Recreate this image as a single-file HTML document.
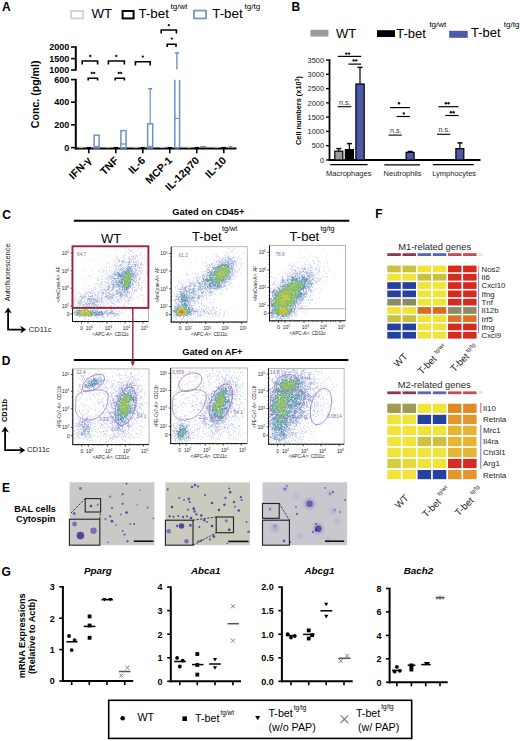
<!DOCTYPE html>
<html><head><meta charset="utf-8"><style>
html,body{margin:0;padding:0;background:#fff;}
svg{display:block;font-family:"Liberation Sans",sans-serif;}
</style></head><body>
<svg width="520" height="741" viewBox="0 0 520 741">
<defs><filter id="sb" x="-5%" y="-5%" width="110%" height="110%"><feGaussianBlur stdDeviation="0.4"/></filter><filter id="bl" x="-1" y="-1" width="3" height="3"><feGaussianBlur stdDeviation="1.2"/></filter></defs>
<rect width="520" height="741" fill="#fff"/>
<text x="2" y="10.8" font-size="12" font-weight="bold">A</text>
<rect x="71.2" y="11" width="12" height="7.4" fill="none" stroke="#cfcfcf" stroke-width="1.8"/>
<text x="91.5" y="17.8" font-size="13.3">WT</text>
<rect x="122.6" y="11" width="11" height="7.4" fill="none" stroke="#000" stroke-width="2"/>
<text x="138.4" y="17.8" font-size="13.4">T-bet</text>
<text x="170.6" y="8.6" font-size="8">tg/wt</text>
<rect x="194" y="10.6" width="12" height="7.8" fill="none" stroke="#7a94c8" stroke-width="1.8"/>
<text x="212.2" y="17.8" font-size="13.4">T-bet</text>
<text x="244.6" y="8.6" font-size="8">tg/tg</text>
<line x1="75.8" y1="46.2" x2="75.8" y2="70.8" stroke="#000" stroke-width="2"/>
<line x1="71" y1="47" x2="75.8" y2="47" stroke="#000" stroke-width="1.6"/>
<text x="69.2" y="50.2" font-size="9" font-weight="bold" text-anchor="end">2000</text>
<line x1="71" y1="58.6" x2="75.8" y2="58.6" stroke="#000" stroke-width="1.6"/>
<text x="69.2" y="61.8" font-size="9" font-weight="bold" text-anchor="end">1500</text>
<line x1="71" y1="70" x2="75.8" y2="70" stroke="#000" stroke-width="1.6"/>
<text x="69.2" y="73.2" font-size="9" font-weight="bold" text-anchor="end">1000</text>
<line x1="75.8" y1="78.8" x2="75.8" y2="149.5" stroke="#000" stroke-width="2"/>
<line x1="71" y1="79.6" x2="75.8" y2="79.6" stroke="#000" stroke-width="1.6"/>
<text x="69.2" y="82.8" font-size="9" font-weight="bold" text-anchor="end">600</text>
<line x1="71" y1="102.2" x2="75.8" y2="102.2" stroke="#000" stroke-width="1.6"/>
<text x="69.2" y="105.4" font-size="9" font-weight="bold" text-anchor="end">400</text>
<line x1="71" y1="124.8" x2="75.8" y2="124.8" stroke="#000" stroke-width="1.6"/>
<text x="69.2" y="128" font-size="9" font-weight="bold" text-anchor="end">200</text>
<line x1="71" y1="147.6" x2="75.8" y2="147.6" stroke="#000" stroke-width="1.6"/>
<text x="69.2" y="150.8" font-size="9" font-weight="bold" text-anchor="end">0</text>
<line x1="74.8" y1="148.6" x2="236.5" y2="148.6" stroke="#000" stroke-width="2"/>
<line x1="88.8" y1="148.6" x2="88.8" y2="153.2" stroke="#000" stroke-width="1.6"/>
<line x1="115.8" y1="148.6" x2="115.8" y2="153.2" stroke="#000" stroke-width="1.6"/>
<line x1="142.8" y1="148.6" x2="142.8" y2="153.2" stroke="#000" stroke-width="1.6"/>
<line x1="169.8" y1="148.6" x2="169.8" y2="153.2" stroke="#000" stroke-width="1.6"/>
<line x1="196.8" y1="148.6" x2="196.8" y2="153.2" stroke="#000" stroke-width="1.6"/>
<line x1="223.8" y1="148.6" x2="223.8" y2="153.2" stroke="#000" stroke-width="1.6"/>
<text transform="translate(39.2,128.2) rotate(-90)" font-size="10.6" font-weight="bold">Conc. (pg/ml)</text>
<text transform="translate(92,161.2) rotate(-45)" font-size="10.6" font-weight="bold" text-anchor="end">IFN-γ</text>
<text transform="translate(119,161.2) rotate(-45)" font-size="10.6" font-weight="bold" text-anchor="end">TNF</text>
<text transform="translate(146,161.2) rotate(-45)" font-size="10.6" font-weight="bold" text-anchor="end">IL-6</text>
<text transform="translate(173,161.2) rotate(-45)" font-size="10.6" font-weight="bold" text-anchor="end">MCP-1</text>
<text transform="translate(200,161.2) rotate(-45)" font-size="10.6" font-weight="bold" text-anchor="end">IL-12p70</text>
<text transform="translate(227,161.2) rotate(-45)" font-size="10.6" font-weight="bold" text-anchor="end">IL-10</text>
<line x1="79.3" y1="147.4" x2="83.3" y2="147.4" stroke="#bdbdbd" stroke-width="1.4"/>
<line x1="86.6" y1="147.6" x2="91" y2="147.6" stroke="#000" stroke-width="1.4"/>
<line x1="106.3" y1="147.4" x2="110.3" y2="147.4" stroke="#bdbdbd" stroke-width="1.4"/>
<line x1="113.6" y1="147.6" x2="118" y2="147.6" stroke="#000" stroke-width="1.4"/>
<line x1="133.3" y1="147.4" x2="137.3" y2="147.4" stroke="#bdbdbd" stroke-width="1.4"/>
<line x1="140.6" y1="147.6" x2="145" y2="147.6" stroke="#000" stroke-width="1.4"/>
<line x1="160.3" y1="147.4" x2="164.3" y2="147.4" stroke="#bdbdbd" stroke-width="1.4"/>
<line x1="167.6" y1="147.6" x2="172" y2="147.6" stroke="#000" stroke-width="1.4"/>
<line x1="187.3" y1="147.4" x2="191.3" y2="147.4" stroke="#bdbdbd" stroke-width="1.4"/>
<line x1="194.6" y1="147.6" x2="199" y2="147.6" stroke="#000" stroke-width="1.4"/>
<line x1="214.3" y1="147.4" x2="218.3" y2="147.4" stroke="#bdbdbd" stroke-width="1.4"/>
<line x1="221.6" y1="147.6" x2="226" y2="147.6" stroke="#000" stroke-width="1.4"/>
<rect x="94.1" y="135.2" width="5" height="12.8" fill="none" stroke="#6f8fca" stroke-width="1.5"/>
<line x1="94.1" y1="146.5" x2="99.1" y2="146.5" stroke="#6f8fca" stroke-width="1.2"/>
<rect x="120.9" y="130.6" width="5.2" height="17.4" fill="none" stroke="#6f8fca" stroke-width="1.5"/>
<line x1="120.9" y1="144" x2="126.1" y2="144" stroke="#6f8fca" stroke-width="1.2"/>
<rect x="147.7" y="123.8" width="5" height="24.2" fill="none" stroke="#6f8fca" stroke-width="1.5"/>
<line x1="147.7" y1="146.5" x2="152.7" y2="146.5" stroke="#6f8fca" stroke-width="1.2"/>
<line x1="150.2" y1="123.8" x2="150.2" y2="89" stroke="#6f8fca" stroke-width="1.2"/>
<line x1="148.2" y1="88.8" x2="152.2" y2="88.8" stroke="#6f8fca" stroke-width="1.6"/>
<line x1="174.8" y1="79.8" x2="174.8" y2="148" stroke="#6f8fca" stroke-width="1.5"/>
<line x1="179.6" y1="79.8" x2="179.6" y2="148" stroke="#6f8fca" stroke-width="1.5"/>
<line x1="174.8" y1="148" x2="179.6" y2="148" stroke="#6f8fca" stroke-width="1.5"/>
<line x1="174.8" y1="118.4" x2="179.6" y2="118.4" stroke="#6f8fca" stroke-width="1.2"/>
<line x1="176.9" y1="53.2" x2="176.9" y2="69.6" stroke="#6f8fca" stroke-width="1.4"/>
<line x1="174.9" y1="53" x2="178.9" y2="53" stroke="#6f8fca" stroke-width="1.6"/>
<path d="M200.6,148 v-1.5 h5 v1.5" stroke="#6f8fca" stroke-width="1.2" fill="none"/>
<path d="M228,148 q2.5,-3 5,0" stroke="#6f8fca" stroke-width="1.4" fill="none"/>
<path d="M82.2,64.6 V61 H97.6 V64.6" stroke="#000" stroke-width="1.6" fill="none"/>
<circle cx="90.2" cy="56" r="1.15" fill="#111"/>
<path d="M88.2,80.6 V78.2 H97.6 V80.6" stroke="#000" stroke-width="1.6" fill="none"/>
<circle cx="91.8" cy="73" r="1.15" fill="#111"/>
<circle cx="94.2" cy="73" r="1.15" fill="#111"/>
<path d="M108.4,64.6 V61 H124.4 V64.6" stroke="#000" stroke-width="1.6" fill="none"/>
<circle cx="116.3" cy="56" r="1.15" fill="#111"/>
<path d="M115.2,80.6 V78.2 H124.4 V80.6" stroke="#000" stroke-width="1.6" fill="none"/>
<circle cx="118.8" cy="73" r="1.15" fill="#111"/>
<circle cx="121.2" cy="73" r="1.15" fill="#111"/>
<path d="M135.4,65.4 V61.8 H150.2 V65.4" stroke="#000" stroke-width="1.6" fill="none"/>
<circle cx="142.8" cy="56.6" r="1.15" fill="#111"/>
<path d="M161.2,33.6 V30 H176.4 V33.6" stroke="#000" stroke-width="1.6" fill="none"/>
<circle cx="168.8" cy="25.2" r="1.15" fill="#111"/>
<path d="M167.2,46.9 V44.3 H176 V46.9" stroke="#000" stroke-width="1.6" fill="none"/>
<circle cx="171.8" cy="38.6" r="1.15" fill="#111"/>
<text x="291.5" y="10.8" font-size="12" font-weight="bold">B</text>
<rect x="310.4" y="29.8" width="18" height="6.8" fill="#9b9b9b" stroke="none" stroke-width="1"/>
<text x="336" y="37.9" font-size="13">WT</text>
<rect x="377" y="30.2" width="18" height="6.8" fill="#000" stroke="none" stroke-width="1"/>
<text x="396.2" y="37.9" font-size="13">T-bet</text>
<text x="429.4" y="27.2" font-size="8">tg/wt</text>
<rect x="449.2" y="30.8" width="18.5" height="7" fill="#4d59a8" stroke="none" stroke-width="1"/>
<text x="471" y="37.4" font-size="13">T-bet</text>
<text x="503.8" y="26.5" font-size="8">tg/tg</text>
<line x1="329.5" y1="59.3" x2="329.5" y2="161" stroke="#000" stroke-width="1.8"/>
<line x1="326" y1="160" x2="329.5" y2="160" stroke="#000" stroke-width="1.3"/>
<text x="324" y="162.6" font-size="7.4" text-anchor="end" fill="#222">0</text>
<line x1="326" y1="145.7" x2="329.5" y2="145.7" stroke="#000" stroke-width="1.3"/>
<text x="324" y="148.3" font-size="7.4" text-anchor="end" fill="#222">500</text>
<line x1="326" y1="131.4" x2="329.5" y2="131.4" stroke="#000" stroke-width="1.3"/>
<text x="324" y="134" font-size="7.4" text-anchor="end" fill="#222">1000</text>
<line x1="326" y1="117.1" x2="329.5" y2="117.1" stroke="#000" stroke-width="1.3"/>
<text x="324" y="119.7" font-size="7.4" text-anchor="end" fill="#222">1500</text>
<line x1="326" y1="102.9" x2="329.5" y2="102.9" stroke="#000" stroke-width="1.3"/>
<text x="324" y="105.5" font-size="7.4" text-anchor="end" fill="#222">2000</text>
<line x1="326" y1="88.6" x2="329.5" y2="88.6" stroke="#000" stroke-width="1.3"/>
<text x="324" y="91.2" font-size="7.4" text-anchor="end" fill="#222">2500</text>
<line x1="326" y1="74.3" x2="329.5" y2="74.3" stroke="#000" stroke-width="1.3"/>
<text x="324" y="76.9" font-size="7.4" text-anchor="end" fill="#222">3000</text>
<line x1="326" y1="60" x2="329.5" y2="60" stroke="#000" stroke-width="1.3"/>
<text x="324" y="62.6" font-size="7.4" text-anchor="end" fill="#222">3500</text>
<line x1="328.6" y1="160" x2="480.5" y2="160" stroke="#000" stroke-width="2"/>
<text transform="translate(301.2,145) rotate(-90)" font-size="7.4" font-weight="bold">Cell numbers (x10<tspan dy="-2.5" font-size="5">3</tspan><tspan dy="2.5">)</tspan></text>
<rect x="334.8" y="151.2" width="8" height="8.8" fill="#9b9b9b" stroke="#000" stroke-width="1.2"/>
<line x1="338.8" y1="151.2" x2="338.8" y2="148.6" stroke="#000" stroke-width="1.2"/>
<line x1="336.3" y1="148.6" x2="341.3" y2="148.6" stroke="#000" stroke-width="1.5"/>
<rect x="345.4" y="149.6" width="8" height="10.4" fill="#000" stroke="#000" stroke-width="1.2"/>
<line x1="349.4" y1="149.6" x2="349.4" y2="143.6" stroke="#000" stroke-width="1.2"/>
<line x1="346.9" y1="143.6" x2="351.9" y2="143.6" stroke="#000" stroke-width="1.5"/>
<rect x="355.9" y="84" width="8.3" height="76" fill="#4d59a8" stroke="#000" stroke-width="1.2"/>
<line x1="360" y1="84" x2="360" y2="67.4" stroke="#000" stroke-width="1.2"/>
<line x1="357.5" y1="67.4" x2="362.5" y2="67.4" stroke="#000" stroke-width="1.5"/>
<line x1="389" y1="159.6" x2="397" y2="159.6" stroke="#000" stroke-width="0.8"/>
<rect x="406.1" y="152.4" width="8" height="7.6" fill="#4d59a8" stroke="#000" stroke-width="1.2"/>
<line x1="410.1" y1="152.4" x2="410.1" y2="151.5" stroke="#000" stroke-width="1.2"/>
<line x1="407.6" y1="151.5" x2="412.6" y2="151.5" stroke="#000" stroke-width="1.5"/>
<rect x="455.9" y="148.6" width="7.9" height="11.4" fill="#4d59a8" stroke="#000" stroke-width="1.2"/>
<line x1="459.9" y1="148.6" x2="459.9" y2="142.9" stroke="#000" stroke-width="1.2"/>
<line x1="457.4" y1="142.9" x2="462.4" y2="142.9" stroke="#000" stroke-width="1.5"/>
<line x1="330.2" y1="164.6" x2="367.6" y2="164.6" stroke="#000" stroke-width="1.3"/>
<line x1="384.3" y1="164.8" x2="420" y2="164.8" stroke="#000" stroke-width="1.3"/>
<line x1="432.8" y1="164.6" x2="473.8" y2="164.6" stroke="#000" stroke-width="1.3"/>
<text x="326" y="175.8" font-size="7.5" fill="#222">Macrophages</text>
<text x="383.6" y="175.8" font-size="7.5" fill="#222">Neutrophils</text>
<text x="432.2" y="175.8" font-size="7.5" fill="#222">Lymphocytes</text>
<line x1="337.7" y1="56.4" x2="361.2" y2="56.4" stroke="#000" stroke-width="1.2"/>
<circle cx="346.3" cy="53.6" r="1.2" fill="#111"/>
<circle cx="349" cy="53.6" r="1.2" fill="#111"/>
<line x1="348.4" y1="64.1" x2="361.2" y2="64.1" stroke="#000" stroke-width="1.2"/>
<circle cx="353.6" cy="60.4" r="1.2" fill="#111"/>
<circle cx="356.3" cy="60.4" r="1.2" fill="#111"/>
<text x="339" y="104.6" font-size="7.2" fill="#333">n.s.</text>
<line x1="337.6" y1="106.7" x2="351.4" y2="106.7" stroke="#000" stroke-width="1.1"/>
<line x1="390" y1="107.6" x2="410" y2="107.6" stroke="#000" stroke-width="1.2"/>
<circle cx="399" cy="103.2" r="1.2" fill="#111"/>
<line x1="396.6" y1="116.5" x2="410" y2="116.5" stroke="#000" stroke-width="1.2"/>
<circle cx="403.8" cy="113.4" r="1.2" fill="#111"/>
<text x="390" y="133" font-size="7.2" fill="#333">n.s.</text>
<line x1="388.5" y1="135.1" x2="401.8" y2="135.1" stroke="#000" stroke-width="1.1"/>
<line x1="438.5" y1="106.7" x2="458.5" y2="106.7" stroke="#000" stroke-width="1.2"/>
<circle cx="445.9" cy="103.2" r="1.2" fill="#111"/>
<circle cx="448.6" cy="103.2" r="1.2" fill="#111"/>
<line x1="445.4" y1="115.5" x2="458.5" y2="115.5" stroke="#000" stroke-width="1.2"/>
<circle cx="450.9" cy="112.3" r="1.2" fill="#111"/>
<circle cx="453.6" cy="112.3" r="1.2" fill="#111"/>
<text x="438.6" y="132.2" font-size="7.2" fill="#333">n.s.</text>
<line x1="437" y1="134.3" x2="450.3" y2="134.3" stroke="#000" stroke-width="1.1"/>
<text x="375.2" y="218.3" font-size="12" font-weight="bold">F</text>
<text x="398.2" y="249.6" font-size="9.4" fill="#2a2a2a">M1-related genes</text>
<rect x="387.3" y="253.2" width="13.5" height="2.8" fill="#8a3a48" stroke="none" stroke-width="1"/>
<rect x="402.5" y="253.2" width="13.5" height="2.8" fill="#8a3a48" stroke="none" stroke-width="1"/>
<rect x="417.6" y="253.2" width="13.5" height="2.8" fill="#5866b4" stroke="none" stroke-width="1"/>
<rect x="432.8" y="253.2" width="13.5" height="2.8" fill="#5866b4" stroke="none" stroke-width="1"/>
<rect x="448" y="253.2" width="13.5" height="2.8" fill="#cc4a4a" stroke="none" stroke-width="1"/>
<rect x="463.1" y="253.2" width="13.5" height="2.8" fill="#cc4a4a" stroke="none" stroke-width="1"/>
<text x="478.5" y="256" font-size="2.8" fill="#aaa">2%</text>
<rect x="387.3" y="265.6" width="13.5" height="6.7" fill="#c9c140" stroke="none" stroke-width="1"/>
<rect x="402.5" y="265.6" width="13.5" height="6.7" fill="#c9c140" stroke="none" stroke-width="1"/>
<rect x="417.6" y="265.6" width="13.5" height="6.7" fill="#f0e43a" stroke="none" stroke-width="1"/>
<rect x="432.8" y="265.6" width="13.5" height="6.7" fill="#f0e43a" stroke="none" stroke-width="1"/>
<rect x="448" y="265.6" width="13.5" height="6.7" fill="#d42a22" stroke="none" stroke-width="1"/>
<rect x="463.1" y="265.6" width="13.5" height="6.7" fill="#d42a22" stroke="none" stroke-width="1"/>
<rect x="387.3" y="273.9" width="13.5" height="6.7" fill="#f0e43a" stroke="none" stroke-width="1"/>
<rect x="402.5" y="273.9" width="13.5" height="6.7" fill="#f0e43a" stroke="none" stroke-width="1"/>
<rect x="417.6" y="273.9" width="13.5" height="6.7" fill="#c9c140" stroke="none" stroke-width="1"/>
<rect x="432.8" y="273.9" width="13.5" height="6.7" fill="#c9c140" stroke="none" stroke-width="1"/>
<rect x="448" y="273.9" width="13.5" height="6.7" fill="#d42a22" stroke="none" stroke-width="1"/>
<rect x="463.1" y="273.9" width="13.5" height="6.7" fill="#d42a22" stroke="none" stroke-width="1"/>
<rect x="387.3" y="282.2" width="13.5" height="6.7" fill="#2441a0" stroke="none" stroke-width="1"/>
<rect x="402.5" y="282.2" width="13.5" height="6.7" fill="#2441a0" stroke="none" stroke-width="1"/>
<rect x="417.6" y="282.2" width="13.5" height="6.7" fill="#f0e43a" stroke="none" stroke-width="1"/>
<rect x="432.8" y="282.2" width="13.5" height="6.7" fill="#f0e43a" stroke="none" stroke-width="1"/>
<rect x="448" y="282.2" width="13.5" height="6.7" fill="#d42a22" stroke="none" stroke-width="1"/>
<rect x="463.1" y="282.2" width="13.5" height="6.7" fill="#d42a22" stroke="none" stroke-width="1"/>
<rect x="387.3" y="290.5" width="13.5" height="6.7" fill="#2441a0" stroke="none" stroke-width="1"/>
<rect x="402.5" y="290.5" width="13.5" height="6.7" fill="#2441a0" stroke="none" stroke-width="1"/>
<rect x="417.6" y="290.5" width="13.5" height="6.7" fill="#f0e43a" stroke="none" stroke-width="1"/>
<rect x="432.8" y="290.5" width="13.5" height="6.7" fill="#f0e43a" stroke="none" stroke-width="1"/>
<rect x="448" y="290.5" width="13.5" height="6.7" fill="#d42a22" stroke="none" stroke-width="1"/>
<rect x="463.1" y="290.5" width="13.5" height="6.7" fill="#d42a22" stroke="none" stroke-width="1"/>
<rect x="387.3" y="298.8" width="13.5" height="6.7" fill="#8b8b62" stroke="none" stroke-width="1"/>
<rect x="402.5" y="298.8" width="13.5" height="6.7" fill="#8b8b62" stroke="none" stroke-width="1"/>
<rect x="417.6" y="298.8" width="13.5" height="6.7" fill="#f0e43a" stroke="none" stroke-width="1"/>
<rect x="432.8" y="298.8" width="13.5" height="6.7" fill="#f0e43a" stroke="none" stroke-width="1"/>
<rect x="448" y="298.8" width="13.5" height="6.7" fill="#d42a22" stroke="none" stroke-width="1"/>
<rect x="463.1" y="298.8" width="13.5" height="6.7" fill="#d42a22" stroke="none" stroke-width="1"/>
<rect x="387.3" y="307.1" width="13.5" height="6.7" fill="#f0e43a" stroke="none" stroke-width="1"/>
<rect x="402.5" y="307.1" width="13.5" height="6.7" fill="#f0e43a" stroke="none" stroke-width="1"/>
<rect x="417.6" y="307.1" width="13.5" height="6.7" fill="#dc6a22" stroke="none" stroke-width="1"/>
<rect x="432.8" y="307.1" width="13.5" height="6.7" fill="#dc6a22" stroke="none" stroke-width="1"/>
<rect x="448" y="307.1" width="13.5" height="6.7" fill="#8b8b62" stroke="none" stroke-width="1"/>
<rect x="463.1" y="307.1" width="13.5" height="6.7" fill="#8b8b62" stroke="none" stroke-width="1"/>
<rect x="387.3" y="315.3" width="13.5" height="6.7" fill="#c9c140" stroke="none" stroke-width="1"/>
<rect x="402.5" y="315.3" width="13.5" height="6.7" fill="#c9c140" stroke="none" stroke-width="1"/>
<rect x="417.6" y="315.3" width="13.5" height="6.7" fill="#f0e43a" stroke="none" stroke-width="1"/>
<rect x="432.8" y="315.3" width="13.5" height="6.7" fill="#f0e43a" stroke="none" stroke-width="1"/>
<rect x="448" y="315.3" width="13.5" height="6.7" fill="#dc7428" stroke="none" stroke-width="1"/>
<rect x="463.1" y="315.3" width="13.5" height="6.7" fill="#dc7428" stroke="none" stroke-width="1"/>
<rect x="387.3" y="323.6" width="13.5" height="6.7" fill="#2441a0" stroke="none" stroke-width="1"/>
<rect x="402.5" y="323.6" width="13.5" height="6.7" fill="#2441a0" stroke="none" stroke-width="1"/>
<rect x="417.6" y="323.6" width="13.5" height="6.7" fill="#f0e43a" stroke="none" stroke-width="1"/>
<rect x="432.8" y="323.6" width="13.5" height="6.7" fill="#f0e43a" stroke="none" stroke-width="1"/>
<rect x="448" y="323.6" width="13.5" height="6.7" fill="#d42a22" stroke="none" stroke-width="1"/>
<rect x="463.1" y="323.6" width="13.5" height="6.7" fill="#d42a22" stroke="none" stroke-width="1"/>
<rect x="387.3" y="331.9" width="13.5" height="6.7" fill="#2441a0" stroke="none" stroke-width="1"/>
<rect x="402.5" y="331.9" width="13.5" height="6.7" fill="#2441a0" stroke="none" stroke-width="1"/>
<rect x="417.6" y="331.9" width="13.5" height="6.7" fill="#f0e43a" stroke="none" stroke-width="1"/>
<rect x="432.8" y="331.9" width="13.5" height="6.7" fill="#f0e43a" stroke="none" stroke-width="1"/>
<rect x="448" y="331.9" width="13.5" height="6.7" fill="#d42a22" stroke="none" stroke-width="1"/>
<rect x="463.1" y="331.9" width="13.5" height="6.7" fill="#d42a22" stroke="none" stroke-width="1"/>
<text x="481.6" y="271.8" font-size="7.8" fill="#222">Nos2</text>
<text x="481.6" y="280" font-size="7.8" fill="#222">Il6</text>
<text x="481.6" y="288.3" font-size="7.8" fill="#222">Cxcl10</text>
<text x="481.6" y="296.6" font-size="7.8" fill="#222">Ifng</text>
<text x="481.6" y="304.9" font-size="7.8" fill="#222">Tnf</text>
<text x="481.6" y="313.2" font-size="7.8" fill="#222">Il12b</text>
<text x="481.6" y="321.5" font-size="7.8" fill="#222">Irf5</text>
<text x="481.6" y="329.8" font-size="7.8" fill="#222">Ifng</text>
<text x="481.6" y="338.1" font-size="7.8" fill="#222">Cxcl9</text>
<line x1="478.6" y1="272.5" x2="478.6" y2="333" stroke="#5060c0" stroke-width="0.8"/>
<line x1="478.6" y1="265.6" x2="478.6" y2="272.5" stroke="#e09050" stroke-width="0.8"/>
<text x="397.7" y="388.4" font-size="9.4" fill="#2a2a2a">M2-related genes</text>
<rect x="387.3" y="391.4" width="13.5" height="2.8" fill="#8a3a48" stroke="none" stroke-width="1"/>
<rect x="402.5" y="391.4" width="13.5" height="2.8" fill="#8a3a48" stroke="none" stroke-width="1"/>
<rect x="417.6" y="391.4" width="13.5" height="2.8" fill="#5866b4" stroke="none" stroke-width="1"/>
<rect x="432.8" y="391.4" width="13.5" height="2.8" fill="#5866b4" stroke="none" stroke-width="1"/>
<rect x="448" y="391.4" width="13.5" height="2.8" fill="#cc4a4a" stroke="none" stroke-width="1"/>
<rect x="463.1" y="391.4" width="13.5" height="2.8" fill="#cc4a4a" stroke="none" stroke-width="1"/>
<text x="478.5" y="394" font-size="2.8" fill="#aaa">2%</text>
<rect x="387.3" y="403.7" width="13.5" height="9.2" fill="#a09a52" stroke="none" stroke-width="1"/>
<rect x="402.5" y="403.7" width="13.5" height="9.2" fill="#a09a52" stroke="none" stroke-width="1"/>
<rect x="417.6" y="403.7" width="13.5" height="9.2" fill="#f0e43a" stroke="none" stroke-width="1"/>
<rect x="432.8" y="403.7" width="13.5" height="9.2" fill="#f0e43a" stroke="none" stroke-width="1"/>
<rect x="448" y="403.7" width="13.5" height="9.2" fill="#df8a22" stroke="none" stroke-width="1"/>
<rect x="463.1" y="403.7" width="13.5" height="9.2" fill="#df8a22" stroke="none" stroke-width="1"/>
<rect x="387.3" y="414.8" width="13.5" height="9.2" fill="#f0e43a" stroke="none" stroke-width="1"/>
<rect x="402.5" y="414.8" width="13.5" height="9.2" fill="#f0e43a" stroke="none" stroke-width="1"/>
<rect x="417.6" y="414.8" width="13.5" height="9.2" fill="#2441a0" stroke="none" stroke-width="1"/>
<rect x="432.8" y="414.8" width="13.5" height="9.2" fill="#2441a0" stroke="none" stroke-width="1"/>
<rect x="448" y="414.8" width="13.5" height="9.2" fill="#e3962a" stroke="none" stroke-width="1"/>
<rect x="463.1" y="414.8" width="13.5" height="9.2" fill="#e3962a" stroke="none" stroke-width="1"/>
<rect x="387.3" y="425.8" width="13.5" height="9.2" fill="#f0e43a" stroke="none" stroke-width="1"/>
<rect x="402.5" y="425.8" width="13.5" height="9.2" fill="#f0e43a" stroke="none" stroke-width="1"/>
<rect x="417.6" y="425.8" width="13.5" height="9.2" fill="#f0e43a" stroke="none" stroke-width="1"/>
<rect x="432.8" y="425.8" width="13.5" height="9.2" fill="#f0e43a" stroke="none" stroke-width="1"/>
<rect x="448" y="425.8" width="13.5" height="9.2" fill="#e8b432" stroke="none" stroke-width="1"/>
<rect x="463.1" y="425.8" width="13.5" height="9.2" fill="#e8b432" stroke="none" stroke-width="1"/>
<rect x="387.3" y="436.9" width="13.5" height="9.2" fill="#f0e43a" stroke="none" stroke-width="1"/>
<rect x="402.5" y="436.9" width="13.5" height="9.2" fill="#f0e43a" stroke="none" stroke-width="1"/>
<rect x="417.6" y="436.9" width="13.5" height="9.2" fill="#c9c140" stroke="none" stroke-width="1"/>
<rect x="432.8" y="436.9" width="13.5" height="9.2" fill="#c9c140" stroke="none" stroke-width="1"/>
<rect x="448" y="436.9" width="13.5" height="9.2" fill="#e8b432" stroke="none" stroke-width="1"/>
<rect x="463.1" y="436.9" width="13.5" height="9.2" fill="#e8b432" stroke="none" stroke-width="1"/>
<rect x="387.3" y="447.9" width="13.5" height="9.2" fill="#f0e43a" stroke="none" stroke-width="1"/>
<rect x="402.5" y="447.9" width="13.5" height="9.2" fill="#f0e43a" stroke="none" stroke-width="1"/>
<rect x="417.6" y="447.9" width="13.5" height="9.2" fill="#f0e43a" stroke="none" stroke-width="1"/>
<rect x="432.8" y="447.9" width="13.5" height="9.2" fill="#f0e43a" stroke="none" stroke-width="1"/>
<rect x="448" y="447.9" width="13.5" height="9.2" fill="#e8b432" stroke="none" stroke-width="1"/>
<rect x="463.1" y="447.9" width="13.5" height="9.2" fill="#e8b432" stroke="none" stroke-width="1"/>
<rect x="387.3" y="458.9" width="13.5" height="9.2" fill="#d6cc42" stroke="none" stroke-width="1"/>
<rect x="402.5" y="458.9" width="13.5" height="9.2" fill="#e4da3c" stroke="none" stroke-width="1"/>
<rect x="417.6" y="458.9" width="13.5" height="9.2" fill="#f0e43a" stroke="none" stroke-width="1"/>
<rect x="432.8" y="458.9" width="13.5" height="9.2" fill="#f0e43a" stroke="none" stroke-width="1"/>
<rect x="448" y="458.9" width="13.5" height="9.2" fill="#d42a22" stroke="none" stroke-width="1"/>
<rect x="463.1" y="458.9" width="13.5" height="9.2" fill="#d42a22" stroke="none" stroke-width="1"/>
<rect x="387.3" y="470" width="13.5" height="9.2" fill="#f0e43a" stroke="none" stroke-width="1"/>
<rect x="402.5" y="470" width="13.5" height="9.2" fill="#f0e43a" stroke="none" stroke-width="1"/>
<rect x="417.6" y="470" width="13.5" height="9.2" fill="#2441a0" stroke="none" stroke-width="1"/>
<rect x="432.8" y="470" width="13.5" height="9.2" fill="#2441a0" stroke="none" stroke-width="1"/>
<rect x="448" y="470" width="13.5" height="9.2" fill="#e3962a" stroke="none" stroke-width="1"/>
<rect x="463.1" y="470" width="13.5" height="9.2" fill="#e3962a" stroke="none" stroke-width="1"/>
<text x="483" y="411.2" font-size="8" fill="#222">Il10</text>
<text x="483" y="422.2" font-size="8" fill="#222">Retnla</text>
<text x="483" y="433.3" font-size="8" fill="#222">Mrc1</text>
<text x="483" y="444.4" font-size="8" fill="#222">Il4ra</text>
<text x="483" y="455.4" font-size="8" fill="#222">Chi3l1</text>
<text x="483" y="466.4" font-size="8" fill="#222">Arg1</text>
<text x="483" y="477.5" font-size="8" fill="#222">Retnla</text>
<line x1="480.8" y1="402.8" x2="480.8" y2="412.8" stroke="#a04060" stroke-width="0.8"/>
<line x1="480.8" y1="425" x2="480.8" y2="468.8" stroke="#6050b0" stroke-width="0.8"/>
<text transform="translate(400.4,360) rotate(-45)" font-size="9.6" text-anchor="middle" fill="#222" y="3.5">WT</text>
<text transform="translate(427,364.8) rotate(-45)" font-size="9.6" text-anchor="middle" fill="#222" y="3.5">T-bet</text>
<text transform="translate(438.9,348.5) rotate(-45)" font-size="5.6" text-anchor="middle" fill="#222" y="2">tg/wt</text>
<text transform="translate(459.5,362.4) rotate(-45)" font-size="9.6" text-anchor="middle" fill="#222" y="3.5">T-bet</text>
<text transform="translate(470.1,347.5) rotate(-45)" font-size="5.6" text-anchor="middle" fill="#222" y="2">tg/tg</text>
<text transform="translate(401.5,501.3) rotate(-45)" font-size="9.6" text-anchor="middle" fill="#222" y="3.5">WT</text>
<text transform="translate(431.4,507.9) rotate(-45)" font-size="9.6" text-anchor="middle" fill="#222" y="3.5">T-bet</text>
<text transform="translate(441.9,490.5) rotate(-45)" font-size="5.6" text-anchor="middle" fill="#222" y="2">tg/wt</text>
<text transform="translate(464.1,506.3) rotate(-45)" font-size="9.6" text-anchor="middle" fill="#222" y="3.5">T-bet</text>
<text transform="translate(474.4,489.5) rotate(-45)" font-size="5.6" text-anchor="middle" fill="#222" y="2">tg/tg</text>
<text x="1.5" y="575.5" font-size="12" font-weight="bold">G</text>
<text transform="translate(25.2,678.2) rotate(-90)" font-size="9.2" font-weight="bold">mRNA Expressions</text>
<text transform="translate(34.8,674) rotate(-90)" font-size="9.2" font-weight="bold">(Relative to Actb)</text>
<rect x="108.7" y="700.3" width="303" height="38.1" fill="none" stroke="#000" stroke-width="1.6"/>
<circle cx="122.7" cy="718.3" r="2.3" fill="#000"/>
<text x="137.4" y="721.2" font-size="10.7">WT</text>
<rect x="182.4" y="716.4" width="4.6" height="4.6" fill="#000" stroke="none" stroke-width="1"/>
<text x="195.1" y="722.2" font-size="10.7">T-bet</text>
<text x="220.6" y="714.8" font-size="6.3">tg/wt</text>
<path d="M255.2,715.9 h5 l-2.5,4.4 z" stroke="#000" stroke-width="0" fill="#000"/>
<text x="268.4" y="716.9" font-size="10.7">T-bet</text>
<text x="293.8" y="709.6" font-size="6.4">tg/tg</text>
<text x="268.4" y="730.9" font-size="10.7">(w/o PAP)</text>
<path d="M340.6,715.4 l7.6,7.6 M348.2,715.4 l-7.6,7.6" stroke="#777" stroke-width="1.1" fill="none"/>
<text x="355.9" y="716.5" font-size="10.7">T-bet</text>
<text x="381.2" y="709.3" font-size="6.4">tg/tg</text>
<text x="357.9" y="731.3" font-size="10.7">(w/ PAP)</text>
<line x1="62.9" y1="586" x2="62.9" y2="682" stroke="#000" stroke-width="2"/>
<line x1="61.9" y1="681" x2="133.2" y2="681" stroke="#000" stroke-width="2"/>
<line x1="59.3" y1="681" x2="62.9" y2="681" stroke="#000" stroke-width="1.6"/>
<text x="54.7" y="684.3" font-size="9" font-weight="bold" text-anchor="end">0</text>
<line x1="59.3" y1="649.6" x2="62.9" y2="649.6" stroke="#000" stroke-width="1.6"/>
<text x="54.7" y="652.9" font-size="9" font-weight="bold" text-anchor="end">1</text>
<line x1="59.3" y1="618.2" x2="62.9" y2="618.2" stroke="#000" stroke-width="1.6"/>
<text x="54.7" y="621.5" font-size="9" font-weight="bold" text-anchor="end">2</text>
<line x1="59.3" y1="586.8" x2="62.9" y2="586.8" stroke="#000" stroke-width="1.6"/>
<text x="54.7" y="590.1" font-size="9" font-weight="bold" text-anchor="end">3</text>
<line x1="71.7" y1="681" x2="71.7" y2="685" stroke="#000" stroke-width="1.6"/>
<line x1="89.3" y1="681" x2="89.3" y2="685" stroke="#000" stroke-width="1.6"/>
<line x1="106.9" y1="681" x2="106.9" y2="685" stroke="#000" stroke-width="1.6"/>
<line x1="124.7" y1="681" x2="124.7" y2="685" stroke="#000" stroke-width="1.6"/>
<text x="84" y="574" font-size="9.8" font-weight="bold" font-style="italic">Pparg</text>
<circle cx="69" cy="636" r="1.9" fill="#000"/>
<circle cx="74.6" cy="640.1" r="1.9" fill="#000"/>
<circle cx="71.7" cy="650.1" r="1.9" fill="#000"/>
<line x1="66.4" y1="641.8" x2="77.5" y2="641.8" stroke="#000" stroke-width="1.5"/>
<rect x="87.7" y="614.5" width="3.8" height="3.8" fill="#000" stroke="none" stroke-width="1"/>
<rect x="87.7" y="623.6" width="3.8" height="3.8" fill="#000" stroke="none" stroke-width="1"/>
<rect x="87.7" y="635.9" width="3.8" height="3.8" fill="#000" stroke="none" stroke-width="1"/>
<line x1="83.6" y1="626.4" x2="95.4" y2="626.4" stroke="#000" stroke-width="1.5"/>
<path d="M102.4,598 h4.2 l-2.1,3.6 z" stroke="#000" stroke-width="0" fill="#000"/>
<path d="M108.2,598 h4.2 l-2.1,3.6 z" stroke="#000" stroke-width="0" fill="#000"/>
<line x1="101.5" y1="599.7" x2="112.9" y2="599.7" stroke="#000" stroke-width="1.5"/>
<path d="M119.3,673.5 l4,4 M123.3,673.5 l-4,4" stroke="#808080" stroke-width="1" fill="none"/>
<path d="M125.3,665.6 l4,4 M129.3,665.6 l-4,4" stroke="#808080" stroke-width="1" fill="none"/>
<line x1="119" y1="671.5" x2="130.4" y2="671.5" stroke="#555" stroke-width="1.5"/>
<line x1="170.8" y1="586.3" x2="170.8" y2="682.3" stroke="#000" stroke-width="2"/>
<line x1="169.8" y1="681.3" x2="241" y2="681.3" stroke="#000" stroke-width="2"/>
<line x1="167.2" y1="681.3" x2="170.8" y2="681.3" stroke="#000" stroke-width="1.6"/>
<text x="162.6" y="684.6" font-size="9" font-weight="bold" text-anchor="end">0</text>
<line x1="167.2" y1="657.8" x2="170.8" y2="657.8" stroke="#000" stroke-width="1.6"/>
<text x="162.6" y="661" font-size="9" font-weight="bold" text-anchor="end">1</text>
<line x1="167.2" y1="634.2" x2="170.8" y2="634.2" stroke="#000" stroke-width="1.6"/>
<text x="162.6" y="637.5" font-size="9" font-weight="bold" text-anchor="end">2</text>
<line x1="167.2" y1="610.6" x2="170.8" y2="610.6" stroke="#000" stroke-width="1.6"/>
<text x="162.6" y="613.9" font-size="9" font-weight="bold" text-anchor="end">3</text>
<line x1="167.2" y1="587.1" x2="170.8" y2="587.1" stroke="#000" stroke-width="1.6"/>
<text x="162.6" y="590.4" font-size="9" font-weight="bold" text-anchor="end">4</text>
<line x1="179.8" y1="681.3" x2="179.8" y2="685.3" stroke="#000" stroke-width="1.6"/>
<line x1="197.3" y1="681.3" x2="197.3" y2="685.3" stroke="#000" stroke-width="1.6"/>
<line x1="215" y1="681.3" x2="215" y2="685.3" stroke="#000" stroke-width="1.6"/>
<line x1="232.9" y1="681.3" x2="232.9" y2="685.3" stroke="#000" stroke-width="1.6"/>
<text x="191" y="574" font-size="9.8" font-weight="bold" font-style="italic">Abca1</text>
<circle cx="177.1" cy="657.9" r="1.9" fill="#000"/>
<circle cx="182.7" cy="660.6" r="1.9" fill="#000"/>
<circle cx="179.8" cy="666.5" r="1.9" fill="#000"/>
<line x1="174.2" y1="661.5" x2="185.8" y2="661.5" stroke="#000" stroke-width="1.5"/>
<rect x="195.4" y="652.1" width="3.8" height="3.8" fill="#000" stroke="none" stroke-width="1"/>
<rect x="195.4" y="663.1" width="3.8" height="3.8" fill="#000" stroke="none" stroke-width="1"/>
<rect x="195.4" y="672.7" width="3.8" height="3.8" fill="#000" stroke="none" stroke-width="1"/>
<line x1="192" y1="664.6" x2="203.5" y2="664.6" stroke="#000" stroke-width="1.5"/>
<path d="M212.9,657.9 h4.2 l-2.1,3.6 z" stroke="#000" stroke-width="0" fill="#000"/>
<path d="M212.9,666.2 h4.2 l-2.1,3.6 z" stroke="#000" stroke-width="0" fill="#000"/>
<line x1="209.2" y1="664" x2="220.8" y2="664" stroke="#000" stroke-width="1.5"/>
<path d="M230.9,604.3 l4,4 M234.9,604.3 l-4,4" stroke="#808080" stroke-width="1" fill="none"/>
<path d="M230.9,638.6 l4,4 M234.9,638.6 l-4,4" stroke="#808080" stroke-width="1" fill="none"/>
<line x1="227.5" y1="623.7" x2="239" y2="623.7" stroke="#555" stroke-width="1.5"/>
<line x1="281.9" y1="586.3" x2="281.9" y2="682.3" stroke="#000" stroke-width="2"/>
<line x1="280.9" y1="681.3" x2="352.7" y2="681.3" stroke="#000" stroke-width="2"/>
<line x1="278.3" y1="681.3" x2="281.9" y2="681.3" stroke="#000" stroke-width="1.6"/>
<text x="273.7" y="684.6" font-size="9" font-weight="bold" text-anchor="end">0.0</text>
<line x1="278.3" y1="657.8" x2="281.9" y2="657.8" stroke="#000" stroke-width="1.6"/>
<text x="273.7" y="661" font-size="9" font-weight="bold" text-anchor="end">0.5</text>
<line x1="278.3" y1="634.2" x2="281.9" y2="634.2" stroke="#000" stroke-width="1.6"/>
<text x="273.7" y="637.5" font-size="9" font-weight="bold" text-anchor="end">1.0</text>
<line x1="278.3" y1="610.6" x2="281.9" y2="610.6" stroke="#000" stroke-width="1.6"/>
<text x="273.7" y="613.9" font-size="9" font-weight="bold" text-anchor="end">1.5</text>
<line x1="278.3" y1="587.1" x2="281.9" y2="587.1" stroke="#000" stroke-width="1.6"/>
<text x="273.7" y="590.4" font-size="9" font-weight="bold" text-anchor="end">2.0</text>
<line x1="291" y1="681.3" x2="291" y2="685.3" stroke="#000" stroke-width="1.6"/>
<line x1="308.7" y1="681.3" x2="308.7" y2="685.3" stroke="#000" stroke-width="1.6"/>
<line x1="326.2" y1="681.3" x2="326.2" y2="685.3" stroke="#000" stroke-width="1.6"/>
<line x1="344" y1="681.3" x2="344" y2="685.3" stroke="#000" stroke-width="1.6"/>
<text x="304.4" y="574" font-size="9.8" font-weight="bold" font-style="italic">Abcg1</text>
<circle cx="287.7" cy="634.2" r="1.9" fill="#000"/>
<circle cx="291" cy="637.6" r="1.9" fill="#000"/>
<circle cx="294.8" cy="636" r="1.9" fill="#000"/>
<line x1="286" y1="635.6" x2="296" y2="635.6" stroke="#000" stroke-width="1.5"/>
<rect x="306.8" y="628.5" width="3.8" height="3.8" fill="#000" stroke="none" stroke-width="1"/>
<rect x="306.8" y="636.6" width="3.8" height="3.8" fill="#000" stroke="none" stroke-width="1"/>
<rect x="310.2" y="633.3" width="3.8" height="3.8" fill="#000" stroke="none" stroke-width="1"/>
<line x1="303" y1="634.4" x2="314.6" y2="634.4" stroke="#000" stroke-width="1.5"/>
<path d="M324.1,602.7 h4.2 l-2.1,3.6 z" stroke="#000" stroke-width="0" fill="#000"/>
<path d="M324.1,614.8 h4.2 l-2.1,3.6 z" stroke="#000" stroke-width="0" fill="#000"/>
<line x1="320.4" y1="610.8" x2="332.3" y2="610.8" stroke="#000" stroke-width="1.5"/>
<path d="M338.8,658.8 l4,4 M342.8,658.8 l-4,4" stroke="#808080" stroke-width="1" fill="none"/>
<path d="M345.3,653.8 l4,4 M349.3,653.8 l-4,4" stroke="#808080" stroke-width="1" fill="none"/>
<line x1="338.3" y1="658.3" x2="350.4" y2="658.3" stroke="#555" stroke-width="1.5"/>
<line x1="389.6" y1="587.7" x2="389.6" y2="683.3" stroke="#000" stroke-width="2"/>
<line x1="388.6" y1="682.3" x2="447.7" y2="682.3" stroke="#000" stroke-width="2"/>
<line x1="386" y1="682.3" x2="389.6" y2="682.3" stroke="#000" stroke-width="1.6"/>
<text x="381.4" y="685.6" font-size="9" font-weight="bold" text-anchor="end">0</text>
<line x1="386" y1="658.8" x2="389.6" y2="658.8" stroke="#000" stroke-width="1.6"/>
<text x="381.4" y="662.1" font-size="9" font-weight="bold" text-anchor="end">2</text>
<line x1="386" y1="635.4" x2="389.6" y2="635.4" stroke="#000" stroke-width="1.6"/>
<text x="381.4" y="638.7" font-size="9" font-weight="bold" text-anchor="end">4</text>
<line x1="386" y1="611.9" x2="389.6" y2="611.9" stroke="#000" stroke-width="1.6"/>
<text x="381.4" y="615.2" font-size="9" font-weight="bold" text-anchor="end">6</text>
<line x1="386" y1="588.5" x2="389.6" y2="588.5" stroke="#000" stroke-width="1.6"/>
<text x="381.4" y="591.8" font-size="9" font-weight="bold" text-anchor="end">8</text>
<line x1="396.9" y1="682.3" x2="396.9" y2="686.3" stroke="#000" stroke-width="1.6"/>
<line x1="411.4" y1="682.3" x2="411.4" y2="686.3" stroke="#000" stroke-width="1.6"/>
<line x1="425.7" y1="682.3" x2="425.7" y2="686.3" stroke="#000" stroke-width="1.6"/>
<line x1="440" y1="682.3" x2="440" y2="686.3" stroke="#000" stroke-width="1.6"/>
<text x="403.8" y="574" font-size="9.8" font-weight="bold" font-style="italic">Bach2</text>
<circle cx="396.9" cy="666.9" r="1.9" fill="#000"/>
<circle cx="394.6" cy="671.7" r="1.9" fill="#000"/>
<circle cx="399.8" cy="670.8" r="1.9" fill="#000"/>
<line x1="392" y1="670.4" x2="401.5" y2="670.4" stroke="#000" stroke-width="1.5"/>
<rect x="409.5" y="663.5" width="3.8" height="3.8" fill="#000" stroke="none" stroke-width="1"/>
<rect x="409.5" y="667.7" width="3.8" height="3.8" fill="#000" stroke="none" stroke-width="1"/>
<rect x="409.5" y="664.6" width="3.8" height="3.8" fill="#000" stroke="none" stroke-width="1"/>
<line x1="407.7" y1="665.2" x2="415.4" y2="665.2" stroke="#000" stroke-width="1.5"/>
<path d="M423.9,661.9 h4.2 l-2.1,3.6 z" stroke="#000" stroke-width="0" fill="#000"/>
<path d="M425.9,661.9 h4.2 l-2.1,3.6 z" stroke="#000" stroke-width="0" fill="#000"/>
<line x1="421.2" y1="664.6" x2="430.8" y2="664.6" stroke="#000" stroke-width="1.5"/>
<path d="M436.5,595.7 l4,4 M440.5,595.7 l-4,4" stroke="#808080" stroke-width="1" fill="none"/>
<path d="M439.5,595.7 l4,4 M443.5,595.7 l-4,4" stroke="#808080" stroke-width="1" fill="none"/>
<line x1="435.6" y1="597.7" x2="444.6" y2="597.7" stroke="#555" stroke-width="1.5"/>
<text x="2.2" y="219.3" font-size="12" font-weight="bold">C</text>
<text x="172.3" y="215" font-size="9.3" font-weight="bold">Gated on CD45+</text>
<line x1="73.8" y1="220.8" x2="349.3" y2="220.8" stroke="#000" stroke-width="2"/>
<text x="101" y="242.9" font-size="13">WT</text>
<text x="192" y="241.3" font-size="13">T-bet</text>
<text x="222" y="231.4" font-size="7.2">tg/wt</text>
<text x="289.6" y="241.3" font-size="13">T-bet</text>
<text x="320.4" y="231.4" font-size="7.2">tg/tg</text>
<text transform="translate(10.2,301.3) rotate(-90)" font-size="7.5" fill="#222">Autofluorescence</text>
<path d="M8.1,311 V329.6 H23" stroke="#000" stroke-width="1.8" fill="none"/>
<path d="M4.3,313.4 L8.1,307.4 L11.9,313.4 L8.1,311.6 Z" stroke="#000" stroke-width="0" fill="#000"/>
<path d="M20.3,325.8 L26.3,329.6 L20.3,333.4 L22.1,329.6 Z" stroke="#000" stroke-width="0" fill="#000"/>
<text x="28.8" y="331.9" font-size="7.6" fill="#222">CD11c</text>
<rect x="72.5" y="246.3" width="76" height="75.2" fill="none" stroke="#888" stroke-width="0.6"/>
<line x1="72.5" y1="246.3" x2="72.5" y2="322" stroke="#000" stroke-width="0.9"/>
<line x1="72" y1="321.5" x2="148.5" y2="321.5" stroke="#000" stroke-width="0.9"/>
<line x1="70.5" y1="253" x2="72.5" y2="253" stroke="#000" stroke-width="0.7"/>
<text x="68.9" y="254.9" font-size="4.9" text-anchor="end" fill="#222">10<tspan dy="-1.8" font-size="3.2">5</tspan></text>
<line x1="70.5" y1="270.7" x2="72.5" y2="270.7" stroke="#000" stroke-width="0.7"/>
<text x="68.9" y="272.6" font-size="4.9" text-anchor="end" fill="#222">10<tspan dy="-1.8" font-size="3.2">4</tspan></text>
<line x1="70.5" y1="288.2" x2="72.5" y2="288.2" stroke="#000" stroke-width="0.7"/>
<text x="68.9" y="290.1" font-size="4.9" text-anchor="end" fill="#222">10<tspan dy="-1.8" font-size="3.2">3</tspan></text>
<line x1="70.5" y1="306" x2="72.5" y2="306" stroke="#000" stroke-width="0.7"/>
<text x="68.9" y="307.9" font-size="4.9" text-anchor="end" fill="#222">10<tspan dy="-1.8" font-size="3.2">2</tspan></text>
<line x1="70.5" y1="314" x2="72.5" y2="314" stroke="#000" stroke-width="0.7"/>
<text x="69.5" y="315.9" font-size="4.9" text-anchor="end" fill="#222">0</text>
<line x1="71.5" y1="256.3" x2="72.5" y2="256.3" stroke="#000" stroke-width="0.5"/>
<line x1="71.5" y1="260.3" x2="72.5" y2="260.3" stroke="#000" stroke-width="0.5"/>
<line x1="71.5" y1="263.3" x2="72.5" y2="263.3" stroke="#000" stroke-width="0.5"/>
<line x1="71.5" y1="265.3" x2="72.5" y2="265.3" stroke="#000" stroke-width="0.5"/>
<line x1="71.5" y1="274.3" x2="72.5" y2="274.3" stroke="#000" stroke-width="0.5"/>
<line x1="71.5" y1="278.3" x2="72.5" y2="278.3" stroke="#000" stroke-width="0.5"/>
<line x1="71.5" y1="281.3" x2="72.5" y2="281.3" stroke="#000" stroke-width="0.5"/>
<line x1="71.5" y1="283.3" x2="72.5" y2="283.3" stroke="#000" stroke-width="0.5"/>
<line x1="71.5" y1="292.3" x2="72.5" y2="292.3" stroke="#000" stroke-width="0.5"/>
<line x1="71.5" y1="296.3" x2="72.5" y2="296.3" stroke="#000" stroke-width="0.5"/>
<line x1="71.5" y1="299.3" x2="72.5" y2="299.3" stroke="#000" stroke-width="0.5"/>
<line x1="71.5" y1="301.3" x2="72.5" y2="301.3" stroke="#000" stroke-width="0.5"/>
<line x1="81.5" y1="321.5" x2="81.5" y2="323.5" stroke="#000" stroke-width="0.7"/>
<text x="81.5" y="329.9" font-size="4.9" text-anchor="middle" fill="#222">0</text>
<line x1="88" y1="321.5" x2="88" y2="323.5" stroke="#000" stroke-width="0.7"/>
<text x="89.4" y="329.9" font-size="4.9" text-anchor="middle" fill="#222">10<tspan dy="-1.8" font-size="3.2">2</tspan></text>
<line x1="107" y1="321.5" x2="107" y2="323.5" stroke="#000" stroke-width="0.7"/>
<text x="108.4" y="329.9" font-size="4.9" text-anchor="middle" fill="#222">10<tspan dy="-1.8" font-size="3.2">3</tspan></text>
<line x1="125" y1="321.5" x2="125" y2="323.5" stroke="#000" stroke-width="0.7"/>
<text x="126.4" y="329.9" font-size="4.9" text-anchor="middle" fill="#222">10<tspan dy="-1.8" font-size="3.2">4</tspan></text>
<line x1="143" y1="321.5" x2="143" y2="323.5" stroke="#000" stroke-width="0.7"/>
<text x="144.4" y="329.9" font-size="4.9" text-anchor="middle" fill="#222">10<tspan dy="-1.8" font-size="3.2">5</tspan></text>
<line x1="93.5" y1="321.5" x2="93.5" y2="322.5" stroke="#000" stroke-width="0.5"/>
<line x1="97.5" y1="321.5" x2="97.5" y2="322.5" stroke="#000" stroke-width="0.5"/>
<line x1="100.5" y1="321.5" x2="100.5" y2="322.5" stroke="#000" stroke-width="0.5"/>
<line x1="102.5" y1="321.5" x2="102.5" y2="322.5" stroke="#000" stroke-width="0.5"/>
<line x1="111.5" y1="321.5" x2="111.5" y2="322.5" stroke="#000" stroke-width="0.5"/>
<line x1="115.5" y1="321.5" x2="115.5" y2="322.5" stroke="#000" stroke-width="0.5"/>
<line x1="118.5" y1="321.5" x2="118.5" y2="322.5" stroke="#000" stroke-width="0.5"/>
<line x1="120.5" y1="321.5" x2="120.5" y2="322.5" stroke="#000" stroke-width="0.5"/>
<line x1="129.5" y1="321.5" x2="129.5" y2="322.5" stroke="#000" stroke-width="0.5"/>
<line x1="133.5" y1="321.5" x2="133.5" y2="322.5" stroke="#000" stroke-width="0.5"/>
<line x1="136.5" y1="321.5" x2="136.5" y2="322.5" stroke="#000" stroke-width="0.5"/>
<line x1="138.5" y1="321.5" x2="138.5" y2="322.5" stroke="#000" stroke-width="0.5"/>
<line x1="75.5" y1="321.5" x2="75.5" y2="322.5" stroke="#000" stroke-width="0.5"/>
<line x1="77.5" y1="321.5" x2="77.5" y2="322.5" stroke="#000" stroke-width="0.5"/>
<line x1="84.5" y1="321.5" x2="84.5" y2="322.5" stroke="#000" stroke-width="0.5"/>
<text x="110.5" y="335.7" font-size="4.7" text-anchor="middle" fill="#222">&lt;APC-A&gt;: CD11c</text>
<text transform="translate(60.2,284.4) rotate(-90)" font-size="4.6" text-anchor="middle" fill="#222">&lt;AmCyan-A&gt;: AF</text>
<g filter="url(#sb)"><g transform="scale(.5)" stroke-linecap="square">
<path d="M279 494h0m-28 1h0m-17 2h0m18 0h0m30 0h0m-4 1h0m-22 1h0m3 0h0m-2 1h0m-26 1h0m33 0h0m31 0h0m-46 1h0m14 0h0m-9 1h0m11 2h0m-8 2h0m25 0h0m1 0h0m-35 1h0m-4 2h0m4 0h0m3 0h0m22 0h0m-54 1h0m31 0h0m28 0h0m3 0h0m8 0h0m-56 2h0m61 0h0m1 0h0m-63 1h0m26 0h0m-29 2h0m5 0h0m9 0h0m6 0h0m40 0h0m-52 1h0m46 0h0m7 0h0m6 0h0m-120 1h0m28 2h0m26 0h0m48 0h0m-92 1h0m43 0h0m51 1h0m-53 1h0m-14 2h0m4 0h0m74 0h0m-74 2h0m12 1h0m65 0h0m-7 1h0m4 0h0m-65 1h0m-12 1h0m-8 2h0m6 0h0m16 0h0m-18 2h0m9 0h0m4 0h0m-20 2h0m93 0h0m-84 2h0m14 0h0m-59 1h0m40 0h0m86 0h0m-96 1h0m16 0h0m6 0h0m3 0h0m64 0h0m-102 1h0m14 0h0m3 0h0m18 1h0m-12 1h0m1 0h0m5 0h0m72 0h0m6 0h0m-88 1h0m18 0h0m72 1h0m2 0h0m-81 1h0m70 1h0m-74 1h0m5 1h0m71 0h0m-109 1h0m28 0h0m91 0h0m-117 2h0m4 1h0m15 0h0m6 0h0m85 0h0m-78 2h0m75 0h0m-94 1h0m4 0h0m-15 1h0m16 0h0m5 0h0m-31 1h0m33 0h0m4 0h0m-13 1h0m1 0h0m93 0h0m-91 1h0m88 0h0m5 1h0m-7 2h0m-114 1h0m116 0h0m-104 1h0m101 0h0m-90 1h0m-25 1h0m22 0h0m101 0h0m-103 2h0m-16 1h0m6 0h0m102 0h0m-126 1h0m26 1h0m10 2h0m95 0h0m5 0h0m-121 1h0m19 0h0m10 0h0m83 0h0m2 0h0m-99 1h0m-18 1h0m7 0h0m107 0h0m4 0h0m-113 2h0m8 1h0m94 0h0m9 0h0m1 0h0m-134 2h0m6 1h0m118 0h0m-114 1h0m2 2h0m-7 1h0m12 0h0m114 1h0m-128 1h0m131 1h0m3 0h0m-136 1h0m126 1h0m-125 2h0m117 1h0m6 0h0m-125 2h0m117 0h0m-114 1h0m136 0h0m-138 1h0m2 0h0m114 0h0m22 0h0m-27 1h0m16 1h0m-128 1h0m95 0h0m-97 1h0m94 2h0m8 0h0m-101 1h0m104 0h0m5 0h0m6 1h0m-14 1h0m-101 1h0m108 0h0m-43 1h0m25 0h0m7 0h0m3 0h0m25 1h0m-45 1h0m19 0h0m-100 1h0m86 0h0m4 0h0m33 0h0m-42 1h0m-80 1h0m92 0h0m2 0h0m-28 1h0m36 0h0m12 0h0m-57 1h0m58 0h0m-31 1h0m22 1h0m-3 1h0m-7 1h0m5 4h0m-5 1h0m19 0h0m-25 4h0m19 2h0m-34 1h0m-20 1h0m6 0h0m15 0h0m-25 1h0m37 0h0m-50 1h0m9 0h0m26 0h0m-52 1h0m1 1h0m7 0h0m33 0h0m-23 1h0m-33 1h0m51 0h0" stroke="#7587c5" stroke-width="1.05" opacity="0.6"/>
<path d="M260 501h0m1 1h0m0 1h0m1 6h0m11 2h0m-9 1h0m2 0h0m1 0h0m4 0h0m2 0h0m-26 1h0m12 0h0m4 0h0m4 0h0m8 0h0m-7 1h0m-22 1h0m25 0h0m-25 1h0m13 0h0m5 0h0m2 0h0m2 0h0m-11 1h0m3 0h0m11 0h0m-7 1h0m1 0h0m-30 1h0m4 0h0m12 0h0m7 0h0m2 0h0m9 0h0m-21 1h0m4 0h0m7 0h0m4 0h0m-27 1h0m3 0h0m36 0h0m-38 1h0m3 0h0m24 0h0m3 0h0m8 0h0m-38 1h0m2 0h0m16 0h0m7 0h0m8 0h0m2 0h0m5 0h0m-44 1h0m37 0h0m-20 1h0m2 0h0m14 0h0m16 0h0m1 0h0m-47 1h0m17 0h0m14 0h0m11 1h0m5 0h0m-50 1h0m19 0h0m25 0h0m1 0h0m-28 1h0m12 0h0m19 0h0m1 0h0m-53 1h0m1 0h0m15 0h0m36 0h0m-48 1h0m51 0h0m-48 1h0m2 0h0m8 0h0m7 0h0m-22 1h0m2 0h0m4 0h0m1 0h0m-2 1h0m13 0h0m29 0h0m1 1h0m1 0h0m-48 1h0m51 0h0m-51 1h0m1 0h0m3 0h0m3 0h0m40 0h0m4 0h0m-5 1h0m-44 1h0m0 1h0m40 0h0m1 0h0m5 0h0m-50 1h0m43 0h0m8 0h0m-73 1h0m22 0h0m51 0h0m3 0h0m-60 1h0m55 0h0m-4 3h0m7 0h0m-7 1h0m7 0h0m-58 1h0m54 1h0m-59 1h0m4 0h0m57 0h0m-2 1h0m-60 1h0m3 0h0m-3 1h0m2 0h0m0 1h0m59 0h0m2 0h0m-67 1h0m3 0h0m-4 1h0m65 0h0m-63 1h0m3 0h0m61 0h0m-65 1h0m57 0h0m2 0h0m8 0h0m-60 1h0m58 0h0m-64 1h0m2 0h0m6 0h0m50 0h0m3 0h0m3 0h0m-61 2h0m-13 1h0m4 0h0m68 0h0m0 1h0m-75 1h0m1 0h0m8 0h0m3 0h0m1 0h0m1 0h0m56 0h0m1 0h0m-70 1h0m10 0h0m3 0h0m3 0h0m53 0h0m-55 1h0m59 0h0m1 0h0m-80 1h0m5 0h0m2 0h0m6 0h0m8 0h0m-17 1h0m76 0h0m-61 1h0m-20 1h0m5 0h0m4 0h0m5 0h0m1 0h0m64 0h0m3 0h0m-5 1h0m-61 1h0m-13 1h0m1 0h0m65 0h0m-61 1h0m2 0h0m4 0h0m56 0h0m2 0h0m2 0h0m-79 1h0m76 0h0m5 0h0m4 0h0m1 0h0m-85 2h0m10 0h0m6 0h0m54 0h0m3 0h0m4 0h0m-79 1h0m12 0h0m6 0h0m57 0h0m8 0h0m-69 1h0m2 0h0m64 0h0m-84 1h0m17 0h0m1 0h0m65 0h0m2 0h0m-88 1h0m5 0h0m35 0h0m38 0h0m-83 1h0m6 0h0m13 0h0m1 0h0m2 0h0m22 0h0m4 0h0m39 0h0m4 0h0m1 0h0m-98 1h0m2 0h0m8 0h0m13 0h0m64 0h0m-83 1h0m3 0h0m2 0h0m8 0h0m40 0h0m-53 1h0m9 0h0m3 0h0m7 0h0m4 0h0m60 0h0m7 0h0m-94 1h0m2 0h0m7 0h0m1 0h0m2 0h0m11 0h0m3 0h0m65 0h0m5 0h0m-98 1h0m2 0h0m18 0h0m6 0h0m-26 1h0m19 0h0m1 0h0m2 0h0m11 0h0m-41 1h0m10 0h0m86 0h0m2 0h0m-98 1h0m15 0h0m14 0h0m5 0h0m6 0h0m4 0h0m58 0h0m-99 1h0m20 0h0m6 0h0m1 0h0m2 0h0m1 0h0m5 0h0m3 0h0m-43 1h0m19 0h0m54 0h0m1 0h0m30 0h0m-92 1h0m16 0h0m10 0h0m6 0h0m1 0h0m30 0h0m20 0h0m4 0h0m3 0h0m-67 1h0m3 0h0m33 0h0m17 0h0m2 0h0m6 0h0m5 0h0m-103 1h0m15 0h0m25 0h0m7 0h0m5 0h0m28 0h0m26 0h0m-31 1h0m13 0h0m10 0h0m4 0h0m-103 1h0m3 0h0m6 0h0m2 0h0m36 0h0m10 0h0m25 0h0m2 0h0m-78 1h0m54 0h0m9 0h0m9 0h0m1 0h0m7 0h0m6 0h0m8 0h0m1 0h0m-95 1h0m5 0h0m3 0h0m34 0h0m4 0h0m4 0h0m6 0h0m19 0h0m4 0h0m2 0h0m5 0h0m-37 1h0m10 0h0m6 0h0m7 0h0m1 0h0m1 0h0m16 0h0m5 0h0m1 0h0m-100 1h0m46 0h0m17 0h0m10 0h0m20 0h0m5 0h0m-101 1h0m8 0h0m5 0h0m1 0h0m33 0h0m1 0h0m24 0h0m4 0h0m-66 1h0m41 0h0m8 0h0m7 0h0m2 0h0m10 0h0m1 0h0m4 0h0m15 0h0m2 0h0m-101 1h0m15 0h0m29 0h0m1 0h0m10 0h0m16 0h0m11 0h0m2 0h0m-74 1h0m41 0h0m2 0h0m6 0h0m3 0h0m3 0h0m3 0h0m-60 1h0m40 0h0m22 0h0m1 0h0m-69 1h0m57 0h0m1 0h0m11 0h0m3 0h0m1 0h0m-33 1h0m4 0h0m30 0h0m-77 1h0m53 0h0m1 0h0m19 0h0m-68 1h0m61 0h0m-65 1h0m4 0h0m2 0h0m38 0h0m1 0h0m9 0h0m1 0h0m7 0h0m5 0h0m1 0h0m-25 1h0m1 0h0m3 0h0m2 0h0m3 0h0m14 0h0m-66 1h0m45 0h0m2 0h0m20 0h0m2 0h0m-69 1h0m-2 1h0m5 0h0m66 0h0m-73 1h0m5 0h0m62 0h0m2 0h0m-16 1h0m17 0h0m-73 1h0m79 0h0m2 0h0m-81 1h0m1 1h0m66 0h0m-4 1h0m1 0h0m21 0h0m1 1h0m5 0h0m0 1h0m2 1h0m-4 2h0m-90 1h0m2 0h0m88 0h0m1 0h0m-2 2h0m-20 1h0m4 0h0m8 0h0m4 0h0m2 0h0m-19 1h0m12 0h0m2 0h0m-23 1h0m9 0h0m16 0h0m-15 1h0m-9 1h0m-18 1h0m6 0h0" stroke="#6579bf" stroke-width="1.05" opacity="0.6"/>
<path d="M258 521h0m-15 1h0m2 0h0m1 0h0m1 0h0m-4 1h0m6 0h0m9 0h0m1 0h0m-14 1h0m2 0h0m1 0h0m13 0h0m-5 1h0m1 0h0m2 0h0m9 0h0m-25 1h0m16 0h0m1 0h0m12 0h0m1 0h0m-27 1h0m11 1h0m1 0h0m11 0h0m-27 1h0m14 0h0m1 0h0m1 0h0m7 0h0m3 0h0m-28 1h0m1 0h0m1 0h0m27 0h0m4 0h0m1 0h0m1 0h0m-31 1h0m12 0h0m15 0h0m-30 1h0m2 0h0m28 0h0m4 0h0m1 0h0m-22 1h0m11 0h0m1 0h0m1 0h0m4 0h0m-1 1h0m-28 1h0m5 0h0m2 0h0m19 0h0m6 0h0m2 0h0m-30 1h0m6 0h0m18 0h0m-29 1h0m2 0h0m4 0h0m23 0h0m-30 2h0m2 0h0m2 0h0m27 0h0m3 0h0m-36 1h0m4 0h0m26 0h0m-37 1h0m5 0h0m4 0h0m2 0h0m29 0h0m-42 2h0m5 0h0m36 0h0m-40 2h0m42 0h0m-43 1h0m41 0h0m-43 1h0m-1 1h0m46 0h0m2 0h0m1 0h0m-50 3h0m46 0h0m2 0h0m2 0h0m-3 1h0m-49 1h0m2 0h0m2 1h0m2 0h0m43 0h0m-51 1h0m6 0h0m46 0h0m-53 1h0m3 0h0m2 0h0m1 1h0m1 0h0m43 0h0m-48 1h0m6 2h0m-3 1h0m48 0h0m-48 1h0m1 0h0m42 0h0m1 0h0m-45 1h0m45 0h0m1 0h0m2 0h0m-49 1h0m47 0h0m-44 1h0m-3 1h0m3 0h0m40 1h0m-43 1h0m42 0h0m2 0h0m-47 1h0m5 0h0m-3 1h0m43 0h0m-47 1h0m-1 1h0m2 0h0m45 0h0m-48 1h0m1 0h0m3 0h0m-3 1h0m7 0h0m1 0h0m-8 1h0m1 0h0m15 0h0m3 0h0m-21 1h0m2 0h0m1 0h0m1 0h0m3 0h0m5 0h0m-10 1h0m8 0h0m-10 1h0m10 0h0m1 0h0m1 0h0m1 0h0m-19 1h0m7 0h0m2 0h0m-8 1h0m2 0h0m1 0h0m1 0h0m3 0h0m3 0h0m3 0h0m2 0h0m2 0h0m5 0h0m1 0h0m3 0h0m22 0h0m-40 1h0m16 0h0m2 0h0m-24 1h0m20 0h0m2 0h0m1 0h0m1 0h0m-29 1h0m4 0h0m7 0h0m14 0h0m-29 2h0m3 0h0m1 0h0m7 0h0m2 0h0m33 0h0m10 0h0m-56 1h0m3 0h0m4 0h0m7 0h0m2 0h0m12 0h0m2 0h0m18 0h0m5 0h0m-50 1h0m10 0h0m2 0h0m1 0h0m6 0h0m1 0h0m8 0h0m20 0h0m-49 1h0m2 0h0m4 0h0m2 0h0m8 0h0m1 0h0m3 0h0m9 0h0m1 0h0m-27 1h0m11 0h0m2 0h0m7 0h0m5 0h0m1 0h0m13 0h0m5 0h0m1 0h0m1 0h0m-41 1h0m1 0h0m13 0h0m2 0h0m1 0h0m18 0h0m4 0h0m-83 1h0m15 0h0m1 0h0m28 0h0m4 0h0m8 0h0m1 0h0m22 0h0m2 0h0m3 0h0m-87 1h0m49 0h0m4 0h0m8 0h0m3 0h0m8 0h0m17 0h0m-94 1h0m5 0h0m5 0h0m6 0h0m3 0h0m1 0h0m2 0h0m1 0h0m26 0h0m2 0h0m2 0h0m3 0h0m3 0h0m33 0h0m-90 1h0m4 0h0m2 0h0m1 0h0m11 0h0m29 0h0m1 0h0m1 0h0m1 0h0m1 0h0m12 0h0m23 0h0m1 0h0m-86 1h0m4 0h0m14 0h0m33 0h0m3 0h0m24 0h0m-78 1h0m2 0h0m4 0h0m14 0h0m3 0h0m16 0h0m12 0h0m4 0h0m8 0h0m-63 1h0m12 0h0m3 0h0m10 0h0m5 0h0m8 0h0m15 0h0m2 0h0m4 0h0m1 0h0m-49 1h0m2 0h0m11 0h0m3 0h0m9 0h0m17 0h0m10 0h0m-51 1h0m22 0h0m5 0h0m-28 1h0m21 0h0m1 0h0m24 0h0m-60 1h0m15 0h0m27 0h0m-43 1h0m15 0h0m25 0h0m-42 1h0m3 0h0m2 0h0m11 0h0m23 0h0m2 0h0m-24 2h0m20 0h0m-38 1h0m3 0h0m1 0h0m13 0h0m2 0h0m1 0h0m17 0h0m-36 1h0m13 0h0m1 0h0m-14 1h0m2 0h0m12 0h0m-12 1h0m3 0h0m4 0h0m2 0h0m-3 1h0m5 0h0m2 0h0m1 0h0m18 0h0m2 0h0m1 0h0m-27 1h0m24 0h0m1 0h0m-29 1h0m3 0h0m6 0h0m1 0h0m9 0h0m-17 1h0m4 0h0m3 0h0m3 0h0m4 0h0m2 0h0m1 0h0m4 0h0m2 0h0m5 0h0m-27 1h0m10 0h0m6 0h0m11 0h0m1 0h0m-31 1h0m6 0h0m2 0h0m4 0h0m7 0h0m5 0h0m1 0h0m2 0h0m-24 1h0m9 0h0m5 0h0m10 0h0m-9 1h0m12 0h0m1 0h0m-36 1h0m23 0h0m6 0h0m2 0h0m2 0h0m3 0h0m-1 1h0m28 0h0m-26 1h0m-46 1h0m65 0h0m8 0h0m3 0h0m-27 1h0m2 0h0m12 0h0m2 0h0m3 0h0m4 0h0m-13 1h0m3 0h0m13 0h0m-78 1h0m61 0h0m3 0h0m-62 1h0m64 0h0m-65 1h0m67 0h0m12 0h0m2 0h0m3 0h0m-19 1h0m2 0h0m2 0h0m9 0h0m1 0h0m1 0h0m2 0h0m4 0h0m-85 1h0m63 0h0m3 0h0m15 0h0m4 0h0m-19 1h0m1 0h0m14 0h0m4 0h0m-17 1h0m5 0h0m8 0h0m-75 1h0m50 1h0m1 0h0m-47 1h0m3 0h0m22 0h0m8 1h0m2 0h0" stroke="#556cb9" stroke-width="1.05" opacity="0.7"/>
<path d="M270 529h0m-1 1h0m1 0h0m1 0h0m-14 3h0m1 0h0m3 0h0m1 0h0m-2 1h0m2 0h0m1 0h0m-9 2h0m10 1h0m1 0h0m1 1h0m-21 1h0m5 0h0m1 0h0m-5 1h0m-2 1h0m3 0h0m-7 2h0m28 0h0m-33 1h0m3 0h0m28 0h0m-35 1h0m3 0h0m1 0h0m1 0h0m8 0h0m25 0h0m-34 1h0m6 0h0m2 0h0m1 0h0m22 0h0m2 1h0m1 0h0m-40 1h0m-1 1h0m1 0h0m2 0h0m1 0h0m-4 1h0m2 0h0m2 0h0m-1 1h0m40 1h0m-1 1h0m-3 2h0m1 0h0m-35 1h0m2 0h0m-6 1h0m1 0h0m2 0h0m3 0h0m1 0h0m2 0h0m31 0h0m-40 1h0m3 0h0m1 0h0m4 0h0m31 0h0m-30 1h0m28 0h0m-37 1h0m1 0h0m36 0h0m-34 1h0m1 0h0m34 0h0m-34 1h0m1 0h0m2 0h0m1 0h0m29 0h0m-36 1h0m-1 1h0m1 0h0m1 0h0m34 1h0m-37 1h0m-1 1h0m6 0h0m-1 1h0m1 0h0m-8 1h0m1 0h0m1 0h0m1 0h0m2 0h0m34 0h0m-35 1h0m2 0h0m33 0h0m-37 1h0m4 0h0m-4 1h0m5 0h0m2 0h0m27 0h0m-36 1h0m2 0h0m1 0h0m9 0h0m1 0h0m1 0h0m21 0h0m-31 1h0m3 0h0m2 0h0m8 0h0m18 0h0m-33 1h0m1 0h0m33 0h0m-23 1h0m1 0h0m2 0h0m-2 1h0m6 0h0m-6 1h0m1 1h0m4 0h0m-3 1h0m4 0h0m-7 1h0m6 0h0m-5 1h0m4 0h0m1 0h0m4 0h0m7 0h0m-6 1h0m6 0h0m1 0h0m-15 1h0m1 0h0m6 0h0m1 0h0m2 0h0m3 0h0m3 0h0m-22 1h0m2 0h0m1 0h0m2 0h0m6 0h0m9 0h0m-19 1h0m2 0h0m5 0h0m1 0h0m2 0h0m6 0h0m-13 1h0m-3 1h0m5 1h0m3 0h0m-4 1h0m4 0h0m1 0h0m-22 1h0m17 0h0m0 1h0m3 0h0m1 0h0m-23 1h0m3 0h0m20 0h0m-22 1h0m19 0h0m1 0h0m-18 1h0m1 0h0m-4 1h0m3 0h0m-47 1h0m2 0h0m3 0h0m-4 1h0m1 0h0m4 0h0m2 0h0m-3 1h0m5 0h0m3 0h0m1 0h0m3 0h0m-15 1h0m2 0h0m2 0h0m3 0h0m1 0h0m3 0h0m4 0h0m-15 1h0m12 0h0m-12 1h0m1 0h0m1 0h0m6 0h0m5 0h0m1 0h0m1 0h0m-10 1h0m5 0h0m4 0h0m2 0h0m-13 1h0m2 0h0m3 0h0m7 0h0m-10 1h0m5 0h0m2 0h0m-13 1h0m3 0h0m4 0h0m3 0h0m-9 1h0m1 0h0m5 0h0m1 0h0m2 0h0m1 0h0m-12 1h0m5 0h0m1 0h0m2 0h0m-10 1h0m15 0h0m-14 1h0m2 0h0m1 0h0m3 0h0m3 0h0m2 0h0m1 0h0m3 0h0m-3 1h0m-9 1h0m10 0h0m-12 4h0m2 1h0m1 0h0m-17 1h0m-9 1h0m30 0h0m-29 1h0m31 0h0m3 1h0m2 0h0m1 0h0m3 0h0m-8 1h0m-37 1h0m1 0h0m52 0h0m22 0h0m-20 1h0m1 0h0m15 0h0m1 0h0m1 0h0m-73 1h0m60 0h0m8 0h0m2 0h0m2 0h0m-72 1h0m59 0h0m10 0h0m1 0h0m3 0h0m2 0h0m1 0h0m-17 1h0m9 0h0m3 0h0m1 0h0m2 0h0m1 0h0m-17 1h0m16 0h0m-17 1h0m-56 1h0m1 0h0m3 1h0m36 0h0m8 0h0m2 0h0m2 0h0m-17 1h0m4 0h0m7 0h0m-31 1h0m4 0h0m2 0h0m-1 1h0" stroke="#4f70b7" stroke-width="1.24" opacity="0.7"/>
<path d="M255 535h0m2 0h0m2 0h0m3 0h0m-6 1h0m4 0h0m-7 1h0m8 0h0m-7 1h0m-2 1h0m10 0h0m2 0h0m-2 1h0m-14 2h0m2 0h0m14 0h0m1 0h0m-20 1h0m1 0h0m4 0h0m14 0h0m-27 2h0m9 0h0m19 1h0m-29 1h0m-2 1h0m5 0h0m28 0h0m-34 1h0m8 0h0m25 0h0m1 0h0m2 0h0m-2 1h0m-33 1h0m2 0h0m30 0h0m1 0h0m1 0h0m-33 1h0m33 0h0m-33 1h0m2 0h0m28 0h0m0 1h0m2 0h0m-29 1h0m29 0h0m-29 1h0m3 0h0m25 0h0m-3 2h0m1 1h0m1 1h0m-29 3h0m-3 1h0m4 0h0m1 0h0m-5 1h0m1 0h0m0 1h0m1 0h0m29 0h0m1 0h0m-29 1h0m1 1h0m-3 1h0m28 0h0m-28 1h0m1 0h0m1 0h0m2 0h0m1 0h0m22 0h0m-26 1h0m2 0h0m1 0h0m1 0h0m0 1h0m1 0h0m2 0h0m19 1h0m-18 1h0m0 1h0m2 0h0m1 0h0m12 1h0m-13 2h0m11 1h0m-9 1h0m2 1h0m5 0h0m-2 1h0m-11 5h0m2 0h0m-1 1h0m-1 1h0m0 1h0m-76 27h0m1 0h0m0 1h0m8 0h0m1 0h0m-2 1h0m-15 1h0m27 1h0m2 0h0m-34 1h0m1 0h0m1 0h0m31 0h0m5 1h0m1 0h0m1 0h0m2 0h0m4 0h0m3 0h0m1 0h0m-50 1h0m37 0h0m3 0h0m2 0h0m3 0h0m2 0h0m3 0h0m-50 1h0m47 0h0m5 0h0m-53 1h0m53 1h0m-53 1h0m54 0h0m1 0h0m-54 1h0m36 0h0m1 0h0m9 0h0m1 0h0m1 0h0m2 0h0m1 0h0m1 0h0m-52 1h0m1 0h0m44 0h0m1 0h0m4 0h0m2 0h0m-47 1h0m26 0h0m5 0h0m2 0h0m3 1h0" stroke="#4a74b6" stroke-width="1.24" opacity="0.7"/>
<path d="M259 537h0m2 0h0m-5 1h0m1 0h0m3 0h0m-5 1h0m0 1h0m7 1h0m0 1h0m-14 1h0m3 0h0m-3 1h0m15 0h0m-15 1h0m14 1h0m-25 1h0m2 0h0m6 0h0m1 0h0m18 0h0m-27 1h0m1 0h0m9 0h0m17 0h0m-28 1h0m3 0h0m4 0h0m21 0h0m-27 1h0m3 0h0m2 0h0m2 0h0m1 0h0m1 0h0m-7 1h0m3 0h0m22 0h0m-26 1h0m2 0h0m1 0h0m2 0h0m1 0h0m-6 1h0m3 0h0m1 0h0m2 0h0m-4 1h0m1 0h0m1 0h0m2 0h0m3 1h0m-3 1h0m1 1h0m1 0h0m-3 1h0m2 0h0m1 0h0m-4 1h0m1 0h0m-1 1h0m1 0h0m-4 1h0m1 1h0m2 0h0m1 0h0m-4 1h0m22 0h0m1 0h0m-23 1h0m22 0h0m-23 1h0m23 0h0m-21 1h0m1 0h0m0 1h0m1 0h0m19 0h0m-23 1h0m-1 1h0m7 0h0m0 1h0m15 0h0m1 0h0m-19 1h0m5 0h0m1 0h0m10 0h0m1 0h0m-1 1h0m-12 1h0m2 0h0m10 0h0m2 0h0m-14 1h0m13 0h0m-9 1h0m-1 1h0m8 1h0m1 0h0m-9 1h0m1 0h0m6 0h0m-5 1h0m2 0h0m-2 1h0m2 0h0m1 0h0m-93 40h0m25 3h0m3 2h0m2 0h0m2 0h0m5 0h0m1 0h0m4 0h0m1 0h0m-16 1h0m1 0h0m1 0h0m1 0h0m3 0h0m2 0h0m1 0h0m3 0h0m1 0h0m4 0h0m1 0h0m-16 1h0m5 0h0m6 0h0m4 0h0m-51 1h0m2 0h0m36 0h0m1 0h0m1 0h0m1 0h0m2 0h0m1 0h0m2 0h0m2 0h0m3 0h0m-47 1h0m29 0h0m6 0h0m4 0h0m-3 1h0m1 0h0m1 0h0m1 0h0m-35 1h0m22 0h0m-24 1h0m4 0h0m17 0h0m0 1h0" stroke="#4c7fae" stroke-width="1.24" opacity="1.0"/>
<path d="M257 539h0m2 1h0m-5 1h0m3 0h0m3 0h0m1 0h0m-8 1h0m1 0h0m2 0h0m1 0h0m1 0h0m2 1h0m-11 1h0m1 0h0m3 0h0m-3 1h0m0 1h0m0 1h0m12 0h0m-14 1h0m13 0h0m1 0h0m-14 1h0m14 0h0m-13 1h0m2 0h0m12 0h0m-16 1h0m3 0h0m1 0h0m-4 1h0m14 0h0m-16 1h0m3 0h0m1 0h0m-2 1h0m2 1h0m-1 2h0m14 0h0m0 1h0m-16 1h0m16 0h0m1 0h0m0 1h0m-19 1h0m0 1h0m-1 1h0m2 0h0m-3 1h0m1 0h0m-1 1h0m-1 1h0m1 0h0m1 0h0m1 1h0m1 0h0m14 0h0m1 0h0m-15 2h0m13 0h0m-11 1h0m10 1h0m-1 1h0m-6 3h0m5 0h0m1 0h0m1 0h0m-8 1h0m2 0h0m4 0h0m-3 1h0m1 0h0m-3 1h0m5 0h0m-83 41h0m2 1h0m2 0h0m-20 1h0m7 0h0m-7 1h0m-2 3h0m1 1h0m31 0h0m1 1h0m-2 2h0m-2 1h0m1 0h0m1 0h0m-18 1h0m2 0h0m2 0h0m2 0h0m4 0h0m-1 1h0m1 0h0m2 0h0" stroke="#54949e" stroke-width="1.24" opacity="1.0"/>
<path d="M254 543h0m4 0h0m-4 1h0m1 0h0m1 0h0m1 0h0m2 0h0m-8 1h0m1 0h0m1 0h0m6 0h0m-7 1h0m1 0h0m7 0h0m-9 1h0m1 0h0m1 0h0m-2 1h0m1 1h0m9 0h0m-10 2h0m0 1h0m10 1h0m2 0h0m-12 1h0m11 0h0m-12 1h0m12 0h0m-12 1h0m-3 3h0m2 0h0m-1 1h0m-2 1h0m1 1h0m-4 1h0m1 0h0m1 0h0m15 0h0m-15 1h0m16 0h0m-18 1h0m1 0h0m2 0h0m15 0h0m-16 1h0m15 0h0m-3 1h0m1 0h0m-1 1h0m1 0h0m-13 1h0m3 0h0m1 0h0m6 0h0m2 0h0m-3 1h0m2 0h0m-9 1h0m1 0h0m6 1h0m1 0h0m-5 1h0m3 0h0m2 0h0m-6 1h0m1 0h0m4 0h0m-1 1h0m1 0h0m-1 1h0m2 0h0m-87 43h0m2 0h0m-2 1h0m1 0h0m15 3h0m0 1h0m-1 1h0m-27 3h0m1 0h0" stroke="#5fa288" stroke-width="1.24" opacity="1.0"/>
<path d="M253 545h0m4 0h0m1 0h0m1 0h0m-3 1h0m1 0h0m2 0h0m-6 1h0m2 0h0m4 3h0m0 2h0m2 0h0m-9 1h0m8 0h0m-9 2h0m1 0h0m1 0h0m-2 1h0m1 0h0m-2 1h0m0 1h0m10 2h0m1 0h0m-12 1h0m11 0h0m-12 1h0m1 0h0m11 0h0m-3 3h0m1 0h0m1 0h0m-2 1h0m-9 1h0m1 0h0m5 0h0m2 0h0m-7 1h0m1 1h0m1 0h0m1 0h0m1 0h0m-4 1h0m1 0h0m2 0h0m-1 1h0m1 0h0m-3 1h0m1 1h0m2 0h0m1 0h0m-96 48h0m24 0h0m-22 1h0m20 1h0m-24 1h0m1 0h0m1 0h0m-2 1h0m2 0h0m28 0h0m-30 1h0m28 0h0m0 1h0m1 0h0m0 1h0m1 0h0m-26 1h0m22 0h0m1 0h0m2 0h0m-23 1h0m20 0h0m2 0h0" stroke="#6eab6c" stroke-width="1.24" opacity="1.0"/>
<path d="M255 547h0m2 0h0m2 0h0m-4 1h0m2 0h0m1 0h0m-5 1h0m2 0h0m1 0h0m1 0h0m1 0h0m1 0h0m-6 1h0m1 0h0m3 0h0m-3 1h0m1 0h0m2 0h0m-3 1h0m-1 1h0m1 0h0m6 0h0m-7 1h0m7 0h0m-1 1h0m1 0h0m0 1h0m-8 1h0m7 0h0m1 0h0m-1 1h0m-9 1h0m-1 1h0m1 0h0m-1 3h0m9 0h0m0 1h0m-3 1h0m-7 1h0m8 0h0m1 0h0m-7 1h0m1 0h0m1 0h0m1 0h0m-4 1h0m1 0h0m1 0h0m-92 53h0m1 0h0m-1 1h0m18 0h0m2 0h0m-19 1h0m21 0h0m2 0h0m-2 1h0m1 0h0m-1 1h0m-1 4h0m1 1h0" stroke="#7bb257" stroke-width="1.24" opacity="1.0"/>
<path d="M257 551h0m1 0h0m-2 1h0m2 0h0m-1 1h0m2 0h0m-2 1h0m1 0h0m-4 1h0m1 0h0m2 0h0m-6 5h0m1 0h0m1 0h0m-3 1h0m8 0h0m1 0h0m-9 1h0m1 0h0m-2 1h0m2 0h0m5 0h0m1 0h0m-8 1h0m6 0h0m1 0h0m-7 1h0m3 0h0m-2 1h0m1 0h0m1 0h0m1 0h0m1 0h0m-93 55h0m1 0h0m14 0h0m1 0h0m-15 1h0m1 0h0m12 0h0m1 0h0m1 0h0m-19 1h0m1 0h0m-1 1h0m1 0h0m22 1h0m2 0h0m-2 1h0m1 0h0m-24 1h0m23 0h0m1 0h0m-25 1h0m1 0h0m24 0h0m-23 1h0m4 0h0m1 0h0m1 0h0m13 0h0m-15 1h0m1 0h0m13 0h0m1 0h0" stroke="#7fb455" stroke-width="1.24" opacity="1.0"/>
<path d="M256 553h0m0 1h0m-1 1h0m2 0h0m-1 1h0m1 0h0m1 0h0m1 0h0m-5 1h0m3 0h0m1 0h0m-3 1h0m2 0h0m1 0h0m0 1h0m1 0h0m-2 1h0m1 0h0m-5 1h0m2 0h0m-4 1h0m1 0h0m3 0h0m1 0h0m-5 1h0m1 0h0m1 0h0m1 0h0m-3 1h0m1 0h0m1 0h0m1 0h0m1 0h0m-3 1h0m-89 56h0m1 0h0m2 0h0m1 0h0m1 0h0m1 0h0m1 0h0m1 0h0m-8 1h0m1 0h0m2 0h0m1 0h0m1 0h0m3 0h0m1 0h0m3 0h0m-7 1h0m1 0h0m10 0h0m1 0h0m0 1h0m-23 1h0m1 0h0m0 1h0m1 0h0m8 3h0m1 0h0m1 0h0m7 0h0m1 0h0m-12 1h0m2 0h0m1 0h0m7 0h0m1 0h0m-9 1h0" stroke="#84b653" stroke-width="1.24" opacity="1.0"/>
<path d="M255 557h0m1 0h0m1 0h0m-2 1h0m1 0h0m1 0h0m-4 1h0m1 0h0m1 0h0m1 0h0m-1 1h0m1 0h0m-1 1h0m1 0h0m-2 1h0m0 1h0m-74 63h0m-21 1h0m1 0h0m19 0h0m1 0h0m-21 1h0m1 0h0m1 0h0m8 1h0m1 0h0m1 0h0m1 0h0m1 0h0m1 0h0m-2 1h0m2 0h0" stroke="#89b851" stroke-width="1.24" opacity="1.0"/>
<path d="M160 623h0m17 0h0m1 0h0m1 0h0m-20 1h0m1 0h0m1 0h0m16 0h0m1 0h0" stroke="#95ba4d" stroke-width="1.24" opacity="1.0"/>
<path d="M162 623h0m-1 1h0m1 0h0m-3 1h0m0 1h0m1 0h0m1 0h0m0 1h0m1 0h0m16 0h0m1 0h0m-17 1h0m1 0h0m15 0h0m-16 1h0m15 0h0" stroke="#a7bd48" stroke-width="1.24" opacity="1.0"/>
<path d="M176 623h0m-13 1h0m1 0h0m1 0h0m1 0h0m1 0h0m9 0h0m-15 1h0m1 0h0m1 0h0m4 0h0m9 0h0m2 0h0m1 0h0m-18 1h0m1 0h0m15 0h0m1 0h0m-15 1h0m1 0h0m1 0h0m1 0h0m1 0h0m12 0h0m-14 1h0m1 0h0m1 0h0" stroke="#bac043" stroke-width="1.24" opacity="1.0"/>
<path d="M167 623h0m3 0h0m1 0h0m1 0h0m2 0h0m1 0h0m-8 1h0m1 0h0m1 0h0m1 0h0m1 0h0m1 0h0m1 0h0m1 0h0m1 0h0m-12 1h0m1 0h0m-1 1h0m1 0h0m3 1h0m6 0h0m3 0h0m1 0h0m-10 1h0m1 0h0m1 0h0m5 0h0m1 0h0m1 0h0m1 0h0m-1 1h0" stroke="#cdc33e" stroke-width="1.24" opacity="1.0"/>
<path d="M166 625h0m9 0h0m1 0h0m-10 1h0m1 0h0m8 0h0m1 0h0m-9 1h0m2 0h0m2 0h0m1 0h0m4 0h0m-7 1h0m1 0h0m1 0h0m1 0h0m1 0h0" stroke="#d2ba3a" stroke-width="1.24" opacity="1.0"/>
<path d="M167 625h0m1 0h0m1 0h0m2 0h0m1 0h0m1 0h0m1 0h0m1 0h0m-8 1h0m1 0h0m1 0h0m1 0h0m1 0h0m1 0h0m1 0h0m1 0h0m1 0h0m-6 1h0m4 0h0m1 0h0" stroke="#d7b136" stroke-width="1.24" opacity="1.0"/>
</g></g>
<rect x="72.5" y="246.3" width="75.9" height="61.6" fill="none" stroke="#a3203a" stroke-width="1.9"/>
<text x="77" y="255.6" font-size="4.8" fill="#9466a6">64.7</text>
<line x1="132.8" y1="308" x2="132.8" y2="362.5" stroke="#a3203a" stroke-width="1.4"/>
<path d="M130.6,361.6 L132.8,366.6 L135,361.6 Z" stroke="#000" stroke-width="0" fill="#a3203a"/>
<rect x="171.2" y="246.8" width="76" height="75.2" fill="none" stroke="#888" stroke-width="0.6"/>
<line x1="171.2" y1="246.8" x2="171.2" y2="322.5" stroke="#000" stroke-width="0.9"/>
<line x1="170.7" y1="322" x2="247.2" y2="322" stroke="#000" stroke-width="0.9"/>
<line x1="169.2" y1="253.5" x2="171.2" y2="253.5" stroke="#000" stroke-width="0.7"/>
<text x="167.6" y="255.4" font-size="4.9" text-anchor="end" fill="#222">10<tspan dy="-1.8" font-size="3.2">5</tspan></text>
<line x1="169.2" y1="271.2" x2="171.2" y2="271.2" stroke="#000" stroke-width="0.7"/>
<text x="167.6" y="273.1" font-size="4.9" text-anchor="end" fill="#222">10<tspan dy="-1.8" font-size="3.2">4</tspan></text>
<line x1="169.2" y1="288.7" x2="171.2" y2="288.7" stroke="#000" stroke-width="0.7"/>
<text x="167.6" y="290.6" font-size="4.9" text-anchor="end" fill="#222">10<tspan dy="-1.8" font-size="3.2">3</tspan></text>
<line x1="169.2" y1="306.5" x2="171.2" y2="306.5" stroke="#000" stroke-width="0.7"/>
<text x="167.6" y="308.4" font-size="4.9" text-anchor="end" fill="#222">10<tspan dy="-1.8" font-size="3.2">2</tspan></text>
<line x1="169.2" y1="314.5" x2="171.2" y2="314.5" stroke="#000" stroke-width="0.7"/>
<text x="168.2" y="316.4" font-size="4.9" text-anchor="end" fill="#222">0</text>
<line x1="170.2" y1="256.8" x2="171.2" y2="256.8" stroke="#000" stroke-width="0.5"/>
<line x1="170.2" y1="260.8" x2="171.2" y2="260.8" stroke="#000" stroke-width="0.5"/>
<line x1="170.2" y1="263.8" x2="171.2" y2="263.8" stroke="#000" stroke-width="0.5"/>
<line x1="170.2" y1="265.8" x2="171.2" y2="265.8" stroke="#000" stroke-width="0.5"/>
<line x1="170.2" y1="274.8" x2="171.2" y2="274.8" stroke="#000" stroke-width="0.5"/>
<line x1="170.2" y1="278.8" x2="171.2" y2="278.8" stroke="#000" stroke-width="0.5"/>
<line x1="170.2" y1="281.8" x2="171.2" y2="281.8" stroke="#000" stroke-width="0.5"/>
<line x1="170.2" y1="283.8" x2="171.2" y2="283.8" stroke="#000" stroke-width="0.5"/>
<line x1="170.2" y1="292.8" x2="171.2" y2="292.8" stroke="#000" stroke-width="0.5"/>
<line x1="170.2" y1="296.8" x2="171.2" y2="296.8" stroke="#000" stroke-width="0.5"/>
<line x1="170.2" y1="299.8" x2="171.2" y2="299.8" stroke="#000" stroke-width="0.5"/>
<line x1="170.2" y1="301.8" x2="171.2" y2="301.8" stroke="#000" stroke-width="0.5"/>
<line x1="180.2" y1="322" x2="180.2" y2="324" stroke="#000" stroke-width="0.7"/>
<text x="180.2" y="330.4" font-size="4.9" text-anchor="middle" fill="#222">0</text>
<line x1="186.7" y1="322" x2="186.7" y2="324" stroke="#000" stroke-width="0.7"/>
<text x="188.1" y="330.4" font-size="4.9" text-anchor="middle" fill="#222">10<tspan dy="-1.8" font-size="3.2">2</tspan></text>
<line x1="205.7" y1="322" x2="205.7" y2="324" stroke="#000" stroke-width="0.7"/>
<text x="207.1" y="330.4" font-size="4.9" text-anchor="middle" fill="#222">10<tspan dy="-1.8" font-size="3.2">3</tspan></text>
<line x1="223.7" y1="322" x2="223.7" y2="324" stroke="#000" stroke-width="0.7"/>
<text x="225.1" y="330.4" font-size="4.9" text-anchor="middle" fill="#222">10<tspan dy="-1.8" font-size="3.2">4</tspan></text>
<line x1="241.7" y1="322" x2="241.7" y2="324" stroke="#000" stroke-width="0.7"/>
<text x="243.1" y="330.4" font-size="4.9" text-anchor="middle" fill="#222">10<tspan dy="-1.8" font-size="3.2">5</tspan></text>
<line x1="192.2" y1="322" x2="192.2" y2="323" stroke="#000" stroke-width="0.5"/>
<line x1="196.2" y1="322" x2="196.2" y2="323" stroke="#000" stroke-width="0.5"/>
<line x1="199.2" y1="322" x2="199.2" y2="323" stroke="#000" stroke-width="0.5"/>
<line x1="201.2" y1="322" x2="201.2" y2="323" stroke="#000" stroke-width="0.5"/>
<line x1="210.2" y1="322" x2="210.2" y2="323" stroke="#000" stroke-width="0.5"/>
<line x1="214.2" y1="322" x2="214.2" y2="323" stroke="#000" stroke-width="0.5"/>
<line x1="217.2" y1="322" x2="217.2" y2="323" stroke="#000" stroke-width="0.5"/>
<line x1="219.2" y1="322" x2="219.2" y2="323" stroke="#000" stroke-width="0.5"/>
<line x1="228.2" y1="322" x2="228.2" y2="323" stroke="#000" stroke-width="0.5"/>
<line x1="232.2" y1="322" x2="232.2" y2="323" stroke="#000" stroke-width="0.5"/>
<line x1="235.2" y1="322" x2="235.2" y2="323" stroke="#000" stroke-width="0.5"/>
<line x1="237.2" y1="322" x2="237.2" y2="323" stroke="#000" stroke-width="0.5"/>
<line x1="174.2" y1="322" x2="174.2" y2="323" stroke="#000" stroke-width="0.5"/>
<line x1="176.2" y1="322" x2="176.2" y2="323" stroke="#000" stroke-width="0.5"/>
<line x1="183.2" y1="322" x2="183.2" y2="323" stroke="#000" stroke-width="0.5"/>
<text x="209.2" y="336.2" font-size="4.7" text-anchor="middle" fill="#222">&lt;APC-A&gt;: CD11c</text>
<text transform="translate(158.9,284.9) rotate(-90)" font-size="4.6" text-anchor="middle" fill="#222">&lt;AmCyan-A&gt;: AF</text>
<g filter="url(#sb)"><g transform="scale(.5)" stroke-linecap="square">
<path d="M457 497h0m12 0h0m-2 2h0m-7 1h0m12 0h0m-7 1h0m12 1h0m-14 1h0m1 1h0m-13 1h0m5 0h0m31 1h0m1 0h0m-57 2h0m19 0h0m16 0h0m6 0h0m-45 1h0m28 0h0m-5 1h0m2 0h0m-19 1h0m45 1h0m-43 1h0m-22 1h0m20 0h0m6 0h0m37 0h0m1 1h0m1 2h0m4 0h0m-7 1h0m-46 1h0m51 0h0m1 2h0m-90 1h0m38 0h0m-24 2h0m6 1h0m1 0h0m73 0h0m-73 1h0m65 0h0m-54 1h0m59 0h0m-64 2h0m-4 2h0m68 0h0m0 1h0m-72 1h0m66 2h0m-64 1h0m73 0h0m-6 1h0m-3 1h0m3 0h0m-70 3h0m69 0h0m-75 2h0m6 0h0m-36 1h0m101 0h0m1 0h0m2 0h0m-86 2h0m12 0h0m79 0h0m-97 1h0m12 0h0m-22 1h0m11 0h0m96 0h0m-111 1h0m4 0h0m18 0h0m2 0h0m-5 1h0m-24 1h0m12 0h0m-4 1h0m10 0h0m88 1h0m-2 1h0m-113 2h0m30 0h0m-1 2h0m-7 1h0m89 0h0m-105 1h0m10 0h0m15 1h0m-31 1h0m1 0h0m10 0h0m6 2h0m-13 1h0m10 0h0m92 0h0m-95 1h0m-8 1h0m3 0h0m99 0h0m-4 3h0m1 0h0m-104 1h0m125 2h0m-130 1h0m1 1h0m113 0h0m-11 1h0m-97 1h0m1 0h0m95 0h0m3 1h0m-104 1h0m94 0h0m-3 2h0m4 0h0m-99 2h0m8 0h0m82 3h0m5 1h0m-93 1h0m82 0h0m12 0h0m-96 1h0m83 0h0m-7 2h0m13 0h0m-18 1h0m1 2h0m-6 1h0m-1 2h0m16 0h0m-16 1h0m8 0h0m-75 2h0m68 0h0m16 1h0m-10 4h0m3 0h0m5 0h0m-31 2h0m26 1h0m-19 1h0m-10 1h0m15 0h0m-2 2h0m-8 1h0m11 0h0m17 0h0m-27 1h0m14 0h0m1 0h0m10 0h0m2 0h0m-9 1h0m16 0h0m-21 2h0m21 0h0m8 1h0m9 2h0m5 0h0m-16 1h0m37 0h0m-40 1h0m14 0h0m-1 2h0m-10 1h0m18 1h0m-22 1h0m14 0h0m23 0h0m-33 1h0m9 1h0m0 1h0m-40 1h0m31 0h0m-8 1h0m5 0h0m-44 1h0m12 0h0m11 0h0m20 0h0m12 0h0m-27 2h0m8 0h0m-81 1h0m35 1h0m5 0h0m-35 2h0m17 0h0m7 0h0m-30 1h0m17 0h0m11 0h0m10 0h0m3 0h0m-12 1h0m-25 1h0m13 0h0m7 0h0" stroke="#7587c5" stroke-width="1.05" opacity="0.6"/>
<path d="M460 512h0m-6 1h0m3 0h0m1 0h0m-8 1h0m16 0h0m1 0h0m-21 1h0m5 0h0m16 0h0m2 0h0m1 0h0m-23 1h0m-7 1h0m8 0h0m17 0h0m-22 1h0m23 0h0m-22 1h0m2 0h0m-8 1h0m-3 1h0m34 0h0m-35 1h0m-1 1h0m40 0h0m-44 1h0m42 0h0m-38 1h0m38 0h0m-39 1h0m-7 1h0m46 0h0m-44 1h0m44 0h0m5 0h0m-53 1h0m9 0h0m-13 1h0m4 0h0m48 0h0m2 0h0m-44 1h0m45 0h0m-59 1h0m4 0h0m6 0h0m1 0h0m-7 1h0m-2 1h0m4 0h0m51 0h0m1 0h0m-56 1h0m7 0h0m-8 2h0m53 1h0m-55 2h0m57 2h0m1 1h0m-3 2h0m3 1h0m-65 1h0m60 0h0m-56 1h0m-4 1h0m5 1h0m54 0h0m3 0h0m1 0h0m-65 1h0m-5 1h0m3 0h0m63 0h0m-71 2h0m1 0h0m5 0h0m64 0h0m-73 1h0m2 0h0m1 0h0m4 0h0m-7 1h0m3 0h0m-5 2h0m3 0h0m5 0h0m2 1h0m64 0h0m-70 1h0m-15 2h0m6 0h0m75 1h0m-82 1h0m77 0h0m5 0h0m-80 1h0m1 0h0m10 0h0m65 1h0m-76 1h0m3 0h0m8 0h0m-27 1h0m93 0h0m-91 2h0m2 0h0m6 0h0m77 0h0m2 0h0m-89 1h0m14 0h0m-13 1h0m0 1h0m82 1h0m-85 2h0m-3 3h0m74 1h0m-6 1h0m-16 1h0m-54 1h0m3 0h0m55 0h0m1 0h0m12 0h0m-3 1h0m-27 1h0m-2 1h0m16 0h0m4 0h0m2 0h0m-64 1h0m58 0h0m1 0h0m-17 1h0m1 0h0m27 0h0m2 0h0m-72 1h0m41 0h0m17 0h0m-59 1h0m57 0h0m10 0h0m-11 1h0m10 0h0m-68 1h0m55 0h0m-56 1h0m57 1h0m1 0h0m-2 1h0m-54 2h0m40 0h0m11 0h0m-51 1h0m-2 1h0m46 0h0m10 0h0m-57 1h0m42 0h0m3 0h0m2 0h0m7 0h0m-8 1h0m-47 1h0m1 0h0m1 0h0m53 0h0m-10 1h0m-4 1h0m8 0h0m-8 1h0m9 0h0m4 0h0m-17 1h0m12 0h0m-46 1h0m1 0h0m37 0h0m14 0h0m1 0h0m-21 2h0m-36 2h0m36 0h0m3 0h0m1 0h0m2 0h0m1 1h0m3 4h0m13 0h0m23 0h0m-26 1h0m24 0h0m-33 1h0m2 0h0m6 0h0m15 0h0m-18 1h0m5 0h0m7 0h0m14 0h0m2 0h0m-29 1h0m9 0h0m6 0h0m8 0h0m9 0h0m-84 1h0m58 0h0m3 0h0m12 0h0m3 0h0m-76 1h0m63 0h0m15 0h0m7 0h0m-29 1h0m10 0h0m3 0h0m6 0h0m13 0h0m-34 1h0m2 0h0m13 0h0m13 0h0m-26 1h0m7 0h0m14 0h0m6 0h0m-37 1h0m18 0h0m3 0h0m5 0h0m12 0h0m-32 1h0m7 0h0m8 0h0m4 0h0m4 0h0m8 0h0m2 0h0m-21 1h0m6 0h0m4 0h0m5 0h0m1 0h0m6 0h0m-42 1h0m5 0h0m1 0h0m4 0h0m1 0h0m18 0h0m13 0h0m-29 1h0m19 0h0m-74 1h0m35 0h0m15 0h0m2 0h0m1 0h0m26 0h0m-43 1h0m11 0h0m2 0h0m5 0h0m-55 1h0m2 1h0m5 0h0m24 0h0m18 0h0m-45 1h0m24 0h0m-15 1h0m8 0h0m-15 1h0m12 0h0m1 0h0m-3 2h0" stroke="#6579bf" stroke-width="1.05" opacity="0.6"/>
<path d="M455 515h0m-4 1h0m5 0h0m1 0h0m2 0h0m-8 1h0m6 0h0m4 0h0m2 0h0m-13 2h0m1 0h0m11 0h0m1 0h0m-19 1h0m2 0h0m-6 1h0m10 0h0m3 0h0m1 0h0m11 0h0m3 0h0m-19 1h0m15 0h0m6 0h0m-32 1h0m1 0h0m3 0h0m1 0h0m4 0h0m16 0h0m4 0h0m1 0h0m-28 1h0m1 0h0m27 0h0m-31 1h0m33 0h0m-30 2h0m-3 1h0m1 0h0m27 0h0m2 0h0m-31 1h0m1 0h0m31 0h0m-1 1h0m0 1h0m0 1h0m-36 2h0m-5 1h0m1 0h0m40 0h0m-42 1h0m-10 2h0m2 1h0m1 0h0m6 0h0m2 0h0m41 0h0m-52 1h0m1 0h0m3 0h0m4 1h0m1 0h0m45 0h0m1 0h0m-57 2h0m52 0h0m-52 1h0m52 0h0m1 0h0m-51 1h0m1 0h0m48 1h0m1 0h0m-51 1h0m1 2h0m50 0h0m1 0h0m-59 1h0m2 0h0m4 0h0m50 0h0m-50 1h0m-8 1h0m58 0h0m-55 1h0m1 0h0m2 0h0m-6 1h0m3 0h0m1 0h0m4 0h0m51 0h0m-56 1h0m53 1h0m-56 1h0m1 0h0m55 0h0m-2 2h0m2 0h0m-67 1h0m65 0h0m-63 1h0m-2 1h0m2 0h0m7 0h0m52 0h0m-51 1h0m-11 1h0m2 0h0m2 0h0m56 0h0m3 0h0m-72 2h0m3 0h0m1 0h0m8 0h0m-13 2h0m2 0h0m1 0h0m3 0h0m-1 1h0m60 0h0m-69 1h0m2 0h0m1 0h0m6 0h0m3 0h0m8 0h0m6 0h0m44 0h0m-69 1h0m8 0h0m2 0h0m2 0h0m3 0h0m53 0h0m-76 1h0m8 0h0m8 0h0m8 0h0m2 0h0m4 0h0m4 0h0m42 0h0m2 0h0m-78 1h0m3 0h0m4 0h0m3 0h0m5 0h0m1 0h0m3 0h0m8 0h0m4 0h0m44 0h0m2 0h0m1 0h0m-86 1h0m9 0h0m1 0h0m2 0h0m3 0h0m17 0h0m9 0h0m1 0h0m1 0h0m-42 1h0m3 0h0m1 0h0m3 0h0m71 0h0m2 0h0m-80 1h0m6 0h0m7 0h0m4 0h0m23 0h0m5 0h0m1 0h0m30 0h0m-64 1h0m1 0h0m4 0h0m3 0h0m11 0h0m12 0h0m1 0h0m5 0h0m-53 1h0m3 0h0m28 0h0m13 0h0m1 0h0m6 0h0m1 0h0m8 0h0m2 0h0m3 0h0m2 0h0m2 0h0m4 0h0m-73 1h0m1 0h0m1 0h0m2 0h0m14 0h0m2 0h0m31 0h0m18 0h0m3 0h0m4 0h0m-58 1h0m15 0h0m7 0h0m2 0h0m2 0h0m4 0h0m6 0h0m1 0h0m4 0h0m-26 1h0m4 0h0m22 0h0m-30 1h0m11 0h0m3 0h0m7 0h0m8 0h0m2 0h0m1 0h0m-61 1h0m2 0h0m29 0h0m1 0h0m3 0h0m11 0h0m1 0h0m15 0h0m-18 1h0m18 0h0m-63 1h0m1 0h0m1 0h0m41 0h0m1 0h0m1 0h0m1 0h0m12 0h0m3 0h0m3 0h0m-33 1h0m12 0h0m1 0h0m2 0h0m14 0h0m2 0h0m-30 1h0m11 0h0m3 0h0m14 0h0m-62 1h0m21 0h0m27 0h0m-47 1h0m20 0h0m10 0h0m2 0h0m1 1h0m5 0h0m-41 1h0m25 0h0m1 0h0m10 0h0m7 0h0m1 0h0m4 0h0m-50 1h0m30 0h0m3 0h0m2 0h0m1 0h0m2 0h0m5 0h0m1 0h0m4 0h0m1 0h0m1 0h0m-51 1h0m1 0h0m31 0h0m15 0h0m-47 1h0m43 0h0m4 0h0m-44 1h0m33 0h0m2 0h0m4 0h0m-8 1h0m2 0h0m10 0h0m-12 1h0m10 0h0m1 0h0m1 0h0m-44 1h0m-2 1h0m2 0h0m1 0h0m-5 1h0m5 0h0m32 0h0m-3 1h0m3 0h0m-37 1h0m7 0h0m24 0h0m2 0h0m3 0h0m1 0h0m-32 1h0m3 0h0m21 0h0m1 0h0m-22 1h0m31 0h0m-36 1h0m27 0h0m-25 1h0m-3 1h0m28 0h0m-1 1h0m-25 1h0m-4 1h0m2 0h0m26 0h0m0 1h0m1 0h0m-31 1h0m1 1h0m2 0h0m31 0h0m-33 1h0m34 0h0m-34 1h0m35 0h0m0 2h0m1 0h0m2 0h0m-41 1h0m41 1h0m0 1h0m-40 1h0m42 0h0m3 0h0m-3 1h0m2 0h0m2 0h0m2 0h0m11 0h0m-14 1h0m1 0h0m2 0h0m10 0h0m3 0h0m-22 1h0m3 0h0m1 0h0m4 0h0m13 0h0m-12 1h0m21 0h0m-70 1h0m40 0h0m-39 1h0m38 0h0m1 0h0m0 1h0m-38 2h0m31 0h0m1 1h0m1 0h0m-9 1h0m3 0h0" stroke="#556cb9" stroke-width="1.05" opacity="0.7"/>
<path d="M457 518h0m1 0h0m1 1h0m0 1h0m1 1h0m2 0h0m-8 1h0m3 0h0m1 0h0m2 1h0m-17 1h0m7 0h0m2 0h0m2 0h0m2 0h0m10 0h0m-20 1h0m4 0h0m1 0h0m3 0h0m8 0h0m3 0h0m-21 1h0m19 0h0m3 0h0m-4 1h0m1 0h0m1 0h0m2 0h0m-3 3h0m-27 1h0m26 0h0m1 0h0m0 1h0m2 0h0m-32 1h0m30 0h0m-34 1h0m36 0h0m-37 2h0m-1 1h0m1 0h0m37 0h0m1 0h0m-39 2h0m1 0h0m35 1h0m2 0h0m0 1h0m-46 1h0m4 0h0m-4 1h0m2 0h0m-4 2h0m1 0h0m-1 1h0m45 2h0m-47 2h0m44 0h0m-44 3h0m44 0h0m1 0h0m-1 1h0m1 0h0m1 0h0m-2 1h0m1 0h0m-1 1h0m-52 1h0m-2 1h0m2 0h0m46 0h0m-46 1h0m1 0h0m50 0h0m-6 2h0m-47 2h0m1 0h0m46 0h0m-46 1h0m45 0h0m-51 1h0m50 0h0m1 0h0m-54 1h0m2 0h0m1 0h0m1 0h0m1 0h0m2 0h0m4 0h0m37 0h0m4 0h0m-52 1h0m1 0h0m1 0h0m6 0h0m38 0h0m3 0h0m2 0h0m-49 1h0m2 0h0m4 0h0m-3 1h0m1 0h0m6 0h0m1 0h0m-1 1h0m35 0h0m-43 1h0m7 0h0m35 0h0m-32 1h0m-2 1h0m1 0h0m33 0h0m-44 1h0m2 0h0m1 0h0m9 0h0m4 0h0m-17 1h0m3 0h0m10 0h0m4 0h0m-45 1h0m17 0h0m2 0h0m11 0h0m16 0h0m4 0h0m3 0h0m6 0h0m2 0h0m1 0h0m4 0h0m3 0h0m1 0h0m-72 1h0m2 0h0m17 0h0m1 0h0m1 0h0m9 0h0m3 0h0m3 0h0m15 0h0m6 0h0m3 0h0m2 0h0m2 0h0m3 0h0m-65 1h0m1 0h0m25 0h0m23 0h0m-52 1h0m3 0h0m1 0h0m14 0h0m2 0h0m2 0h0m8 0h0m1 0h0m1 0h0m3 0h0m-31 1h0m1 0h0m2 0h0m4 0h0m3 0h0m2 0h0m4 0h0m-17 1h0m1 0h0m1 0h0m6 0h0m2 0h0m7 0h0m1 0h0m-20 1h0m4 0h0m18 0h0m-23 1h0m2 0h0m3 0h0m3 0h0m2 0h0m1 0h0m-14 1h0m3 0h0m1 0h0m5 0h0m3 0h0m6 0h0m-17 1h0m7 0h0m1 0h0m9 0h0m-20 1h0m11 0h0m2 0h0m4 0h0m1 0h0m2 0h0m5 0h0m1 0h0m2 0h0m-27 1h0m15 0h0m5 0h0m3 0h0m-24 1h0m16 0h0m-16 1h0m24 0h0m1 0h0m-25 1h0m15 1h0m2 1h0m-19 1h0m18 0h0m-21 1h0m2 0h0m18 0h0m3 0h0m3 0h0m14 0h0m1 0h0m-41 1h0m3 0h0m20 0h0m5 0h0m1 0h0m10 0h0m1 0h0m-37 1h0m19 0h0m1 0h0m3 0h0m1 0h0m1 0h0m-28 1h0m25 0h0m3 0h0m1 0h0m-5 1h0m-24 1h0m2 0h0m21 0h0m3 0h0m-23 1h0m20 0h0m4 0h0m-24 1h0m2 0h0m16 1h0m-1 1h0m1 0h0m1 0h0m-18 1h0m15 0h0m2 0h0m-17 1h0m14 0h0m-13 1h0m15 1h0m-19 1h0m19 0h0m1 0h0m-20 1h0m18 0h0m-18 1h0m20 0h0m-21 1h0m-1 1h0m23 0h0m-25 1h0m2 0h0m21 0h0m3 1h0m-28 1h0m29 0h0m1 0h0m-1 1h0m1 2h0m3 0h0m-2 1h0m2 0h0m0 1h0m1 1h0m-39 1h0m39 0h0m-39 1h0m39 0h0m2 0h0m1 0h0m-6 4h0m-2 2h0m-29 2h0m23 0h0m-21 1h0" stroke="#4f70b7" stroke-width="1.24" opacity="0.7"/>
<path d="M456 524h0m1 0h0m-12 2h0m1 0h0m2 0h0m6 0h0m1 0h0m1 0h0m1 0h0m-6 1h0m5 0h0m3 0h0m1 0h0m-17 1h0m3 0h0m11 0h0m3 0h0m-3 1h0m2 0h0m1 0h0m0 1h0m-2 2h0m-22 1h0m0 1h0m28 0h0m-33 1h0m32 0h0m-34 1h0m32 0h0m2 0h0m-34 1h0m32 0h0m2 0h0m-1 1h0m2 0h0m-3 1h0m-33 3h0m34 0h0m-37 1h0m3 0h0m34 0h0m-38 1h0m37 0h0m-41 1h0m1 0h0m1 0h0m1 0h0m1 0h0m38 0h0m-42 1h0m6 0h0m33 0h0m-40 1h0m41 0h0m-41 2h0m41 0h0m-43 2h0m1 1h0m39 0h0m1 0h0m-1 1h0m-43 3h0m1 0h0m40 0h0m-41 1h0m41 0h0m1 0h0m2 0h0m-47 1h0m43 0h0m1 0h0m2 0h0m-46 1h0m40 0h0m1 0h0m-45 1h0m2 0h0m-1 1h0m41 0h0m1 1h0m-43 1h0m1 0h0m1 0h0m1 0h0m40 0h0m-6 1h0m1 0h0m3 0h0m-36 1h0m34 0h0m-37 1h0m1 0h0m1 0h0m4 0h0m26 0h0m-32 1h0m1 0h0m5 0h0m-3 1h0m1 0h0m5 0h0m24 0h0m-31 1h0m2 1h0m3 0h0m25 0h0m-28 1h0m3 0h0m9 0h0m16 0h0m-25 1h0m2 0h0m10 0h0m1 0h0m2 0h0m10 0h0m1 0h0m-27 1h0m7 0h0m2 0h0m3 0h0m2 0h0m1 0h0m3 0h0m2 0h0m6 0h0m1 0h0m-26 1h0m1 0h0m2 0h0m3 0h0m5 0h0m3 0h0m6 0h0m1 0h0m1 0h0m1 0h0m1 0h0m-19 1h0m3 0h0m1 0h0m8 0h0m2 0h0m3 0h0m-21 1h0m4 0h0m16 0h0m-52 6h0m2 0h0m-2 1h0m2 0h0m-1 1h0m1 0h0m1 0h0m-6 1h0m1 0h0m2 0h0m-17 1h0m-3 1h0m1 0h0m1 0h0m1 0h0m-5 1h0m1 0h0m5 0h0m4 0h0m-10 1h0m3 0h0m2 0h0m2 0h0m2 0h0m1 0h0m1 0h0m-12 1h0m2 0h0m8 0h0m-9 1h0m8 0h0m3 0h0m-14 1h0m14 0h0m2 0h0m-14 1h0m10 0h0m4 3h0m1 0h0m1 0h0m-4 1h0m-12 1h0m14 0h0m2 0h0m-2 1h0m-13 1h0m12 1h0m-12 1h0m1 0h0m12 0h0m-1 1h0m-12 1h0m1 1h0m2 1h0m-3 1h0m9 0h0m2 0h0m-11 1h0m10 0h0m-9 1h0m-4 1h0m3 0h0m1 0h0m-2 1h0m13 0h0m-17 1h0m2 0h0m16 0h0m-18 1h0m19 1h0m0 1h0m-27 1h0m29 0h0m2 2h0m-2 1h0m3 0h0m1 1h0m1 1h0m-1 1h0m-1 2h0m0 2h0m-1 1h0m-30 1h0m26 0h0m3 0h0m-29 1h0m27 0h0m2 0h0m-27 2h0m21 0h0m-16 1h0m1 0h0m1 0h0m1 0h0m6 0h0m-7 1h0m9 0h0m-2 1h0" stroke="#4a74b6" stroke-width="1.24" opacity="0.7"/>
<path d="M445 528h0m4 0h0m-6 1h0m4 0h0m3 0h0m2 0h0m1 0h0m1 0h0m-8 1h0m4 0h0m7 0h0m-18 1h0m15 0h0m1 0h0m2 0h0m-20 2h0m21 0h0m-24 1h0m23 0h0m0 1h0m1 0h0m-28 1h0m29 0h0m-27 1h0m27 1h0m-29 4h0m0 1h0m30 2h0m-37 1h0m1 0h0m2 0h0m-3 1h0m-2 1h0m0 1h0m2 0h0m34 0h0m1 0h0m-38 1h0m1 0h0m1 0h0m1 0h0m-5 1h0m2 1h0m4 0h0m1 0h0m-6 1h0m2 0h0m-1 1h0m5 0h0m-6 1h0m1 0h0m1 0h0m3 0h0m1 0h0m31 0h0m-5 2h0m-38 1h0m1 0h0m36 0h0m-37 1h0m-2 1h0m1 0h0m1 0h0m-2 1h0m3 0h0m-1 1h0m31 0h0m3 0h0m-34 1h0m30 0h0m3 0h0m-30 1h0m1 0h0m6 0h0m19 0h0m-21 1h0m1 0h0m2 0h0m1 0h0m14 0h0m-19 1h0m5 0h0m14 0h0m-20 1h0m1 0h0m2 0h0m1 0h0m2 0h0m14 0h0m-21 1h0m2 0h0m1 0h0m4 0h0m1 0h0m1 0h0m13 0h0m-21 1h0m1 0h0m1 0h0m5 0h0m2 0h0m2 0h0m8 0h0m-16 1h0m6 0h0m2 0h0m1 0h0m4 0h0m1 0h0m1 0h0m1 0h0m-19 1h0m1 0h0m1 0h0m1 0h0m5 0h0m2 0h0m2 0h0m1 0h0m3 0h0m2 0h0m1 0h0m-18 1h0m2 0h0m15 0h0m1 0h0m-18 1h0m1 0h0m1 0h0m14 0h0m-70 17h0m3 0h0m-4 1h0m3 0h0m1 0h0m-4 1h0m4 0h0m-6 1h0m7 0h0m-4 1h0m7 0h0m1 0h0m-10 1h0m7 0h0m1 0h0m2 0h0m0 1h0m-11 1h0m0 1h0m1 0h0m9 0h0m1 0h0m-11 1h0m2 1h0m9 0h0m-1 1h0m1 0h0m-10 1h0m2 0h0m5 0h0m1 0h0m2 0h0m-9 1h0m1 1h0m3 0h0m1 0h0m1 0h0m1 0h0m-8 1h0m6 0h0m-1 2h0m1 0h0m-4 1h0m1 0h0m2 0h0m1 0h0m1 0h0m-5 1h0m5 0h0m1 0h0m-7 1h0m5 0h0m2 0h0m1 0h0m1 0h0m-8 1h0m-2 1h0m9 0h0m1 0h0m-13 1h0m5 0h0m7 0h0m-15 1h0m-3 1h0m21 1h0m1 0h0m-23 1h0m23 0h0m1 0h0m-28 1h0m1 0h0m26 0h0m1 0h0m0 1h0m0 2h0m1 0h0m-30 1h0m1 0h0m-1 1h0m1 0h0m31 0h0m1 0h0m-32 1h0m32 0h0m-32 1h0m30 1h0m-5 2h0m1 1h0m-21 1h0m1 0h0m16 0h0m-17 1h0m17 0h0" stroke="#4c7fae" stroke-width="1.24" opacity="1.0"/>
<path d="M441 530h0m1 0h0m1 0h0m1 0h0m3 0h0m3 0h0m1 0h0m1 0h0m-10 1h0m1 0h0m1 0h0m1 0h0m1 0h0m2 0h0m1 0h0m5 0h0m-15 1h0m1 0h0m9 0h0m2 0h0m3 0h0m1 0h0m-16 1h0m1 0h0m15 0h0m1 0h0m-21 1h0m0 1h0m1 0h0m-2 1h0m1 0h0m1 0h0m21 0h0m-22 1h0m-4 1h0m2 0h0m1 0h0m-3 1h0m1 0h0m2 0h0m-3 1h0m1 1h0m27 0h0m-27 2h0m27 0h0m-31 1h0m1 0h0m3 0h0m-3 1h0m1 0h0m-2 1h0m1 0h0m28 0h0m1 0h0m-31 2h0m1 0h0m28 0h0m-30 1h0m1 0h0m1 0h0m28 0h0m-31 1h0m1 0h0m0 1h0m2 0h0m27 0h0m-2 2h0m1 0h0m-26 1h0m26 0h0m-27 1h0m26 0h0m-35 1h0m2 0h0m2 0h0m2 0h0m1 0h0m1 0h0m2 0h0m-6 1h0m1 0h0m-8 1h0m1 0h0m4 0h0m1 0h0m1 0h0m4 0h0m-10 1h0m1 0h0m3 0h0m1 0h0m1 0h0m1 0h0m1 0h0m1 0h0m-10 1h0m1 0h0m1 0h0m1 0h0m1 0h0m2 0h0m2 0h0m1 0h0m22 0h0m1 0h0m1 0h0m-33 1h0m1 0h0m1 0h0m1 0h0m2 0h0m1 0h0m2 0h0m1 0h0m1 0h0m20 0h0m3 0h0m-33 1h0m1 0h0m2 0h0m2 0h0m5 0h0m3 0h0m11 0h0m3 0h0m-28 1h0m1 0h0m1 0h0m3 0h0m5 0h0m1 0h0m2 0h0m1 0h0m11 0h0m-12 1h0m10 0h0m-9 1h0m10 0h0m-9 1h0m1 0h0m1 0h0m4 0h0m1 0h0m1 0h0m-8 1h0m1 0h0m2 0h0m6 0h0m-3 1h0m1 0h0m0 1h0m-3 1h0m-66 22h0m1 0h0m-2 1h0m2 0h0m-3 1h0m3 0h0m1 0h0m-5 1h0m1 0h0m1 0h0m4 0h0m-5 1h0m2 0h0m2 0h0m1 0h0m-5 1h0m6 0h0m-5 1h0m1 0h0m4 0h0m-6 1h0m2 0h0m1 0h0m1 0h0m2 0h0m-5 1h0m3 0h0m1 0h0m1 0h0m-4 1h0m1 0h0m1 0h0m1 0h0m1 0h0m-3 1h0m1 0h0m-2 1h0m2 7h0m1 0h0m-1 1h0m-2 1h0m1 0h0m1 0h0m2 0h0m1 0h0m-5 1h0m-3 1h0m-4 1h0m2 0h0m11 0h0m0 1h0m2 3h0m3 1h0m1 3h0m1 0h0m-1 1h0m1 0h0m-2 1h0m1 0h0m1 0h0m-3 1h0m-2 1h0m1 0h0m1 0h0m-4 1h0m-20 1h0" stroke="#54949e" stroke-width="1.24" opacity="1.0"/>
<path d="M441 532h0m1 0h0m5 0h0m2 0h0m2 0h0m1 0h0m2 0h0m-13 1h0m8 0h0m1 0h0m1 0h0m3 0h0m-15 1h0m1 0h0m1 0h0m-4 1h0m3 0h0m-3 1h0m1 0h0m0 1h0m-3 1h0m1 0h0m-2 3h0m-1 2h0m1 0h0m-3 1h0m26 0h0m0 1h0m-27 2h0m-1 1h0m1 0h0m0 1h0m24 1h0m-26 1h0m1 0h0m25 0h0m-25 1h0m24 0h0m-1 2h0m-22 2h0m19 0h0m-20 1h0m1 0h0m-1 1h0m1 0h0m18 0h0m-21 1h0m20 0h0m1 0h0m-20 1h0m2 0h0m12 0h0m2 0h0m-17 1h0m1 0h0m15 0h0m-16 1h0m10 0h0m-9 1h0m2 0h0m1 1h0m4 0h0m-4 1h0m4 0h0m-2 1h0m1 0h0m-64 48h0m1 0h0m1 0h0m-5 1h0m1 0h0m2 0h0m1 0h0m1 0h0m-16 1h0m-1 1h0m1 0h0m16 0h0m-19 1h0m19 0h0m-19 1h0m1 0h0m18 0h0m2 0h0m-23 1h0m24 0h0m-24 1h0m24 0h0m0 1h0m1 0h0m2 0h0m-2 1h0m0 1h0m-25 1h0m1 0h0m23 0h0m2 0h0m1 0h0m0 1h0m-21 4h0m12 0h0m1 0h0m-13 1h0" stroke="#5fa288" stroke-width="1.24" opacity="1.0"/>
<path d="M443 532h0m1 0h0m-1 1h0m-3 1h0m2 0h0m1 0h0m2 0h0m4 0h0m-8 1h0m4 0h0m1 0h0m5 0h0m2 0h0m1 0h0m-15 1h0m16 0h0m-16 2h0m18 0h0m-20 1h0m-2 1h0m22 0h0m-22 2h0m1 0h0m-2 2h0m-1 1h0m1 0h0m-2 1h0m23 0h0m-24 1h0m1 0h0m21 1h0m1 1h0m-2 3h0m-1 1h0m1 0h0m-4 1h0m1 0h0m1 0h0m-2 1h0m0 1h0m-1 1h0m1 0h0m-17 1h0m1 0h0m-1 1h0m1 0h0m13 0h0m1 0h0m-15 1h0m6 0h0m1 0h0m2 0h0m1 0h0m5 0h0m-8 1h0m1 0h0m2 0h0m-10 1h0m1 0h0m1 0h0m1 0h0m1 0h0m1 0h0m-4 1h0m2 0h0m-2 1h0m1 0h0m1 0h0m1 0h0m-2 1h0m-76 51h0m12 0h0m-12 1h0m1 0h0m2 0h0m9 0h0m1 0h0m-13 1h0m15 2h0m1 0h0m1 1h0m-22 1h0m22 0h0m-22 1h0m22 3h0m-18 2h0m16 0h0m-17 1h0m1 0h0m15 0h0m-11 1h0" stroke="#6eab6c" stroke-width="1.24" opacity="1.0"/>
<path d="M442 536h0m8 0h0m1 0h0m1 0h0m1 0h0m1 0h0m-12 1h0m7 0h0m3 0h0m2 0h0m-14 1h0m1 0h0m15 0h0m-16 1h0m15 0h0m2 1h0m1 0h0m-21 1h0m1 0h0m20 0h0m-1 1h0m1 0h0m0 1h0m-24 1h0m1 0h0m22 0h0m1 0h0m-23 1h0m21 0h0m-23 1h0m21 0h0m-2 1h0m-22 1h0m1 0h0m1 0h0m19 0h0m0 1h0m1 0h0m-21 1h0m1 0h0m17 0h0m1 0h0m2 0h0m-22 1h0m2 0h0m17 0h0m2 0h0m1 0h0m-20 1h0m17 0h0m-17 1h0m-1 1h0m1 0h0m15 0h0m-16 1h0m1 0h0m15 0h0m1 0h0m-3 1h0m1 0h0m-14 1h0m1 1h0m1 0h0m7 0h0m1 0h0m-9 1h0m1 0h0m7 0h0m1 0h0m1 0h0m1 0h0m-11 1h0m1 0h0m-1 1h0m2 0h0m-74 55h0m1 0h0m3 0h0m3 0h0m-4 1h0m-8 1h0m7 0h0m8 0h0m-16 1h0m1 0h0m15 0h0m1 0h0m1 3h0m0 1h0m1 0h0m0 1h0m-2 1h0m-19 1h0m0 1h0m9 3h0m1 0h0m1 0h0m1 0h0m1 0h0m1 0h0m-6 1h0m1 0h0m4 0h0" stroke="#7bb257" stroke-width="1.24" opacity="1.0"/>
<path d="M443 536h0m3 0h0m2 0h0m-4 1h0m1 0h0m1 0h0m1 0h0m1 0h0m-7 1h0m1 0h0m11 0h0m-12 1h0m1 0h0m12 0h0m-15 1h0m0 1h0m1 0h0m-4 1h0m2 0h0m1 0h0m-3 1h0m2 0h0m-2 3h0m-1 1h0m-1 1h0m16 0h0m-17 1h0m1 0h0m16 0h0m-16 1h0m13 0h0m1 0h0m-14 1h0m14 0h0m0 1h0m-1 1h0m1 0h0m-2 1h0m-1 1h0m1 0h0m-12 1h0m9 0h0m-10 1h0m11 0h0m-7 1h0m1 0h0m1 0h0m-4 1h0m1 0h0m1 0h0m1 0h0m2 0h0m-71 59h0m0 1h0m-15 1h0m18 0h0m-19 1h0m1 0h0" stroke="#7fb455" stroke-width="1.24" opacity="1.0"/>
<path d="M446 538h0m2 0h0m3 0h0m1 0h0m-9 1h0m1 0h0m1 0h0m1 0h0m2 0h0m1 0h0m1 0h0m1 0h0m1 0h0m-6 1h0m4 0h0m5 0h0m1 0h0m-1 1h0m1 0h0m-1 1h0m1 0h0m-1 1h0m1 0h0m-19 1h0m16 0h0m-15 1h0m15 0h0m1 0h0m-5 1h0m2 0h0m1 0h0m2 0h0m-4 1h0m1 0h0m1 0h0m-16 1h0m11 0h0m0 1h0m-14 3h0m1 0h0m12 0h0m-13 1h0m13 0h0m-13 1h0m1 0h0m8 0h0m2 0h0m2 0h0m-12 1h0m0 1h0m1 0h0m1 0h0m1 0h0m1 0h0m1 0h0m1 0h0m1 0h0m2 0h0m-8 1h0m1 0h0m2 0h0m1 0h0m1 0h0m2 0h0m-3 1h0m-82 61h0m1 0h0m-5 3h0m-1 1h0m1 0h0m1 0h0m-2 1h0m1 0h0m1 0h0m-1 1h0m1 0h0m18 1h0m-1 1h0m-14 1h0" stroke="#84b653" stroke-width="1.24" opacity="1.0"/>
<path d="M441 540h0m1 0h0m4 0h0m1 0h0m1 0h0m4 0h0m-10 1h0m4 0h0m3 0h0m1 0h0m2 0h0m1 0h0m1 0h0m-15 1h0m1 0h0m13 0h0m1 0h0m-16 1h0m2 0h0m13 0h0m1 0h0m-5 1h0m1 0h0m1 0h0m-2 1h0m-12 1h0m1 0h0m12 0h0m-13 1h0m9 0h0m-9 1h0m9 0h0m-9 1h0m1 0h0m7 0h0m1 0h0m-12 1h0m1 0h0m1 0h0m-1 1h0m1 0h0m9 0h0m-10 1h0m1 0h0m6 0h0m1 0h0m1 0h0m-9 1h0m1 0h0m8 0h0m-9 1h0m4 0h0m1 0h0m2 0h0m-6 1h0m1 0h0m1 0h0m1 0h0m2 0h0m-74 63h0m1 0h0m0 1h0m3 3h0m1 1h0m0 1h0m-2 1h0m1 0h0m1 0h0m-17 1h0m1 0h0m-1 1h0m14 1h0m-10 1h0m1 0h0m9 0h0m1 0h0" stroke="#89b851" stroke-width="1.24" opacity="1.0"/>
<path d="M444 540h0m2 0h0m-3 1h0m1 0h0m1 0h0m1 0h0m-5 1h0m6 0h0m1 0h0m1 0h0m2 0h0m1 0h0m-11 1h0m1 0h0m5 0h0m1 0h0m2 0h0m2 0h0m-13 1h0m2 0h0m7 0h0m3 0h0m-12 1h0m1 0h0m7 0h0m1 0h0m-2 1h0m-6 1h0m4 0h0m1 0h0m-6 1h0m1 0h0m3 0h0m-3 1h0m3 0h0m-6 1h0m3 0h0m1 0h0m1 0h0m1 0h0m1 0h0m-7 1h0m1 0h0m1 0h0m-2 1h0m1 0h0m2 0h0m1 0h0m-3 1h0m1 0h0m1 0h0m1 0h0m1 0h0m-3 1h0m-80 66h0m11 0h0m-14 1h0m13 0h0m1 0h0" stroke="#95ba4d" stroke-width="1.24" opacity="1.0"/>
<path d="M443 542h0m2 0h0m1 0h0m-2 1h0m1 0h0m1 0h0m-5 1h0m3 0h0m1 0h0m1 0h0m-5 1h0m1 0h0m1 0h0m2 0h0m1 0h0m-6 1h0m1 0h0m1 0h0m1 0h0m1 0h0m2 0h0m-4 1h0m1 0h0m-2 1h0m1 0h0m-2 1h0m1 0h0m1 0h0m-81 69h0m1 0h0m4 0h0m-5 1h0m1 0h0m2 0h0m1 0h0m1 0h0m-5 9h0m5 0h0m1 0h0m-6 1h0m7 0h0" stroke="#a7bd48" stroke-width="1.24" opacity="1.0"/>
<path d="M364 618h0m-2 1h0m1 0h0m-8 3h0m1 1h0m0 1h0m-1 1h0m1 0h0m0 1h0m1 0h0m1 0h0m11 0h0m1 0h0m-13 1h0m1 0h0m11 0h0m-6 1h0m1 0h0m2 0h0m-3 1h0m3 0h0" stroke="#bac043" stroke-width="1.24" opacity="1.0"/>
<path d="M357 620h0m1 0h0m-1 1h0m1 0h0m11 1h0m0 1h0m1 0h0" stroke="#cdc33e" stroke-width="1.24" opacity="1.0"/>
<path d="M366 620h0m1 0h0m1 1h0m1 3h0m1 0h0m-1 1h0m1 0h0" stroke="#d2ba3a" stroke-width="1.24" opacity="1.0"/>
<path d="M360 620h0m-1 1h0m1 0h0m-1 5h0m1 0h0m0 2h0" stroke="#d7b136" stroke-width="1.24" opacity="1.0"/>
<path d="M360 620h0m1 0h0m1 0h0m3 0h0m-5 1h0m4 0h0m1 0h0m1 0h0m-9 1h0m1 0h0m7 0h0m-8 1h0m1 0h0m-2 1h0m1 0h0m1 0h0m-1 1h0m1 0h0m-1 1h0m9 0h0m1 0h0m1 0h0m-1 1h0m1 0h0m0 1h0" stroke="#dca932" stroke-width="1.24" opacity="1.0"/>
<path d="M363 620h0m1 0h0m-2 1h0m1 0h0m1 0h0m-2 1h0m2 0h0m3 0h0m1 0h0m-1 1h0m1 0h0m-7 3h0m1 0h0m0 1h0m0 1h0" stroke="#e1a02e" stroke-width="1.24" opacity="1.0"/>
<path d="M366 624h0m1 0h0m0 1h0m1 0h0m-5 1h0m1 0h0m1 0h0m1 0h0m-3 1h0m1 0h0m1 0h0m1 0h0" stroke="#e5982a" stroke-width="1.24" opacity="1.0"/>
<path d="M359 622h0m0 1h0m1 0h0m-1 1h0m1 0h0m-1 1h0m1 0h0m-2 1h0" stroke="#e38c28" stroke-width="1.24" opacity="1.0"/>
<path d="M361 622h0m1 0h0m3 0h0m1 0h0m-5 1h0m1 0h0m3 0h0m1 0h0m-5 1h0" stroke="#e18026" stroke-width="1.24" opacity="1.0"/>
<path d="M363 622h0m1 0h0m-2 1h0m1 0h0m1 0h0m-3 1h0m1 0h0m2 0h0m2 0h0m-6 1h0m1 0h0m1 0h0m3 0h0m1 0h0m-2 1h0" stroke="#de7324" stroke-width="1.24" opacity="1.0"/>
<path d="M362 624h0m1 0h0m1 0h0m0 1h0m-1 1h0" stroke="#dc6822" stroke-width="1.24" opacity="1.0"/>
</g></g>
<text x="178.6" y="256.8" font-size="4.8" fill="#9466a6">61.2</text>
<rect x="269.5" y="245.6" width="76" height="75.2" fill="none" stroke="#888" stroke-width="0.6"/>
<line x1="269.5" y1="245.6" x2="269.5" y2="321.3" stroke="#000" stroke-width="0.9"/>
<line x1="269" y1="320.8" x2="345.5" y2="320.8" stroke="#000" stroke-width="0.9"/>
<line x1="267.5" y1="252.3" x2="269.5" y2="252.3" stroke="#000" stroke-width="0.7"/>
<text x="265.9" y="254.2" font-size="4.9" text-anchor="end" fill="#222">10<tspan dy="-1.8" font-size="3.2">5</tspan></text>
<line x1="267.5" y1="270" x2="269.5" y2="270" stroke="#000" stroke-width="0.7"/>
<text x="265.9" y="271.9" font-size="4.9" text-anchor="end" fill="#222">10<tspan dy="-1.8" font-size="3.2">4</tspan></text>
<line x1="267.5" y1="287.5" x2="269.5" y2="287.5" stroke="#000" stroke-width="0.7"/>
<text x="265.9" y="289.4" font-size="4.9" text-anchor="end" fill="#222">10<tspan dy="-1.8" font-size="3.2">3</tspan></text>
<line x1="267.5" y1="305.3" x2="269.5" y2="305.3" stroke="#000" stroke-width="0.7"/>
<text x="265.9" y="307.2" font-size="4.9" text-anchor="end" fill="#222">10<tspan dy="-1.8" font-size="3.2">2</tspan></text>
<line x1="267.5" y1="313.3" x2="269.5" y2="313.3" stroke="#000" stroke-width="0.7"/>
<text x="266.5" y="315.2" font-size="4.9" text-anchor="end" fill="#222">0</text>
<line x1="268.5" y1="255.6" x2="269.5" y2="255.6" stroke="#000" stroke-width="0.5"/>
<line x1="268.5" y1="259.6" x2="269.5" y2="259.6" stroke="#000" stroke-width="0.5"/>
<line x1="268.5" y1="262.6" x2="269.5" y2="262.6" stroke="#000" stroke-width="0.5"/>
<line x1="268.5" y1="264.6" x2="269.5" y2="264.6" stroke="#000" stroke-width="0.5"/>
<line x1="268.5" y1="273.6" x2="269.5" y2="273.6" stroke="#000" stroke-width="0.5"/>
<line x1="268.5" y1="277.6" x2="269.5" y2="277.6" stroke="#000" stroke-width="0.5"/>
<line x1="268.5" y1="280.6" x2="269.5" y2="280.6" stroke="#000" stroke-width="0.5"/>
<line x1="268.5" y1="282.6" x2="269.5" y2="282.6" stroke="#000" stroke-width="0.5"/>
<line x1="268.5" y1="291.6" x2="269.5" y2="291.6" stroke="#000" stroke-width="0.5"/>
<line x1="268.5" y1="295.6" x2="269.5" y2="295.6" stroke="#000" stroke-width="0.5"/>
<line x1="268.5" y1="298.6" x2="269.5" y2="298.6" stroke="#000" stroke-width="0.5"/>
<line x1="268.5" y1="300.6" x2="269.5" y2="300.6" stroke="#000" stroke-width="0.5"/>
<line x1="278.5" y1="320.8" x2="278.5" y2="322.8" stroke="#000" stroke-width="0.7"/>
<text x="278.5" y="329.2" font-size="4.9" text-anchor="middle" fill="#222">0</text>
<line x1="285" y1="320.8" x2="285" y2="322.8" stroke="#000" stroke-width="0.7"/>
<text x="286.4" y="329.2" font-size="4.9" text-anchor="middle" fill="#222">10<tspan dy="-1.8" font-size="3.2">2</tspan></text>
<line x1="304" y1="320.8" x2="304" y2="322.8" stroke="#000" stroke-width="0.7"/>
<text x="305.4" y="329.2" font-size="4.9" text-anchor="middle" fill="#222">10<tspan dy="-1.8" font-size="3.2">3</tspan></text>
<line x1="322" y1="320.8" x2="322" y2="322.8" stroke="#000" stroke-width="0.7"/>
<text x="323.4" y="329.2" font-size="4.9" text-anchor="middle" fill="#222">10<tspan dy="-1.8" font-size="3.2">4</tspan></text>
<line x1="340" y1="320.8" x2="340" y2="322.8" stroke="#000" stroke-width="0.7"/>
<text x="341.4" y="329.2" font-size="4.9" text-anchor="middle" fill="#222">10<tspan dy="-1.8" font-size="3.2">5</tspan></text>
<line x1="290.5" y1="320.8" x2="290.5" y2="321.8" stroke="#000" stroke-width="0.5"/>
<line x1="294.5" y1="320.8" x2="294.5" y2="321.8" stroke="#000" stroke-width="0.5"/>
<line x1="297.5" y1="320.8" x2="297.5" y2="321.8" stroke="#000" stroke-width="0.5"/>
<line x1="299.5" y1="320.8" x2="299.5" y2="321.8" stroke="#000" stroke-width="0.5"/>
<line x1="308.5" y1="320.8" x2="308.5" y2="321.8" stroke="#000" stroke-width="0.5"/>
<line x1="312.5" y1="320.8" x2="312.5" y2="321.8" stroke="#000" stroke-width="0.5"/>
<line x1="315.5" y1="320.8" x2="315.5" y2="321.8" stroke="#000" stroke-width="0.5"/>
<line x1="317.5" y1="320.8" x2="317.5" y2="321.8" stroke="#000" stroke-width="0.5"/>
<line x1="326.5" y1="320.8" x2="326.5" y2="321.8" stroke="#000" stroke-width="0.5"/>
<line x1="330.5" y1="320.8" x2="330.5" y2="321.8" stroke="#000" stroke-width="0.5"/>
<line x1="333.5" y1="320.8" x2="333.5" y2="321.8" stroke="#000" stroke-width="0.5"/>
<line x1="335.5" y1="320.8" x2="335.5" y2="321.8" stroke="#000" stroke-width="0.5"/>
<line x1="272.5" y1="320.8" x2="272.5" y2="321.8" stroke="#000" stroke-width="0.5"/>
<line x1="274.5" y1="320.8" x2="274.5" y2="321.8" stroke="#000" stroke-width="0.5"/>
<line x1="281.5" y1="320.8" x2="281.5" y2="321.8" stroke="#000" stroke-width="0.5"/>
<text x="307.5" y="335" font-size="4.7" text-anchor="middle" fill="#222">&lt;APC-A&gt;: CD11c</text>
<text transform="translate(257.2,283.7) rotate(-90)" font-size="4.6" text-anchor="middle" fill="#222">&lt;AmCyan-A&gt;: AF</text>
<g filter="url(#sb)"><g transform="scale(.5)" stroke-linecap="square">
<path d="M611 499h0m36 2h0m-46 1h0m77 4h0m-60 3h0m36 1h0m-24 4h0m-20 1h0m23 0h0m-27 1h0m30 0h0m-35 2h0m52 1h0m-38 2h0m12 0h0m13 0h0m-15 1h0m12 0h0m-41 1h0m39 0h0m-37 1h0m7 0h0m24 0h0m14 0h0m13 0h0m-73 1h0m56 0h0m-47 1h0m17 0h0m10 0h0m10 0h0m19 0h0m7 0h0m-26 1h0m-41 1h0m22 0h0m31 0h0m-62 1h0m33 0h0m8 0h0m15 0h0m-48 1h0m27 0h0m23 0h0m-59 1h0m6 0h0m22 0h0m12 1h0m-28 1h0m20 0h0m30 0h0m14 0h0m-55 1h0m27 0h0m10 0h0m12 0h0m-76 1h0m23 0h0m8 0h0m36 0h0m-8 2h0m-58 1h0m5 0h0m61 2h0m-9 1h0m27 0h0m-8 1h0m-73 1h0m73 0h0m-78 1h0m-28 1h0m26 0h0m6 1h0m60 0h0m-67 1h0m84 0h0m2 0h0m-15 1h0m29 0h0m-96 1h0m-14 1h0m7 0h0m71 2h0m15 0h0m-109 1h0m102 0h0m2 0h0m7 0h0m-112 1h0m114 0h0m11 0h0m-116 1h0m-3 2h0m7 0h0m-3 3h0m92 3h0m-89 1h0m99 0h0m-8 4h0m-97 4h0m89 4h0m-94 1h0m90 0h0m9 1h0m-14 1h0m-87 1h0m105 0h0m-18 1h0m13 2h0m-5 1h0m-10 1h0m0 1h0m-5 5h0m6 0h0m-7 3h0m2 1h0m18 0h0m-28 3h0m13 0h0m7 0h0m-7 3h0m-5 4h0m-9 1h0m19 0h0m-11 1h0m-11 4h0m4 0h0m4 1h0m-5 1h0m4 1h0m-7 3h0m7 3h0m-5 2h0m-6 2h0m8 1h0m-16 3h0m-6 6h0m-49 4h0m44 0h0m-29 1h0m22 0h0m6 0h0" stroke="#7587c5" stroke-width="1.05" opacity="0.6"/>
<path d="M621 532h0m-35 1h0m-3 1h0m2 0h0m37 0h0m-14 1h0m14 0h0m2 0h0m-41 1h0m12 0h0m2 0h0m12 0h0m8 0h0m16 0h0m-31 1h0m2 0h0m2 0h0m2 0h0m13 0h0m-35 1h0m30 0h0m3 0h0m5 0h0m9 0h0m-51 1h0m16 0h0m8 0h0m10 0h0m16 0h0m1 0h0m5 0h0m-55 1h0m4 0h0m1 0h0m3 0h0m9 0h0m37 0h0m2 0h0m-53 1h0m4 0h0m1 0h0m1 0h0m1 0h0m31 0h0m-39 1h0m12 0h0m27 0h0m-24 1h0m35 0h0m4 0h0m-54 1h0m2 1h0m39 0h0m10 0h0m-57 1h0m1 0h0m1 0h0m47 0h0m5 2h0m-51 1h0m-7 1h0m1 0h0m54 0h0m-58 1h0m59 0h0m-65 2h0m9 0h0m-12 1h0m2 0h0m0 1h0m63 0h0m4 1h0m8 0h0m-10 1h0m3 0h0m3 1h0m1 0h0m3 0h0m1 0h0m-11 2h0m7 0h0m3 0h0m-13 1h0m2 0h0m9 0h0m-6 1h0m-1 1h0m2 0h0m5 0h0m-89 1h0m1 0h0m10 0h0m74 0h0m-87 1h0m88 0h0m-89 1h0m84 0h0m1 0h0m2 0h0m-77 1h0m-10 1h0m2 0h0m12 0h0m-15 1h0m3 0h0m2 0h0m1 1h0m2 0h0m5 0h0m68 2h0m-71 1h0m-5 2h0m4 0h0m71 0h0m-84 5h0m83 1h0m0 1h0m-8 2h0m3 0h0m-78 1h0m79 0h0m-77 1h0m80 1h0m-7 3h0m-2 2h0m-3 2h0m-69 1h0m70 0h0m-70 2h0m80 1h0m-81 1h0m67 0h0m10 0h0m6 0h0m-7 1h0m1 0h0m-10 1h0m12 0h0m2 0h0m-81 1h0m66 4h0m-3 1h0m-5 2h0m1 2h0m4 0h0m-2 1h0m-5 2h0m2 0h0m5 0h0m1 0h0m-10 1h0m6 0h0m1 0h0m-4 1h0m-57 1h0m59 0h0m3 0h0m-7 1h0m2 1h0m-2 1h0m-2 2h0m-1 1h0m-2 2h0m3 2h0m-2 1h0m-7 2h0m4 0h0m1 0h0m-7 1h0m7 0h0m3 0h0m-9 1h0m-2 2h0m-40 1h0m33 0h0m-29 1h0m30 0h0m2 0h0m-25 1h0m18 0h0m8 0h0m-27 1h0m8 0h0m3 0h0m1 0h0m4 0h0m-15 1h0m5 0h0m4 0h0m4 0h0m-1 1h0" stroke="#6579bf" stroke-width="1.05" opacity="0.6"/>
<path d="M610 537h0m1 0h0m-2 1h0m1 0h0m1 1h0m-5 1h0m4 0h0m-3 1h0m7 0h0m7 0h0m1 0h0m-16 1h0m14 0h0m-29 1h0m10 0h0m4 0h0m2 0h0m3 0h0m-19 1h0m4 0h0m4 0h0m7 0h0m14 0h0m-16 1h0m5 0h0m7 0h0m7 0h0m1 0h0m-37 1h0m4 0h0m3 0h0m4 0h0m1 0h0m2 0h0m1 0h0m-12 1h0m3 0h0m1 0h0m1 0h0m4 0h0m23 0h0m-34 1h0m3 0h0m3 0h0m1 0h0m3 0h0m11 0h0m16 0h0m-40 1h0m1 0h0m16 0h0m2 0h0m3 0h0m20 0h0m-45 1h0m10 0h0m7 0h0m4 0h0m22 0h0m-28 1h0m7 0h0m6 0h0m17 0h0m-43 1h0m40 0h0m-47 1h0m2 0h0m2 0h0m2 0h0m42 0h0m1 0h0m-50 1h0m4 0h0m-5 1h0m47 0h0m-46 2h0m49 0h0m1 0h0m-61 1h0m1 0h0m1 0h0m5 0h0m52 0h0m2 0h0m-61 1h0m3 0h0m6 0h0m48 0h0m3 0h0m1 0h0m-64 1h0m12 0h0m-1 1h0m1 0h0m49 0h0m1 0h0m-62 4h0m63 0h0m-64 2h0m1 0h0m64 1h0m0 1h0m-3 1h0m-60 1h0m60 0h0m-65 1h0m3 0h0m62 0h0m-62 1h0m-5 2h0m0 1h0m1 0h0m-7 1h0m69 0h0m1 1h0m-73 1h0m67 0h0m5 0h0m2 0h0m-8 1h0m4 0h0m4 0h0m-75 1h0m71 0h0m4 0h0m-80 1h0m82 0h0m-1 1h0m-79 1h0m70 0h0m1 4h0m-2 2h0m-68 1h0m1 1h0m64 1h0m2 0h0m-1 1h0m-2 1h0m-2 1h0m1 1h0m0 1h0m-66 1h0m58 3h0m6 0h0m-2 1h0m-4 1h0m2 1h0m-3 1h0m2 0h0m-3 1h0m4 0h0m-6 1h0m1 0h0m1 1h0m-2 2h0m-3 2h0m-50 1h0m49 1h0m-49 1h0m49 0h0m3 0h0m-3 1h0m4 1h0m-6 2h0m1 0h0m0 1h0m-1 2h0m-48 2h0m0 1h0m46 0h0m2 0h0m0 1h0m-7 2h0m-40 2h0m37 0h0m3 1h0m-38 2h0m1 0h0m3 0h0m1 0h0m4 0h0m3 0h0m20 0h0m-34 1h0m4 0h0m7 0h0m1 0h0m25 0h0m-20 1h0m9 0h0m-10 1h0m3 0h0m3 0h0m5 0h0" stroke="#556cb9" stroke-width="1.05" opacity="0.7"/>
<path d="M615 543h0m-2 1h0m-1 1h0m2 0h0m5 0h0m-7 1h0m1 0h0m8 0h0m-7 1h0m2 0h0m4 0h0m-7 1h0m2 0h0m1 0h0m5 1h0m-5 1h0m3 0h0m4 0h0m-31 1h0m3 0h0m9 0h0m12 0h0m4 0h0m-35 1h0m5 0h0m1 0h0m4 0h0m11 0h0m3 0h0m6 0h0m1 0h0m1 0h0m2 0h0m1 0h0m3 0h0m-25 1h0m4 0h0m3 0h0m3 0h0m8 0h0m1 0h0m2 0h0m-35 1h0m15 0h0m3 0h0m16 0h0m1 0h0m-35 1h0m1 0h0m30 0h0m5 0h0m1 1h0m-39 1h0m37 0h0m-42 1h0m1 0h0m-3 1h0m4 0h0m39 0h0m-54 1h0m2 0h0m-2 1h0m3 0h0m2 0h0m6 0h0m-11 1h0m1 0h0m2 0h0m55 0h0m-56 1h0m9 0h0m47 0h0m-57 1h0m1 0h0m1 0h0m2 0h0m2 0h0m3 0h0m-10 1h0m2 0h0m3 0h0m3 0h0m5 0h0m-12 1h0m59 0h0m1 1h0m-3 3h0m-61 2h0m60 0h0m-4 1h0m1 0h0m2 0h0m-58 1h0m53 0h0m2 0h0m1 0h0m2 0h0m1 0h0m-5 1h0m2 0h0m-60 1h0m1 0h0m55 0h0m-2 1h0m5 0h0m-60 1h0m54 0h0m1 0h0m-64 1h0m1 0h0m-1 1h0m4 0h0m-4 1h0m5 0h0m55 0h0m-1 1h0m1 0h0m5 0h0m-66 1h0m60 0h0m-62 1h0m66 0h0m1 0h0m1 0h0m-68 1h0m64 0h0m3 0h0m-68 1h0m2 0h0m66 0h0m-66 1h0m63 0h0m3 0h0m-65 1h0m64 0h0m2 0h0m-68 1h0m64 0h0m3 0h0m-67 2h0m1 1h0m-1 1h0m61 2h0m-63 2h0m56 0h0m3 0h0m3 0h0m-62 1h0m58 0h0m1 0h0m-59 1h0m56 0h0m6 0h0m-9 1h0m5 0h0m1 0h0m2 0h0m-4 1h0m1 0h0m1 0h0m2 0h0m-61 1h0m-1 1h0m54 0h0m-54 1h0m-1 1h0m1 0h0m53 1h0m-52 1h0m51 0h0m-52 1h0m1 0h0m-1 2h0m1 0h0m48 1h0m-49 1h0m49 0h0m-49 1h0m48 1h0m-2 1h0m-43 1h0m44 1h0m-1 1h0m1 0h0m-44 1h0m43 0h0m1 0h0m-46 1h0m0 2h0m45 0h0m-1 1h0m-2 1h0m2 0h0m-46 1h0m2 0h0m-1 1h0m40 1h0m-38 3h0m5 0h0m-5 1h0m3 0h0m-4 1h0m2 0h0m2 0h0m4 0h0m26 0h0m1 0h0m-35 1h0m28 0h0m5 0h0m-15 1h0m7 0h0m1 0h0m-7 1h0" stroke="#4f70b7" stroke-width="1.24" opacity="0.7"/>
<path d="M591 553h0m-6 1h0m2 0h0m1 0h0m3 0h0m2 0h0m13 0h0m2 0h0m1 0h0m2 0h0m-26 1h0m3 0h0m3 0h0m5 0h0m8 0h0m1 0h0m1 0h0m4 0h0m-27 1h0m15 0h0m1 0h0m1 0h0m2 0h0m11 0h0m-15 1h0m1 0h0m14 0h0m1 0h0m2 0h0m-34 1h0m17 0h0m5 0h0m13 0h0m-37 1h0m18 0h0m4 0h0m2 0h0m14 1h0m-38 1h0m35 0h0m1 0h0m3 0h0m-42 1h0m1 0h0m41 0h0m-5 1h0m3 0h0m1 0h0m1 0h0m2 0h0m-44 1h0m38 0h0m2 1h0m-46 1h0m5 0h0m37 0h0m3 0h0m2 0h0m1 0h0m2 0h0m1 0h0m-8 1h0m2 0h0m4 0h0m1 0h0m1 0h0m1 0h0m-55 1h0m47 0h0m2 0h0m1 0h0m1 0h0m2 0h0m-8 1h0m5 0h0m5 0h0m-57 1h0m49 0h0m-49 1h0m47 0h0m1 0h0m-50 1h0m48 0h0m4 0h0m-5 1h0m1 0h0m3 1h0m-54 2h0m51 0h0m-55 2h0m1 0h0m1 0h0m0 1h0m2 0h0m42 0h0m2 0h0m-50 1h0m48 0h0m3 0h0m1 0h0m-60 2h0m1 0h0m1 0h0m2 0h0m2 0h0m1 0h0m-7 1h0m2 0h0m-4 1h0m1 0h0m1 0h0m4 0h0m2 0h0m-7 1h0m2 0h0m4 0h0m56 1h0m-59 1h0m1 0h0m56 0h0m0 1h0m1 0h0m-58 1h0m58 0h0m2 0h0m-60 1h0m57 0h0m2 0h0m-2 1h0m1 0h0m1 0h0m-8 2h0m3 0h0m1 0h0m2 0h0m-60 1h0m55 0h0m1 0h0m2 0h0m-8 1h0m4 0h0m-53 1h0m48 0h0m1 0h0m7 0h0m-6 2h0m-1 1h0m-2 2h0m-50 1h0m1 0h0m49 0h0m-51 1h0m50 0h0m1 0h0m-50 1h0m50 0h0m-1 1h0m-1 1h0m-48 1h0m47 2h0m-1 2h0m1 0h0m-47 3h0m42 0h0m1 0h0m-2 1h0m1 1h0m-1 1h0m-40 1h0m0 1h0m-1 2h0m42 1h0m-41 1h0m39 1h0m-3 1h0m-33 2h0m-4 1h0m1 0h0m1 0h0m2 0h0m32 0h0m-36 1h0m36 0h0m-21 2h0m-4 1h0m3 0h0m15 0h0m1 0h0m-19 1h0" stroke="#4a74b6" stroke-width="1.24" opacity="0.7"/>
<path d="M606 555h0m2 0h0m-23 1h0m1 0h0m1 0h0m1 0h0m8 0h0m9 0h0m1 0h0m1 0h0m2 0h0m-23 1h0m6 0h0m2 0h0m14 0h0m4 0h0m2 0h0m-27 1h0m1 0h0m4 0h0m1 0h0m1 0h0m12 0h0m1 0h0m4 0h0m2 0h0m-28 1h0m1 0h0m3 0h0m1 0h0m1 0h0m2 0h0m2 0h0m10 0h0m3 0h0m1 0h0m1 0h0m2 0h0m1 0h0m1 0h0m1 0h0m-32 1h0m16 0h0m4 0h0m1 0h0m2 0h0m7 0h0m-30 1h0m12 0h0m4 0h0m1 0h0m3 0h0m8 0h0m2 0h0m-2 1h0m1 0h0m1 1h0m-4 1h0m1 0h0m1 0h0m-1 2h0m1 0h0m-40 2h0m4 0h0m34 0h0m1 0h0m-42 1h0m6 0h0m1 0h0m35 0h0m-42 1h0m2 0h0m39 0h0m1 0h0m-44 2h0m0 1h0m43 0h0m1 0h0m-46 1h0m1 0h0m45 0h0m1 0h0m-5 1h0m1 0h0m1 0h0m1 0h0m-4 1h0m2 0h0m3 0h0m-6 1h0m3 0h0m3 0h0m-4 1h0m-3 1h0m4 0h0m-48 1h0m42 0h0m1 0h0m-46 2h0m0 1h0m-2 2h0m48 0h0m1 0h0m-52 1h0m1 0h0m49 0h0m1 0h0m0 1h0m1 0h0m2 0h0m-56 1h0m2 0h0m2 0h0m50 0h0m1 0h0m-52 1h0m51 0h0m-2 1h0m2 0h0m-54 1h0m46 0h0m3 0h0m5 0h0m-7 1h0m5 0h0m-7 1h0m1 0h0m2 0h0m2 0h0m1 0h0m2 0h0m-6 1h0m-1 1h0m2 0h0m2 0h0m-5 1h0m-48 2h0m48 0h0m-48 2h0m46 0h0m1 0h0m-47 1h0m46 1h0m-46 1h0m45 1h0m1 1h0m-48 2h0m45 1h0m-44 1h0m-2 1h0m1 0h0m1 0h0m41 0h0m2 0h0m-43 1h0m42 0h0m-43 1h0m41 0h0m-40 1h0m1 1h0m36 3h0m1 0h0m1 0h0m-36 1h0m-2 1h0m2 0h0m36 0h0m-39 1h0m38 0h0m1 0h0m-1 2h0m1 0h0m-38 1h0m-2 1h0m2 0h0m-3 1h0m1 0h0m0 1h0m3 0h0m-4 1h0m2 0h0m7 0h0m2 2h0m9 2h0m1 0h0m4 0h0m-3 1h0m1 0h0m-4 1h0m4 0h0m1 0h0m6 0h0" stroke="#4c7fae" stroke-width="1.24" opacity="1.0"/>
<path d="M583 560h0m1 0h0m2 0h0m2 0h0m1 0h0m3 0h0m16 0h0m2 0h0m-27 1h0m1 0h0m3 0h0m1 0h0m2 0h0m1 0h0m2 0h0m14 0h0m3 0h0m-28 1h0m9 0h0m1 0h0m1 0h0m1 0h0m2 0h0m2 0h0m1 0h0m4 0h0m1 0h0m2 0h0m3 0h0m2 0h0m-21 1h0m6 0h0m4 0h0m1 0h0m1 0h0m2 0h0m4 0h0m2 0h0m-2 1h0m1 0h0m-30 2h0m2 0h0m27 0h0m-28 1h0m29 0h0m-32 1h0m1 0h0m29 0h0m-34 1h0m32 1h0m2 0h0m-40 1h0m38 0h0m2 0h0m1 0h0m1 0h0m-2 1h0m-42 1h0m3 0h0m38 0h0m1 0h0m-42 1h0m42 0h0m-5 1h0m1 0h0m0 1h0m2 0h0m-2 1h0m1 0h0m1 0h0m-42 1h0m1 0h0m38 0h0m-42 2h0m39 0h0m1 0h0m1 0h0m0 1h0m-2 1h0m2 0h0m-4 1h0m2 0h0m-1 1h0m1 0h0m-45 1h0m44 0h0m2 0h0m1 0h0m-3 1h0m2 0h0m-46 1h0m46 0h0m2 0h0m-7 1h0m2 0h0m1 0h0m1 0h0m-5 1h0m1 0h0m1 0h0m1 0h0m1 0h0m2 0h0m1 0h0m-50 1h0m1 0h0m1 0h0m40 0h0m6 0h0m2 0h0m-51 1h0m3 0h0m40 0h0m4 0h0m3 0h0m-49 1h0m41 0h0m0 1h0m-44 1h0m44 0h0m1 0h0m0 1h0m-45 2h0m1 0h0m44 0h0m-46 1h0m1 0h0m44 0h0m1 0h0m-46 3h0m1 1h0m1 2h0m-2 3h0m39 0h0m2 0h0m2 0h0m-45 1h0m41 1h0m3 0h0m-5 2h0m-39 1h0m1 0h0m2 1h0m2 0h0m34 0h0m-37 1h0m2 0h0m30 0h0m3 0h0m-2 1h0m-31 1h0m2 0h0m26 0h0m3 0h0m-31 1h0m1 0h0m28 0h0m5 1h0m-34 2h0m-1 1h0m0 3h0m34 0h0m1 0h0m-35 1h0m2 1h0m31 0h0m-30 1h0m26 0h0m1 0h0m2 0h0m-23 2h0m1 0h0m19 0h0m2 0h0m-23 1h0m1 0h0m16 0h0m-17 1h0m1 0h0m17 0h0" stroke="#54949e" stroke-width="1.24" opacity="1.0"/>
<path d="M584 561h0m1 0h0m2 0h0m-4 1h0m2 1h0m1 0h0m10 0h0m2 0h0m2 0h0m2 0h0m1 0h0m-11 1h0m1 0h0m4 0h0m2 0h0m1 0h0m2 0h0m1 0h0m1 0h0m1 0h0m-23 1h0m7 0h0m1 0h0m4 0h0m1 0h0m2 0h0m1 0h0m6 0h0m2 0h0m-1 1h0m1 0h0m0 2h0m-32 1h0m29 0h0m-29 1h0m3 0h0m27 0h0m-32 1h0m3 0h0m28 0h0m-33 1h0m1 0h0m1 0h0m31 0h0m-33 1h0m1 0h0m1 0h0m33 0h0m-38 1h0m2 0h0m32 0h0m-36 2h0m2 0h0m33 0h0m1 0h0m-35 1h0m1 0h0m32 0h0m1 0h0m-33 1h0m30 0h0m-30 1h0m28 1h0m1 0h0m2 0h0m-37 1h0m35 0h0m2 0h0m-39 1h0m36 0h0m1 0h0m1 0h0m-40 1h0m39 0h0m1 1h0m-2 1h0m-40 1h0m2 0h0m37 0h0m3 1h0m-6 1h0m1 0h0m-37 1h0m36 0h0m-37 1h0m36 0h0m1 0h0m-36 1h0m34 0h0m-37 1h0m38 0h0m1 0h0m-1 1h0m-40 1h0m0 1h0m40 1h0m0 1h0m1 0h0m-2 2h0m0 2h0m0 1h0m2 0h0m-1 1h0m0 1h0m-43 1h0m1 1h0m39 0h0m1 0h0m1 0h0m-42 1h0m36 0h0m1 0h0m4 0h0m1 0h0m-43 2h0m36 0h0m1 0h0m-36 1h0m1 0h0m34 0h0m1 0h0m-36 1h0m1 0h0m1 0h0m31 0h0m1 0h0m1 0h0m-33 1h0m1 0h0m2 0h0m2 0h0m23 0h0m1 0h0m3 0h0m1 0h0m-33 1h0m1 0h0m5 0h0m21 0h0m2 0h0m3 0h0m1 0h0m-31 1h0m3 0h0m-3 1h0m1 0h0m2 0h0m-2 1h0m1 0h0m22 0h0m5 1h0m-30 2h0m1 0h0m28 0h0m3 1h0m1 0h0m-35 1h0m1 0h0m32 0h0m1 0h0m1 0h0m-36 1h0m34 0h0m1 1h0m-32 1h0m1 1h0m1 1h0m1 0h0m-1 1h0m2 0h0m-1 1h0m2 0h0m20 0h0m1 0h0m-22 1h0m22 0h0m-16 1h0m11 0h0m1 0h0m1 1h0" stroke="#5fa288" stroke-width="1.24" opacity="1.0"/>
<path d="M586 563h0m-3 1h0m2 0h0m1 0h0m-2 1h0m11 0h0m-13 1h0m1 0h0m5 0h0m1 0h0m1 0h0m1 0h0m6 0h0m2 0h0m1 0h0m1 0h0m1 0h0m2 0h0m-24 1h0m1 0h0m1 0h0m6 0h0m7 0h0m1 0h0m4 0h0m2 0h0m1 1h0m2 0h0m-26 1h0m1 0h0m23 0h0m1 0h0m1 0h0m-28 1h0m1 0h0m23 0h0m-27 1h0m4 0h0m24 0h0m-27 1h0m24 0h0m1 0h0m1 0h0m-30 1h0m3 0h0m25 0h0m1 0h0m1 0h0m-31 1h0m2 0h0m28 0h0m-27 1h0m25 0h0m2 0h0m-33 1h0m3 0h0m1 0h0m27 0h0m1 0h0m-30 1h0m28 0h0m1 0h0m-31 1h0m0 1h0m1 0h0m25 0h0m2 0h0m1 0h0m-33 1h0m1 0h0m30 0h0m-30 1h0m-3 1h0m33 0h0m-35 1h0m1 0h0m35 0h0m-37 1h0m-1 1h0m1 0h0m33 0h0m1 0h0m2 0h0m-2 1h0m-1 1h0m1 0h0m1 0h0m-36 1h0m32 0h0m1 0h0m-35 1h0m2 0h0m31 0h0m1 0h0m1 0h0m1 0h0m-3 1h0m-32 1h0m1 0h0m-3 1h0m1 0h0m33 0h0m-34 1h0m35 0h0m1 2h0m-41 1h0m1 0h0m1 0h0m37 0h0m-38 1h0m1 0h0m36 0h0m2 0h0m-39 1h0m1 0h0m37 0h0m-39 1h0m1 0h0m1 0h0m36 1h0m-37 1h0m1 0h0m37 0h0m-37 1h0m37 0h0m1 0h0m-39 1h0m38 0h0m-1 1h0m1 0h0m-39 1h0m37 0h0m2 0h0m-6 1h0m2 0h0m3 0h0m-5 1h0m1 0h0m-35 1h0m1 0h0m32 0h0m-34 1h0m8 0h0m-5 1h0m1 0h0m1 0h0m2 0h0m1 0h0m23 0h0m1 0h0m-29 1h0m3 0h0m4 0h0m21 0h0m2 0h0m-25 1h0m1 0h0m19 1h0m-1 1h0m-19 1h0m1 0h0m17 0h0m0 1h0m-20 1h0m3 0h0m19 0h0m-23 1h0m24 0h0m2 0h0m-29 1h0m5 0h0m1 0h0m25 0h0m-30 1h0m30 0h0m1 0h0m-32 1h0m32 0h0m-31 1h0m1 0h0m28 1h0m1 0h0m0 1h0m-2 1h0m2 0h0m1 0h0m-4 1h0m-20 1h0m-1 1h0m1 0h0m13 1h0m-7 1h0m7 0h0m-7 1h0m7 0h0" stroke="#6eab6c" stroke-width="1.24" opacity="1.0"/>
<path d="M584 565h0m9 0h0m1 0h0m-11 1h0m1 0h0m1 0h0m2 0h0m5 0h0m-8 1h0m2 0h0m1 0h0m4 0h0m1 0h0m2 0h0m1 0h0m4 0h0m1 0h0m1 0h0m-20 1h0m2 0h0m2 0h0m1 0h0m1 0h0m1 0h0m9 0h0m4 0h0m1 0h0m-21 1h0m2 0h0m2 0h0m2 0h0m1 0h0m7 0h0m3 0h0m1 0h0m1 0h0m1 0h0m1 0h0m-23 1h0m2 0h0m16 0h0m1 0h0m2 0h0m-24 1h0m2 0h0m21 0h0m-23 1h0m1 0h0m1 0h0m8 0h0m11 0h0m1 0h0m-23 1h0m1 0h0m2 0h0m5 0h0m2 0h0m1 0h0m1 0h0m10 0h0m-23 1h0m10 0h0m3 0h0m11 0h0m-25 1h0m1 0h0m1 0h0m10 0h0m1 0h0m1 0h0m1 0h0m1 0h0m7 0h0m2 0h0m1 0h0m-28 1h0m3 0h0m11 0h0m1 0h0m1 0h0m1 0h0m2 0h0m1 0h0m6 0h0m-26 1h0m2 0h0m13 0h0m9 0h0m-22 1h0m16 0h0m3 0h0m1 0h0m1 0h0m1 0h0m-28 1h0m2 0h0m1 0h0m1 0h0m1 0h0m18 0h0m1 0h0m4 0h0m-30 1h0m1 0h0m25 0h0m-25 1h0m1 0h0m1 0h0m23 0h0m2 0h0m-30 1h0m28 0h0m1 0h0m0 1h0m-34 2h0m33 0h0m-6 1h0m1 0h0m4 0h0m-33 1h0m29 0h0m4 0h0m-5 2h0m1 0h0m1 1h0m-1 1h0m1 0h0m-31 1h0m-4 1h0m1 0h0m1 0h0m-3 1h0m1 0h0m2 0h0m33 0h0m1 0h0m-36 1h0m35 0h0m1 0h0m1 0h0m-4 4h0m2 0h0m-34 2h0m33 0h0m0 1h0m1 0h0m-4 2h0m1 0h0m1 0h0m1 0h0m-2 1h0m1 0h0m1 0h0m-36 1h0m30 0h0m-31 1h0m3 0h0m26 0h0m1 0h0m2 0h0m-32 1h0m1 0h0m2 0h0m26 0h0m-27 1h0m3 0h0m2 0h0m20 0h0m-1 1h0m2 0h0m-21 1h0m17 0h0m2 0h0m-1 1h0m1 0h0m-18 2h0m1 0h0m0 1h0m0 1h0m14 0h0m-16 1h0m16 0h0m-16 1h0m17 0h0m-21 1h0m5 0h0m17 0h0m1 0h0m-24 1h0m1 0h0m2 0h0m24 0h0m-26 1h0m1 0h0m1 0h0m24 0h0m1 0h0m-28 1h0m0 1h0m2 0h0m0 1h0m-1 1h0m1 1h0m1 0h0m1 1h0m2 0h0m1 0h0m1 1h0m15 0h0m0 1h0m-7 1h0m1 0h0m-1 1h0" stroke="#7bb257" stroke-width="1.24" opacity="1.0"/>
<path d="M595 567h0m-11 1h0m8 0h0m3 0h0m-12 1h0m1 0h0m1 0h0m7 0h0m1 0h0m2 0h0m-13 1h0m1 0h0m1 0h0m3 0h0m2 0h0m1 0h0m-8 1h0m3 0h0m4 0h0m1 0h0m5 0h0m1 0h0m1 0h0m-18 1h0m2 0h0m1 0h0m1 0h0m5 0h0m1 0h0m1 0h0m7 0h0m-19 1h0m1 0h0m3 0h0m1 0h0m1 0h0m4 0h0m2 0h0m1 0h0m-14 1h0m1 0h0m1 0h0m1 0h0m1 0h0m1 0h0m8 0h0m7 0h0m-20 1h0m2 0h0m1 0h0m1 0h0m1 0h0m9 0h0m6 0h0m-21 1h0m1 0h0m3 0h0m1 0h0m1 0h0m9 0h0m1 0h0m2 0h0m1 0h0m-22 1h0m3 0h0m2 0h0m1 0h0m1 0h0m2 0h0m1 0h0m1 0h0m5 0h0m5 0h0m1 0h0m-21 1h0m1 0h0m3 0h0m1 0h0m2 0h0m3 0h0m1 0h0m3 0h0m1 0h0m-20 1h0m4 0h0m2 0h0m3 0h0m1 0h0m4 0h0m1 0h0m1 0h0m1 0h0m1 0h0m2 0h0m-16 1h0m8 0h0m1 0h0m1 0h0m1 0h0m1 0h0m2 0h0m2 0h0m-25 1h0m5 0h0m2 0h0m2 0h0m10 0h0m2 0h0m3 0h0m2 0h0m-27 1h0m1 0h0m2 0h0m1 0h0m1 0h0m21 0h0m1 0h0m1 0h0m-27 1h0m1 0h0m2 0h0m22 0h0m1 0h0m-30 1h0m24 0h0m1 0h0m1 0h0m1 0h0m3 0h0m-31 1h0m1 0h0m23 0h0m2 0h0m3 0h0m-3 1h0m-1 1h0m-27 1h0m1 0h0m25 0h0m2 0h0m-28 1h0m2 0h0m25 0h0m1 0h0m-27 1h0m1 0h0m24 0h0m1 0h0m1 0h0m-28 1h0m29 0h0m-27 1h0m26 0h0m1 0h0m-29 1h0m1 0h0m-3 1h0m1 0h0m29 0h0m-34 1h0m3 0h0m2 0h0m1 0h0m-4 1h0m33 0h0m-35 1h0m2 0h0m1 0h0m1 0h0m30 0h0m1 0h0m-35 1h0m4 0h0m-3 1h0m1 0h0m1 0h0m-1 1h0m1 0h0m-3 1h0m3 0h0m-2 1h0m31 0h0m1 0h0m-33 1h0m32 0h0m1 0h0m-33 1h0m1 0h0m1 0h0m29 0h0m-31 1h0m1 0h0m1 0h0m1 0h0m2 0h0m-5 1h0m1 0h0m1 0h0m1 0h0m1 0h0m2 0h0m21 0h0m1 0h0m-28 1h0m2 0h0m1 0h0m3 0h0m1 0h0m17 0h0m-18 1h0m18 0h0m1 0h0m1 0h0m-20 1h0m2 0h0m15 0h0m1 0h0m1 0h0m-19 1h0m1 0h0m15 0h0m1 0h0m-16 1h0m1 0h0m14 0h0m1 0h0m-2 1h0m1 0h0m-16 1h0m4 0h0m11 0h0m1 0h0m-13 1h0m1 0h0m11 0h0m1 0h0m-14 1h0m13 0h0m-9 1h0m-6 1h0m3 0h0m2 0h0m11 0h0m-14 1h0m12 0h0m-15 1h0m17 0h0m-17 1h0m19 0h0m1 0h0m-20 1h0m1 0h0m19 0h0m-22 1h0m23 0h0m2 0h0m-25 1h0m23 0h0m-22 1h0m24 0h0m-26 1h0m2 0h0m20 0h0m3 0h0m1 0h0m-3 1h0m-15 1h0m-1 1h0" stroke="#7fb455" stroke-width="1.24" opacity="1.0"/>
<path d="M591 569h0m2 0h0m1 0h0m-1 1h0m1 0h0m-2 1h0m2 0h0m1 0h0m-3 1h0m1 0h0m1 0h0m-3 1h0m1 0h0m1 0h0m1 0h0m1 0h0m-3 1h0m1 0h0m1 0h0m1 0h0m-3 1h0m1 0h0m1 0h0m-19 4h0m1 0h0m1 0h0m-3 1h0m1 0h0m1 0h0m2 0h0m2 0h0m-9 1h0m3 0h0m1 0h0m1 0h0m3 0h0m1 0h0m5 0h0m2 0h0m-17 1h0m1 0h0m13 0h0m1 0h0m1 0h0m1 0h0m1 0h0m-26 1h0m1 0h0m7 0h0m1 0h0m12 0h0m3 0h0m1 0h0m-26 1h0m6 0h0m3 0h0m12 0h0m-21 1h0m1 0h0m20 0h0m-1 1h0m1 1h0m1 0h0m-1 1h0m1 0h0m-1 1h0m1 1h0m-1 1h0m1 1h0m1 0h0m1 0h0m-27 1h0m26 0h0m-25 1h0m25 0h0m1 0h0m-27 1h0m25 0h0m1 0h0m1 0h0m-28 1h0m26 0h0m1 0h0m-27 1h0m26 0h0m-28 1h0m2 0h0m26 0h0m-28 1h0m1 0h0m8 0h0m20 0h0m1 0h0m-28 1h0m28 0h0m-32 1h0m1 0h0m30 0h0m-30 1h0m1 0h0m2 0h0m24 0h0m1 0h0m-27 1h0m2 0h0m21 0h0m2 0h0m2 0h0m1 0h0m-30 1h0m1 0h0m2 0h0m24 0h0m-25 1h0m2 0h0m19 0h0m1 0h0m1 0h0m1 0h0m2 0h0m-24 1h0m1 0h0m18 0h0m1 0h0m-18 1h0m13 0h0m4 0h0m-5 1h0m1 0h0m3 0h0m-3 1h0m1 0h0m-1 1h0m1 0h0m-14 1h0m2 0h0m8 0h0m2 0h0m-12 1h0m1 0h0m2 0h0m8 0h0m-10 1h0m2 0h0m1 0h0m2 1h0m4 0h0m1 0h0m1 0h0m-8 1h0m1 0h0m1 0h0m4 0h0m-4 2h0m6 0h0m-12 1h0m1 0h0m-1 1h0m-1 1h0m16 0h0m-18 1h0m2 0h0m1 0h0m15 0h0m-19 1h0m1 0h0m1 0h0m-1 1h0m1 0h0m-2 3h0m1 0h0m1 1h0m14 0h0m-9 1h0m1 0h0m8 0h0m2 0h0m-11 1h0m9 0h0m1 0h0m1 0h0" stroke="#84b653" stroke-width="1.24" opacity="1.0"/>
<path d="M573 581h0m5 0h0m2 0h0m1 0h0m-3 1h0m1 0h0m1 0h0m-7 1h0m5 0h0m3 0h0m-18 1h0m2 0h0m1 0h0m5 0h0m1 0h0m8 0h0m-20 1h0m3 0h0m2 0h0m2 0h0m1 0h0m3 0h0m1 0h0m1 0h0m6 0h0m-20 1h0m1 0h0m1 0h0m6 0h0m1 0h0m1 0h0m1 0h0m9 0h0m1 0h0m1 0h0m-20 1h0m9 0h0m10 0h0m-21 1h0m1 0h0m21 0h0m-21 1h0m20 0h0m-20 1h0m19 0h0m1 0h0m1 0h0m-20 1h0m20 0h0m1 0h0m-22 1h0m1 0h0m21 0h0m1 0h0m-24 1h0m1 0h0m21 0h0m1 0h0m-22 1h0m22 0h0m-22 1h0m1 0h0m1 0h0m2 0h0m15 0h0m2 0h0m-21 1h0m2 0h0m1 0h0m1 0h0m1 0h0m15 0h0m1 0h0m1 0h0m-25 1h0m1 0h0m1 0h0m1 0h0m1 0h0m1 0h0m1 0h0m2 0h0m1 0h0m12 0h0m1 0h0m2 0h0m2 0h0m-26 1h0m1 0h0m1 0h0m2 0h0m2 0h0m17 0h0m1 0h0m1 0h0m-24 1h0m1 0h0m1 0h0m1 0h0m3 0h0m14 0h0m2 0h0m1 0h0m1 0h0m-24 1h0m1 0h0m1 0h0m1 0h0m1 0h0m16 0h0m1 0h0m2 0h0m1 0h0m-25 1h0m1 0h0m1 0h0m6 0h0m2 0h0m1 0h0m7 0h0m1 0h0m1 0h0m1 0h0m2 0h0m1 0h0m1 0h0m-6 1h0m1 0h0m2 0h0m1 0h0m1 0h0m-23 1h0m14 0h0m6 0h0m2 0h0m-23 1h0m1 0h0m1 0h0m10 0h0m1 0h0m1 0h0m2 0h0m1 0h0m1 0h0m1 0h0m1 0h0m-19 1h0m10 0h0m1 0h0m2 0h0m1 0h0m2 0h0m1 0h0m-7 1h0m2 0h0m2 0h0m1 0h0m1 0h0m1 0h0m-7 1h0m2 0h0m1 0h0m2 0h0m1 0h0m-14 1h0m7 0h0m4 0h0m-11 1h0m1 0h0m1 0h0m1 0h0m5 0h0m-7 1h0m1 0h0m1 0h0m4 0h0m2 0h0m1 0h0m1 0h0m-9 1h0m5 0h0m2 0h0m-5 1h0m1 0h0m1 0h0m1 0h0m1 0h0m-5 1h0m2 0h0m1 0h0m2 0h0m0 1h0m1 0h0m-2 1h0m1 0h0m-2 1h0m1 0h0m1 0h0m-2 1h0m5 0h0m-8 1h0m7 0h0m-8 1h0m1 0h0m9 1h0m0 1h0m4 1h0m-1 1h0m1 0h0m1 0h0m-22 1h0m1 0h0m20 0h0m-20 1h0m1 0h0m1 0h0m15 0h0m1 0h0m1 0h0m-17 1h0m16 0h0m-11 1h0m1 0h0m1 0h0m5 0h0m3 0h0m1 0h0m-11 1h0m2 0h0m4 0h0m2 0h0m-7 1h0m1 0h0m4 0h0" stroke="#89b851" stroke-width="1.24" opacity="1.0"/>
<path d="M576 581h0m0 1h0m-2 1h0m2 0h0m3 0h0m-4 1h0m2 0h0m1 0h0m1 0h0m-17 1h0m2 0h0m9 0h0m1 0h0m4 0h0m-17 1h0m1 0h0m1 0h0m1 0h0m1 0h0m2 0h0m4 0h0m2 0h0m1 0h0m1 0h0m4 0h0m-12 1h0m2 0h0m2 0h0m1 0h0m1 0h0m1 0h0m1 0h0m2 0h0m1 0h0m-11 1h0m1 0h0m1 0h0m6 0h0m2 0h0m1 0h0m-17 1h0m7 0h0m1 0h0m1 0h0m1 0h0m1 0h0m1 0h0m3 0h0m2 0h0m-17 1h0m1 0h0m17 0h0m-17 1h0m1 0h0m14 0h0m1 0h0m1 0h0m1 0h0m-19 1h0m16 0h0m1 0h0m2 0h0m-19 1h0m2 0h0m2 0h0m12 0h0m1 0h0m2 0h0m-18 1h0m3 0h0m14 0h0m1 0h0m1 0h0m-19 1h0m2 0h0m13 0h0m1 0h0m2 0h0m1 0h0m-16 1h0m1 0h0m11 0h0m-11 1h0m1 1h0m1 0h0m8 0h0m-9 1h0m1 0h0m6 0h0m-4 1h0m1 0h0m3 0h0m1 0h0m-9 1h0m1 0h0m1 0h0m1 0h0m1 0h0m1 0h0m2 0h0m1 0h0m1 0h0m1 0h0m1 0h0m-17 1h0m1 0h0m2 0h0m1 0h0m1 0h0m2 0h0m1 0h0m2 0h0m2 0h0m1 0h0m1 0h0m1 0h0m-16 1h0m1 0h0m1 0h0m3 0h0m1 0h0m1 0h0m1 0h0m1 0h0m2 0h0m2 0h0m1 0h0m2 0h0m-16 1h0m1 0h0m-1 1h0m1 0h0m7 0h0m-7 1h0m1 0h0m0 1h0m1 1h0m3 0h0m1 0h0m-4 1h0m1 0h0m1 0h0m1 0h0m2 0h0m-3 1h0m1 0h0m1 0h0m0 1h0m-6 8h0m0 1h0m0 1h0m1 0h0m-3 1h0m1 0h0m15 0h0m1 0h0m-17 1h0m1 0h0m14 0h0m1 0h0m-17 1h0m1 0h0m1 1h0m0 1h0m0 1h0m2 0h0m4 0h0m3 0h0m-3 1h0m2 0h0m1 0h0m0 1h0" stroke="#95ba4d" stroke-width="1.24" opacity="1.0"/>
<path d="M576 583h0m1 1h0m-2 1h0m1 0h0m-1 1h0m1 0h0m1 0h0m-12 1h0m10 0h0m1 0h0m-15 1h0m1 0h0m1 0h0m2 0h0m8 0h0m-12 1h0m1 0h0m1 0h0m1 0h0m1 0h0m3 0h0m1 0h0m3 0h0m3 0h0m1 0h0m-10 1h0m1 0h0m2 0h0m2 0h0m1 0h0m2 0h0m3 0h0m-14 1h0m1 0h0m1 0h0m2 0h0m3 0h0m1 0h0m3 0h0m2 0h0m-9 1h0m9 0h0m1 0h0m-11 1h0m1 0h0m9 0h0m-11 2h0m1 0h0m3 0h0m8 0h0m-9 1h0m1 0h0m6 0h0m1 0h0m-9 1h0m1 0h0m1 0h0m4 0h0m2 0h0m2 0h0m-8 1h0m1 0h0m3 0h0m1 1h0m-2 1h0m1 0h0m-10 1h0m9 0h0m1 0h0m-12 1h0m1 0h0m-1 1h0m1 0h0m-1 1h0m1 0h0m1 0h0m3 0h0m-1 1h0m1 0h0m1 0h0m-5 1h0m1 0h0m2 0h0m1 0h0m1 0h0m-6 1h0m2 0h0m1 0h0m1 0h0m-2 1h0m1 0h0m1 0h0m-1 1h0m1 8h0m0 1h0m1 0h0m1 0h0m1 0h0m1 0h0m-6 1h0m2 0h0m2 0h0m1 0h0m2 0h0m1 2h0m2 3h0m1 0h0m0 1h0m-2 1h0m1 0h0m-2 1h0m2 0h0" stroke="#a7bd48" stroke-width="1.24" opacity="1.0"/>
<path d="M574 591h0m-7 1h0m1 0h0m5 0h0m1 0h0m1 0h0m-8 1h0m1 0h0m5 0h0m1 0h0m1 0h0m-7 1h0m1 0h0m-2 1h0m1 0h0m1 0h0m4 1h0m1 0h0m-2 1h0m1 0h0m1 0h0m1 0h0m-3 1h0m1 0h0m-9 6h0m-1 1h0m1 0h0m-1 1h0m1 0h0m1 0h0m-1 1h0m-2 12h0m1 0h0m-1 1h0m1 0h0m-4 1h0m3 0h0m1 0h0m9 0h0m-12 1h0m13 0h0m-14 1h0m1 0h0m1 0h0m10 0h0m-12 1h0m1 0h0m1 0h0m-2 1h0m1 0h0m3 0h0m-2 1h0m1 0h0m0 1h0" stroke="#bac043" stroke-width="1.24" opacity="1.0"/>
<path d="M569 591h0m1 0h0m2 0h0m-2 1h0m1 0h0m1 0h0m1 0h0m-3 1h0m5 0h0m-1 1h0m1 0h0m-5 1h0m1 0h0m2 0h0m1 0h0m-3 1h0m1 0h0m1 0h0m-3 1h0m1 0h0m1 0h0m-8 22h0m1 0h0m3 0h0m1 0h0m-6 1h0m1 0h0m1 0h0m2 0h0m1 0h0m-1 1h0m1 0h0m1 0h0m0 1h0m0 1h0m1 0h0m1 0h0m1 0h0m-1 1h0m2 0h0m-9 1h0m5 0h0m1 0h0m1 0h0m1 0h0m1 0h0m-9 1h0m1 0h0m1 0h0m1 0h0m2 0h0m2 0h0m-8 1h0m1 0h0m1 0h0m3 0h0m1 0h0m1 0h0m1 0h0" stroke="#cdc33e" stroke-width="1.24" opacity="1.0"/>
<path d="M570 593h0m2 0h0m1 0h0m-4 1h0m1 0h0m1 0h0m1 0h0m-3 1h0m1 0h0m1 0h0m2 0h0m-7 24h0m-1 1h0m1 0h0m1 0h0m-6 1h0m2 0h0m3 0h0m-5 1h0m1 0h0m-1 1h0m1 0h0m-1 1h0m2 0h0m6 0h0m1 0h0m-1 1h0m1 0h0m1 0h0" stroke="#d2ba3a" stroke-width="1.24" opacity="1.0"/>
<path d="M563 621h0m5 0h0m-5 1h0m1 0h0m3 0h0m1 0h0m1 0h0m-6 1h0m1 0h0m3 0h0m1 0h0m1 0h0m-6 1h0m4 0h0m1 0h0m1 0h0m-6 1h0m1 0h0m1 0h0m3 0h0" stroke="#d7b136" stroke-width="1.24" opacity="1.0"/>
<path d="M566 621h0m-1 1h0m1 0h0m1 0h0m-2 1h0m1 0h0m0 1h0m1 0h0m-2 1h0" stroke="#dca932" stroke-width="1.24" opacity="1.0"/>
</g></g>
<line x1="299" y1="308.8" x2="344.9" y2="308.8" stroke="#999" stroke-width="0.7"/>
<text x="275.4" y="255.6" font-size="4.8" fill="#9466a6">78.8</text>
<text x="1.8" y="365.2" font-size="12" font-weight="bold">D</text>
<text x="182.2" y="354.8" font-size="9.3" font-weight="bold">Gated on AF+</text>
<line x1="73.9" y1="360" x2="348.4" y2="360" stroke="#000" stroke-width="2"/>
<text transform="translate(7.4,422) rotate(-90)" font-size="7.4" font-weight="bold">CD11b</text>
<path d="M5.1,429 V450.2 H22" stroke="#000" stroke-width="1.8" fill="none"/>
<path d="M1.3,432.6 L5.1,426.6 L8.9,432.6 L5.1,430.8 Z" stroke="#000" stroke-width="0" fill="#000"/>
<path d="M19.3,446.4 L25.3,450.2 L19.3,454 L21.1,450.2 Z" stroke="#000" stroke-width="0" fill="#000"/>
<text x="27" y="452.3" font-size="7.6" fill="#222">CD11c</text>
<rect x="72.8" y="368.9" width="76.2" height="75.7" fill="none" stroke="#888" stroke-width="0.6"/>
<line x1="72.8" y1="368.9" x2="72.8" y2="445.1" stroke="#000" stroke-width="0.9"/>
<line x1="72.3" y1="444.6" x2="149" y2="444.6" stroke="#000" stroke-width="0.9"/>
<line x1="70.8" y1="374.4" x2="72.8" y2="374.4" stroke="#000" stroke-width="0.7"/>
<text x="69.2" y="376.3" font-size="4.9" text-anchor="end" fill="#222">10<tspan dy="-1.8" font-size="3.2">5</tspan></text>
<line x1="70.8" y1="391.3" x2="72.8" y2="391.3" stroke="#000" stroke-width="0.7"/>
<text x="69.2" y="393.2" font-size="4.9" text-anchor="end" fill="#222">10<tspan dy="-1.8" font-size="3.2">4</tspan></text>
<line x1="70.8" y1="408.9" x2="72.8" y2="408.9" stroke="#000" stroke-width="0.7"/>
<text x="69.2" y="410.8" font-size="4.9" text-anchor="end" fill="#222">10<tspan dy="-1.8" font-size="3.2">3</tspan></text>
<line x1="70.8" y1="427.3" x2="72.8" y2="427.3" stroke="#000" stroke-width="0.7"/>
<text x="69.2" y="429.2" font-size="4.9" text-anchor="end" fill="#222">10<tspan dy="-1.8" font-size="3.2">2</tspan></text>
<line x1="70.8" y1="435.7" x2="72.8" y2="435.7" stroke="#000" stroke-width="0.7"/>
<text x="69.8" y="437.6" font-size="4.9" text-anchor="end" fill="#222">0</text>
<line x1="71.8" y1="378.9" x2="72.8" y2="378.9" stroke="#000" stroke-width="0.5"/>
<line x1="71.8" y1="382.9" x2="72.8" y2="382.9" stroke="#000" stroke-width="0.5"/>
<line x1="71.8" y1="385.9" x2="72.8" y2="385.9" stroke="#000" stroke-width="0.5"/>
<line x1="71.8" y1="387.9" x2="72.8" y2="387.9" stroke="#000" stroke-width="0.5"/>
<line x1="71.8" y1="396.9" x2="72.8" y2="396.9" stroke="#000" stroke-width="0.5"/>
<line x1="71.8" y1="400.9" x2="72.8" y2="400.9" stroke="#000" stroke-width="0.5"/>
<line x1="71.8" y1="403.9" x2="72.8" y2="403.9" stroke="#000" stroke-width="0.5"/>
<line x1="71.8" y1="405.9" x2="72.8" y2="405.9" stroke="#000" stroke-width="0.5"/>
<line x1="71.8" y1="414.9" x2="72.8" y2="414.9" stroke="#000" stroke-width="0.5"/>
<line x1="71.8" y1="418.9" x2="72.8" y2="418.9" stroke="#000" stroke-width="0.5"/>
<line x1="71.8" y1="421.9" x2="72.8" y2="421.9" stroke="#000" stroke-width="0.5"/>
<line x1="71.8" y1="423.9" x2="72.8" y2="423.9" stroke="#000" stroke-width="0.5"/>
<line x1="81.8" y1="444.6" x2="81.8" y2="446.6" stroke="#000" stroke-width="0.7"/>
<text x="81.8" y="453" font-size="4.9" text-anchor="middle" fill="#222">0</text>
<line x1="88.3" y1="444.6" x2="88.3" y2="446.6" stroke="#000" stroke-width="0.7"/>
<text x="89.7" y="453" font-size="4.9" text-anchor="middle" fill="#222">10<tspan dy="-1.8" font-size="3.2">2</tspan></text>
<line x1="107.3" y1="444.6" x2="107.3" y2="446.6" stroke="#000" stroke-width="0.7"/>
<text x="108.7" y="453" font-size="4.9" text-anchor="middle" fill="#222">10<tspan dy="-1.8" font-size="3.2">3</tspan></text>
<line x1="125.3" y1="444.6" x2="125.3" y2="446.6" stroke="#000" stroke-width="0.7"/>
<text x="126.7" y="453" font-size="4.9" text-anchor="middle" fill="#222">10<tspan dy="-1.8" font-size="3.2">4</tspan></text>
<line x1="143.3" y1="444.6" x2="143.3" y2="446.6" stroke="#000" stroke-width="0.7"/>
<text x="144.7" y="453" font-size="4.9" text-anchor="middle" fill="#222">10<tspan dy="-1.8" font-size="3.2">5</tspan></text>
<line x1="93.8" y1="444.6" x2="93.8" y2="445.6" stroke="#000" stroke-width="0.5"/>
<line x1="97.8" y1="444.6" x2="97.8" y2="445.6" stroke="#000" stroke-width="0.5"/>
<line x1="100.8" y1="444.6" x2="100.8" y2="445.6" stroke="#000" stroke-width="0.5"/>
<line x1="102.8" y1="444.6" x2="102.8" y2="445.6" stroke="#000" stroke-width="0.5"/>
<line x1="111.8" y1="444.6" x2="111.8" y2="445.6" stroke="#000" stroke-width="0.5"/>
<line x1="115.8" y1="444.6" x2="115.8" y2="445.6" stroke="#000" stroke-width="0.5"/>
<line x1="118.8" y1="444.6" x2="118.8" y2="445.6" stroke="#000" stroke-width="0.5"/>
<line x1="120.8" y1="444.6" x2="120.8" y2="445.6" stroke="#000" stroke-width="0.5"/>
<line x1="129.8" y1="444.6" x2="129.8" y2="445.6" stroke="#000" stroke-width="0.5"/>
<line x1="133.8" y1="444.6" x2="133.8" y2="445.6" stroke="#000" stroke-width="0.5"/>
<line x1="136.8" y1="444.6" x2="136.8" y2="445.6" stroke="#000" stroke-width="0.5"/>
<line x1="138.8" y1="444.6" x2="138.8" y2="445.6" stroke="#000" stroke-width="0.5"/>
<line x1="75.8" y1="444.6" x2="75.8" y2="445.6" stroke="#000" stroke-width="0.5"/>
<line x1="77.8" y1="444.6" x2="77.8" y2="445.6" stroke="#000" stroke-width="0.5"/>
<line x1="84.8" y1="444.6" x2="84.8" y2="445.6" stroke="#000" stroke-width="0.5"/>
<text x="110.8" y="458.8" font-size="4.7" text-anchor="middle" fill="#222">&lt;APC-A&gt;: CD11c</text>
<text transform="translate(60.5,407.2) rotate(-90)" font-size="4.6" text-anchor="middle" fill="#222">&lt;PE-Cy7-A&gt;: CD11b</text>
<g filter="url(#sb)"><g transform="scale(.5)" stroke-linecap="square">
<path d="M272 739h0m-36 2h0m14 0h0m28 0h0m-81 1h0m-41 2h0m6 0h0m8 0h0m85 0h0m7 0h0m-34 1h0m-37 1h0m61 0h0m11 0h0m15 0h0m-101 1h0m16 0h0m14 0h0m1 0h0m31 0h0m38 0h0m-88 1h0m44 0h0m-23 1h0m28 0h0m32 0h0m-116 1h0m30 0h0m15 0h0m41 0h0m10 0h0m1 0h0m-90 1h0m8 0h0m38 0h0m27 0h0m6 0h0m5 0h0m7 0h0m22 0h0m2 0h0m-98 1h0m3 0h0m44 0h0m60 0h0m-26 1h0m10 0h0m-55 1h0m11 0h0m14 0h0m35 0h0m8 0h0m-126 1h0m98 0h0m37 1h0m-133 1h0m15 0h0m70 0h0m33 0h0m-111 1h0m49 0h0m4 0h0m22 0h0m2 0h0m-14 1h0m22 0h0m25 0h0m2 0h0m-123 2h0m77 0h0m49 0h0m-117 1h0m4 0h0m51 0h0m11 0h0m46 0h0m-108 2h0m50 0h0m18 0h0m-12 1h0m-5 1h0m-7 1h0m17 0h0m-1 1h0m5 0h0m-75 1h0m3 0h0m2 0h0m47 0h0m13 1h0m59 0h0m-122 1h0m75 0h0m48 0h0m8 0h0m-79 1h0m-52 1h0m47 0h0m26 0h0m52 0h0m-53 2h0m-13 1h0m5 0h0m-18 1h0m-8 1h0m18 0h0m71 0h0m-94 1h0m14 0h0m18 0h0m59 0h0m-82 1h0m83 0h0m-127 1h0m43 0h0m-42 1h0m12 0h0m16 0h0m2 0h0m34 0h0m-67 1h0m19 0h0m37 0h0m-40 1h0m28 0h0m90 0h0m6 0h0m-115 1h0m22 0h0m-31 1h0m20 0h0m5 0h0m92 0h0m2 0h0m-128 1h0m16 0h0m8 0h0m21 0h0m3 0h0m-54 1h0m54 0h0m-25 1h0m8 0h0m5 0h0m95 0h0m-106 1h0m9 0h0m89 0h0m-106 1h0m110 0h0m-125 1h0m18 0h0m8 0h0m20 0h0m2 0h0m-23 1h0m-14 1h0m6 2h0m34 0h0m2 0h0m-56 1h0m10 0h0m25 0h0m9 0h0m81 0h0m-123 1h0m29 0h0m-11 1h0m17 0h0m7 0h0m10 0h0m-56 1h0m16 0h0m111 0h0m-91 1h0m17 0h0m67 0h0m-125 1h0m52 0h0m-20 1h0m29 1h0m79 0h0m-99 1h0m11 0h0m0 1h0m-39 1h0m124 0h0m2 0h0m-130 1h0m28 0h0m7 1h0m13 0h0m-47 1h0m6 1h0m4 0h0m14 0h0m25 0h0m-45 1h0m119 0h0m-129 1h0m10 0h0m11 0h0m27 2h0m-48 1h0m21 0h0m117 0h0m-113 1h0m26 0h0m2 0h0m-37 1h0m25 0h0m-10 1h0m-20 1h0m119 0h0m-129 1h0m7 0h0m24 0h0m0 1h0m9 0h0m-40 1h0m7 0h0m32 0h0m2 0h0m5 0h0m-43 2h0m1 0h0m13 0h0m110 0h0m-132 1h0m15 0h0m6 0h0m112 1h0m-126 1h0m125 0h0m-115 1h0m20 1h0m7 0h0m2 0h0m8 0h0m80 0h0m-132 1h0m39 0h0m87 0h0m-101 1h0m13 0h0m3 0h0m-9 1h0m-3 1h0m14 0h0m9 0h0m-5 1h0m-49 1h0m1 0h0m123 0h0m-88 1h0m19 0h0m76 1h0m-89 1h0m6 0h0m8 0h0m-59 1h0m38 0h0m21 1h0m-15 1h0m81 0h0m7 0h0m-86 1h0m8 0h0m10 0h0m58 0h0m3 0h0m-13 1h0m20 0h0m-87 1h0m0 1h0m71 0h0m1 0h0m-117 1h0m40 0h0m10 0h0m12 0h0m60 0h0m4 0h0m-66 1h0m57 0h0m-54 1h0m75 0h0m-7 1h0m-134 1h0m120 0h0m-53 1h0m82 0h0m-107 1h0m18 0h0m71 0h0m3 0h0m3 0h0m-68 1h0m60 0h0m-77 1h0m8 0h0m-3 1h0m65 0h0m16 0h0m-71 1h0m-24 1h0m7 0h0m7 0h0m4 0h0m64 0h0m-85 1h0m9 0h0m-4 1h0m18 0h0m3 0h0m68 0h0m-132 1h0m115 0h0m15 0h0m-96 1h0m2 0h0m72 0h0m9 0h0m-119 1h0m1 0h0m42 0h0m8 0h0m16 0h0m-22 1h0m9 0h0m69 0h0m12 0h0m-85 2h0m62 1h0m12 0h0m1 0h0m2 0h0m-127 1h0m54 0h0m79 0h0m-67 1h0m49 0h0m-61 1h0m21 0h0m35 0h0m4 0h0m-76 1h0m21 0h0m9 0h0m3 0h0m45 0h0m13 0h0m7 0h0m-131 1h0m36 0h0m9 0h0m-3 1h0m17 0h0m-10 1h0m10 0h0m28 0h0m15 0h0m2 0h0m4 0h0m5 0h0m6 0h0m-112 1h0m36 0h0m55 0h0m26 0h0m-118 1h0m5 0h0m44 0h0m5 0h0m46 0h0m4 0h0m4 0h0m3 0h0m-120 1h0m69 0h0m65 0h0m-133 1h0m16 0h0m51 0h0m14 0h0m28 0h0m-104 1h0m46 0h0m9 0h0m34 0h0m-71 1h0m10 0h0m38 0h0m4 0h0m10 0h0m9 0h0m-67 1h0m6 0h0m38 0h0m-42 1h0m12 0h0m19 0h0m6 0h0m23 0h0m9 0h0m-50 1h0m15 0h0m37 0h0m-20 1h0m-74 1h0m22 0h0m32 0h0m49 0h0m-104 1h0m10 0h0m34 1h0m43 0h0m16 0h0m6 0h0" stroke="#7587c5" stroke-width="1.05" opacity="0.6"/>
<path d="M262 747h0m1 0h0m-71 1h0m69 0h0m1 0h0m-68 1h0m4 1h0m3 0h0m-6 1h0m-32 1h0m2 0h0m2 0h0m23 0h0m73 0h0m1 0h0m-101 1h0m24 0h0m11 0h0m3 0h0m63 0h0m-77 1h0m78 0h0m-99 1h0m1 0h0m94 0h0m5 0h0m-91 1h0m27 0h0m55 0h0m12 0h0m-90 1h0m75 0h0m-85 1h0m4 0h0m3 0h0m32 0h0m50 0h0m9 0h0m4 0h0m-62 1h0m50 0h0m3 0h0m-93 1h0m43 0h0m51 0h0m1 0h0m5 0h0m-26 1h0m27 0h0m-61 1h0m4 0h0m34 0h0m5 0h0m1 0h0m3 0h0m1 0h0m10 0h0m6 0h0m-102 1h0m44 0h0m41 0h0m-19 1h0m2 0h0m32 0h0m-58 1h0m24 0h0m6 0h0m3 0h0m4 0h0m16 0h0m-59 1h0m34 0h0m1 0h0m2 0h0m2 0h0m5 0h0m15 0h0m6 0h0m-68 1h0m-38 1h0m60 0h0m43 0h0m5 0h0m-69 1h0m31 0h0m4 0h0m8 0h0m-10 1h0m5 0h0m28 0h0m4 0h0m3 0h0m-118 1h0m65 0h0m45 0h0m2 0h0m2 0h0m-76 1h0m4 0h0m21 0h0m4 0h0m20 0h0m25 0h0m-47 1h0m51 0h0m4 0h0m-120 1h0m4 0h0m36 0h0m1 0h0m9 0h0m12 0h0m54 0h0m-76 1h0m12 0h0m1 0h0m25 0h0m1 0h0m35 0h0m-110 1h0m7 0h0m17 0h0m20 0h0m31 0h0m31 0h0m6 0h0m-90 1h0m2 0h0m23 0h0m4 0h0m12 0h0m49 0h0m2 0h0m-118 1h0m6 0h0m12 0h0m1 0h0m50 0h0m8 0h0m37 0h0m-112 1h0m1 0h0m2 0h0m11 0h0m2 0h0m95 0h0m2 0h0m-112 1h0m0 1h0m49 0h0m17 0h0m3 0h0m44 0h0m3 0h0m-45 1h0m49 0h0m-70 1h0m19 0h0m5 0h0m36 0h0m8 0h0m2 0h0m-119 1h0m50 0h0m1 0h0m16 0h0m2 0h0m-13 1h0m54 0h0m1 0h0m5 0h0m-55 1h0m2 0h0m50 0h0m5 0h0m-118 1h0m3 0h0m49 0h0m2 0h0m9 0h0m47 0h0m-109 1h0m52 0h0m6 0h0m7 0h0m4 0h0m-11 1h0m53 0h0m-112 1h0m54 0h0m57 0h0m-53 1h0m3 0h0m49 0h0m5 0h0m-58 2h0m3 0h0m58 0h0m-59 1h0m1 0h0m4 0h0m49 0h0m5 0h0m1 0h0m-1 1h0m2 0h0m-59 2h0m55 0h0m-1 1h0m1 0h0m-60 2h0m13 0h0m-11 1h0m53 0h0m-54 1h0m-19 1h0m1 0h0m16 0h0m-23 1h0m1 0h0m2 1h0m1 0h0m21 0h0m1 1h0m60 0h0m2 0h0m-86 1h0m18 0h0m4 0h0m53 0h0m2 0h0m1 0h0m-54 1h0m1 0h0m57 0h0m3 0h0m-76 1h0m72 0h0m3 0h0m3 0h0m-68 1h0m4 0h0m53 0h0m-68 1h0m1 0h0m16 0h0m51 0h0m7 0h0m-65 1h0m-9 1h0m16 0h0m55 0h0m-70 1h0m10 0h0m59 0h0m4 0h0m-60 1h0m59 0h0m-66 1h0m8 0h0m1 0h0m56 0h0m4 0h0m-58 1h0m50 0h0m4 0h0m-65 1h0m10 0h0m4 0h0m54 0h0m-68 1h0m1 0h0m68 0h0m-66 1h0m10 0h0m47 0h0m1 0h0m-99 1h0m1 0h0m37 0h0m60 0h0m-98 1h0m41 0h0m1 1h0m5 0h0m3 0h0m-11 1h0m64 0h0m-74 1h0m1 0h0m8 0h0m62 0h0m1 0h0m-69 1h0m4 0h0m5 0h0m58 0h0m4 0h0m1 0h0m-78 1h0m68 0h0m8 0h0m5 0h0m-77 1h0m4 0h0m60 0h0m1 0h0m11 0h0m-118 1h0m111 0h0m-109 1h0m1 0h0m4 0h0m97 0h0m-54 1h0m-52 1h0m12 0h0m2 0h0m1 0h0m33 0h0m58 0h0m-103 1h0m51 0h0m59 0h0m-110 1h0m10 0h0m3 0h0m89 0h0m5 0h0m2 0h0m-108 1h0m8 0h0m91 0h0m-101 1h0m5 0h0m16 0h0m29 0h0m55 0h0m4 0h0m2 0h0m-104 1h0m8 0h0m1 0h0m38 0h0m-57 1h0m18 0h0m8 0h0m30 0h0m45 0h0m3 0h0m5 0h0m-112 1h0m2 0h0m55 0h0m47 0h0m2 0h0m6 0h0m-110 1h0m24 0h0m1 0h0m23 0h0m10 0h0m1 0h0m3 0h0m49 0h0m-93 1h0m39 0h0m-35 1h0m25 0h0m16 0h0m-65 1h0m31 0h0m29 1h0m40 0h0m-101 1h0m31 0h0m20 0h0m14 0h0m-68 1h0m30 0h0m1 0h0m1 0h0m23 0h0m11 1h0m1 0h0m1 0h0m-69 1h0m28 0h0m1 0h0m4 0h0m17 0h0m3 0h0m12 0h0m7 0h0m39 0h0m-61 1h0m4 0h0m21 0h0m-75 1h0m28 0h0m4 0h0m39 0h0m40 0h0m-112 1h0m3 0h0m48 0h0m2 0h0m20 0h0m3 0h0m33 0h0m-80 1h0m20 0h0m-49 1h0m2 0h0m66 0h0m6 0h0m38 0h0m-107 1h0m31 0h0m13 0h0m61 0h0m-76 1h0m37 0h0m27 0h0m-98 1h0m67 0h0m39 0h0m6 0h0m-7 1h0m-100 1h0m1 0h0m2 0h0m1 0h0m21 0h0m1 0h0m75 0h0m-104 1h0m66 0h0m31 0h0m-94 1h0m66 0h0m25 0h0m3 0h0m5 0h0m-100 1h0m66 0h0m-9 1h0m25 0h0m13 0h0m3 0h0m-95 1h0m47 0h0m2 0h0m17 0h0m5 0h0m7 0h0m-81 1h0m3 0h0m2 0h0m43 0h0m3 0h0m5 0h0m15 0h0m24 0h0m-15 1h0m14 0h0m7 0h0m-104 1h0m4 0h0m80 0h0m20 0h0m-107 1h0m2 0h0m3 0h0m55 0h0m19 0h0m7 0h0m4 0h0m5 0h0m4 0h0m5 0h0m-98 1h0m24 0h0m1 0h0m28 0h0m3 0h0m17 0h0m11 0h0m5 0h0m-86 1h0m21 0h0m49 0h0m13 0h0m-85 1h0m19 0h0m4 0h0m31 0h0m13 0h0m1 0h0m6 0h0m5 0h0m2 0h0m10 0h0m1 0h0m3 0h0m1 0h0m-97 1h0m7 0h0m17 0h0m51 0h0m-52 1h0m3 0h0m45 0h0m4 0h0m4 0h0m3 0h0m6 0h0m7 0h0m-95 1h0m25 0h0m55 0h0m8 0h0m1 0h0m3 0h0m-90 1h0m10 0h0m5 0h0m9 0h0m45 0h0m3 0h0m-74 1h0m21 0h0m4 0h0m40 0h0m2 0h0m1 0h0m1 0h0m5 0h0m3 0h0m1 0h0m1 0h0m9 0h0m-74 1h0m3 0h0m3 0h0m6 0h0m46 0h0m-8 1h0m-44 1h0m48 0h0m3 0h0m-52 2h0" stroke="#6579bf" stroke-width="1.05" opacity="0.6"/>
<path d="M200 754h0m-8 1h0m2 0h0m1 1h0m2 0h0m5 0h0m1 0h0m-3 1h0m-19 1h0m2 0h0m16 0h0m3 1h0m2 0h0m-26 1h0m31 0h0m-32 1h0m27 0h0m2 0h0m2 0h0m-1 1h0m-32 1h0m-1 1h0m90 0h0m-60 1h0m52 0h0m-82 1h0m26 0h0m55 0h0m5 0h0m2 0h0m2 0h0m1 0h0m-95 1h0m85 0h0m4 0h0m2 0h0m5 0h0m-97 2h0m83 0h0m-56 1h0m4 0h0m67 0h0m1 0h0m-20 1h0m1 0h0m15 0h0m-69 1h0m45 0h0m3 0h0m1 0h0m20 0h0m-96 1h0m24 0h0m-23 1h0m1 0h0m12 0h0m7 0h0m51 0h0m7 0h0m11 0h0m2 0h0m-90 1h0m17 0h0m57 0h0m1 0h0m18 0h0m1 0h0m1 0h0m-91 1h0m84 0h0m9 0h0m-89 1h0m63 0h0m27 0h0m-30 2h0m1 0h0m1 1h0m1 1h0m27 0h0m1 0h0m-31 1h0m0 2h0m3 0h0m1 0h0m30 0h0m-34 1h0m-1 1h0m33 0h0m-32 1h0m2 0h0m31 0h0m0 1h0m1 0h0m-33 1h0m-6 1h0m2 0h0m2 0h0m-4 1h0m2 0h0m2 0h0m36 0h0m-43 1h0m3 0h0m1 0h0m-2 1h0m2 0h0m-1 1h0m3 0h0m36 0h0m2 0h0m-44 2h0m42 0h0m-45 1h0m7 0h0m1 0h0m39 0h0m1 0h0m-49 2h0m2 0h0m-3 1h0m1 0h0m5 0h0m-6 1h0m3 0h0m44 0h0m-45 1h0m45 0h0m-40 1h0m-8 1h0m3 0h0m1 1h0m44 0h0m-1 1h0m-47 1h0m45 1h0m-43 1h0m-2 1h0m5 1h0m42 0h0m2 0h0m-49 1h0m4 0h0m1 0h0m1 1h0m1 0h0m42 0h0m0 1h0m-48 1h0m2 1h0m44 0h0m-42 1h0m1 0h0m1 0h0m-3 1h0m44 0h0m-1 1h0m-41 1h0m38 0h0m3 1h0m-40 1h0m38 0h0m-40 1h0m39 0h0m6 0h0m-55 1h0m6 0h0m1 0h0m47 0h0m-53 1h0m3 0h0m4 0h0m48 0h0m-56 1h0m1 0h0m49 0h0m5 0h0m-56 1h0m3 0h0m3 0h0m1 0h0m44 0h0m-49 1h0m2 0h0m-2 1h0m0 2h0m3 0h0m38 0h0m-37 1h0m-4 1h0m1 0h0m37 0h0m4 0h0m-2 1h0m-40 1h0m41 0h0m-38 1h0m35 0h0m1 0h0m6 0h0m-92 1h0m1 0h0m1 0h0m-2 1h0m83 0h0m6 0h0m-96 1h0m1 0h0m7 0h0m-7 1h0m4 0h0m1 0h0m2 0h0m84 0h0m-89 1h0m3 0h0m85 0h0m-97 1h0m4 0h0m8 0h0m2 0h0m82 0h0m-95 1h0m1 0h0m2 0h0m9 0h0m7 0h0m44 0h0m2 0h0m30 0h0m-80 1h0m2 0h0m48 0h0m2 0h0m29 0h0m-86 1h0m4 0h0m5 0h0m1 0h0m44 0h0m32 0h0m-99 1h0m1 0h0m19 0h0m46 0h0m5 0h0m-69 1h0m16 0h0m79 0h0m2 0h0m-101 1h0m2 0h0m75 0h0m19 0h0m5 0h0m-99 1h0m18 0h0m1 0h0m80 0h0m-99 1h0m2 0h0m1 0h0m2 0h0m69 0h0m22 0h0m4 0h0m-97 1h0m93 0h0m5 0h0m-29 1h0m24 0h0m1 0h0m2 0h0m1 0h0m1 0h0m-103 1h0m3 0h0m1 0h0m3 0h0m2 0h0m67 0h0m28 0h0m-96 1h0m14 0h0m68 0h0m12 0h0m-77 1h0m47 0h0m18 0h0m-66 1h0m44 0h0m1 0h0m1 0h0m1 0h0m18 0h0m12 0h0m-32 1h0m4 0h0m16 0h0m-83 1h0m2 0h0m67 0h0m2 0h0m10 0h0m1 0h0m-65 1h0m1 0h0m43 0h0m6 0h0m11 0h0m1 0h0m-78 1h0m62 0h0m1 0h0m3 0h0m2 0h0m9 0h0m1 0h0m5 0h0m-67 1h0m46 0h0m3 0h0m5 0h0m4 0h0m5 0h0m4 1h0m1 0h0m-70 1h0m1 0h0m64 0h0m2 0h0m1 0h0m2 0h0m-87 1h0m18 0h0m69 0h0m-84 1h0m12 0h0m2 0h0m1 0h0m69 0h0m-70 1h0m-14 1h0m11 0h0m-11 1h0m8 0h0m5 0h0m1 0h0m-16 1h0m2 1h0m2 0h0m8 0h0m-3 1h0m0 1h0m1 0h0m2 0h0m-1 1h0m57 0h0" stroke="#556cb9" stroke-width="1.05" opacity="0.7"/>
<path d="M187 756h0m1 0h0m2 0h0m-1 1h0m1 0h0m7 1h0m-3 1h0m-11 1h0m18 0h0m1 0h0m-2 1h0m3 0h0m-25 1h0m1 0h0m3 0h0m18 0h0m2 0h0m-23 1h0m22 0h0m2 0h0m-26 1h0m23 0h0m-23 1h0m23 0h0m-26 1h0m23 2h0m1 0h0m-27 1h0m2 0h0m26 0h0m55 0h0m1 0h0m4 0h0m1 0h0m1 0h0m1 0h0m-92 1h0m1 0h0m1 0h0m1 0h0m18 0h0m62 0h0m3 0h0m3 0h0m3 0h0m-72 1h0m63 0h0m2 0h0m3 0h0m5 0h0m-93 1h0m1 0h0m1 0h0m80 0h0m2 0h0m2 0h0m-85 1h0m15 0h0m69 0h0m4 0h0m1 0h0m3 0h0m-90 1h0m15 0h0m65 0h0m-79 1h0m1 0h0m3 0h0m4 0h0m69 0h0m4 0h0m-76 1h0m64 0h0m11 0h0m1 0h0m9 0h0m1 0h0m-22 1h0m1 0h0m4 0h0m1 0h0m3 0h0m1 0h0m1 0h0m1 0h0m9 0h0m-20 1h0m1 0h0m4 0h0m3 0h0m10 0h0m4 0h0m-23 1h0m2 0h0m5 0h0m6 0h0m3 0h0m2 0h0m-16 1h0m3 0h0m8 0h0m5 0h0m2 0h0m3 0h0m-21 1h0m1 0h0m4 0h0m1 0h0m1 0h0m5 0h0m4 0h0m4 0h0m-22 1h0m3 0h0m1 0h0m6 0h0m1 0h0m10 0h0m1 0h0m1 0h0m-13 1h0m1 0h0m10 0h0m3 0h0m2 0h0m0 1h0m-25 1h0m22 0h0m-24 1h0m24 0h0m1 0h0m-2 1h0m4 0h0m-29 1h0m29 0h0m-29 2h0m27 0h0m0 1h0m1 0h0m-34 1h0m34 0h0m1 0h0m-31 1h0m3 0h0m-6 1h0m35 0h0m-30 1h0m30 0h0m-34 1h0m35 0h0m-1 2h0m3 0h0m-2 1h0m-34 1h0m33 0h0m0 2h0m-42 2h0m3 0h0m1 0h0m-4 1h0m1 0h0m1 0h0m2 0h0m35 0h0m1 0h0m1 0h0m-40 1h0m1 0h0m32 0h0m3 0h0m4 0h0m-41 1h0m34 0h0m-33 1h0m33 1h0m3 0h0m-34 1h0m31 0h0m4 0h0m1 0h0m2 0h0m-5 1h0m1 0h0m1 0h0m-34 1h0m37 0h0m1 1h0m-1 1h0m1 0h0m-4 1h0m3 0h0m-3 1h0m2 1h0m0 1h0m1 0h0m-4 1h0m1 2h0m-33 1h0m32 0h0m2 0h0m-34 1h0m31 1h0m2 0h0m1 1h0m-38 1h0m33 0h0m2 0h0m1 0h0m-36 1h0m33 0h0m3 0h0m-37 1h0m30 0h0m3 0h0m-32 1h0m31 0h0m-29 1h0m27 0h0m-29 1h0m1 0h0m-7 2h0m2 0h0m3 0h0m-2 1h0m5 0h0m2 0h0m-11 1h0m3 0h0m1 0h0m1 0h0m4 0h0m-6 1h0m2 0h0m28 0h0m-31 1h0m1 0h0m5 0h0m1 0h0m23 0h0m1 0h0m-27 1h0m1 0h0m24 0h0m3 0h0m1 0h0m-31 1h0m1 0h0m24 0h0m3 0h0m-28 2h0m2 0h0m1 0h0m21 0h0m1 0h0m0 1h0m1 0h0m-87 1h0m3 0h0m1 0h0m60 0h0m3 0h0m20 0h0m-87 1h0m2 0h0m-3 1h0m1 0h0m4 0h0m61 0h0m1 0h0m21 0h0m-88 1h0m71 0h0m6 0h0m9 0h0m2 0h0m-88 1h0m5 0h0m2 0h0m63 0h0m7 0h0m9 0h0m1 0h0m-82 1h0m3 0h0m65 0h0m5 0h0m4 0h0m1 0h0m-85 1h0m1 0h0m6 0h0m3 0h0m63 0h0m4 0h0m9 0h0m-83 1h0m1 0h0m4 0h0m3 0h0m63 0h0m1 0h0m1 0h0m2 0h0m2 0h0m1 0h0m4 0h0m-80 1h0m6 0h0m1 0h0m2 0h0m59 0h0m1 0h0m5 0h0m3 0h0m2 0h0m-78 1h0m72 0h0m-73 1h0m2 0h0m8 0h0m60 0h0m1 0h0m3 0h0m2 0h0m2 0h0m-13 1h0m-66 1h0m1 0h0m2 0h0m8 0h0m56 0h0m2 0h0m3 0h0m1 0h0m-73 1h0m1 0h0m10 0h0m58 0h0m1 0h0m-58 1h0m57 0h0m1 0h0m3 0h0m-73 1h0m69 0h0m1 0h0m3 0h0m-62 1h0m57 0h0m1 0h0m-69 1h0m1 0h0m68 0h0m-68 2h0m8 0h0m-3 1h0m3 0h0m1 0h0m-12 1h0m2 0h0m2 0h0m3 0h0m-7 2h0m4 0h0m-4 1h0m2 0h0m1 0h0m3 0h0m1 0h0m-6 1h0m4 0h0m-4 1h0m3 0h0m-2 1h0" stroke="#4f70b7" stroke-width="1.24" opacity="0.7"/>
<path d="M187 758h0m6 1h0m-9 1h0m3 0h0m8 0h0m1 0h0m0 1h0m-13 1h0m14 0h0m-17 1h0m3 0h0m14 0h0m-18 1h0m1 0h0m1 0h0m15 1h0m3 0h0m-19 1h0m-4 1h0m1 0h0m2 0h0m17 0h0m1 0h0m-20 1h0m17 0h0m-1 1h0m1 0h0m-19 1h0m-3 1h0m1 0h0m1 0h0m15 0h0m-15 1h0m6 0h0m2 0h0m-9 1h0m2 0h0m3 0h0m1 0h0m5 0h0m1 0h0m-10 1h0m2 0h0m72 7h0m10 1h0m-11 1h0m2 0h0m8 0h0m2 0h0m1 0h0m-13 1h0m8 0h0m2 0h0m2 0h0m3 0h0m-17 1h0m2 0h0m1 0h0m7 0h0m1 0h0m2 0h0m2 0h0m-4 1h0m5 0h0m-15 1h0m15 0h0m-18 1h0m17 0h0m1 0h0m1 1h0m2 0h0m-22 1h0m1 0h0m-2 1h0m1 1h0m23 0h0m-24 1h0m-2 2h0m1 0h0m28 0h0m-1 1h0m-30 2h0m1 0h0m29 1h0m1 0h0m0 1h0m0 1h0m-2 1h0m2 0h0m-33 1h0m30 0h0m1 0h0m-31 1h0m-2 1h0m-1 1h0m2 0h0m25 0h0m-26 1h0m1 0h0m0 1h0m1 0h0m-4 1h0m2 0h0m0 2h0m26 0h0m3 1h0m-29 1h0m29 1h0m1 0h0m-29 2h0m27 0h0m3 0h0m-30 1h0m27 0h0m1 1h0m3 0h0m-32 1h0m1 0h0m1 0h0m26 0h0m-27 1h0m-1 1h0m29 0h0m-28 1h0m28 0h0m-29 1h0m-2 1h0m28 0h0m3 0h0m-28 1h0m25 0h0m2 0h0m2 0h0m-34 1h0m1 0h0m29 0h0m-27 1h0m0 1h0m23 0h0m-26 1h0m1 0h0m2 2h0m23 1h0m-22 3h0m2 0h0m-3 1h0m1 0h0m16 0h0m-14 1h0m-2 1h0m0 1h0m14 0h0m-18 1h0m7 0h0m9 0h0m-15 1h0m1 0h0m1 0h0m2 0h0m2 0h0m9 0h0m-15 1h0m1 0h0m5 0h0m6 0h0m5 0h0m-14 1h0m15 0h0m-12 1h0m2 0h0m3 0h0m2 0h0m1 0h0m1 0h0m2 0h0m1 0h0m1 0h0m-14 1h0m1 0h0m3 0h0m5 0h0m1 0h0m2 0h0m1 0h0m-15 1h0m1 0h0m7 0h0m6 0h0m-12 1h0m1 0h0m1 0h0m-63 5h0m-3 1h0m2 0h0m2 0h0m-5 1h0m3 0h0m63 0h0m-62 1h0m-3 1h0m1 0h0m-3 1h0m4 0h0m-4 1h0m2 0h0m2 0h0m1 0h0m-5 1h0m2 0h0m1 0h0m-4 1h0m-1 1h0m2 0h0m1 0h0m-3 1h0m1 0h0m1 0h0m-1 2h0" stroke="#4a74b6" stroke-width="1.24" opacity="0.7"/>
<path d="M188 758h0m1 0h0m-1 1h0m-2 1h0m1 0h0m1 0h0m1 0h0m1 0h0m1 0h0m1 0h0m-5 1h0m1 0h0m2 0h0m1 0h0m2 0h0m-7 1h0m1 0h0m4 0h0m1 0h0m-7 1h0m9 0h0m-10 1h0m2 0h0m7 0h0m1 0h0m1 0h0m-12 1h0m6 0h0m1 0h0m-8 1h0m1 0h0m2 0h0m3 0h0m2 0h0m2 0h0m1 0h0m1 0h0m-10 1h0m3 0h0m2 0h0m1 0h0m4 0h0m-15 1h0m1 0h0m1 0h0m6 0h0m1 0h0m1 0h0m2 0h0m1 0h0m3 0h0m-7 1h0m1 0h0m-12 1h0m4 0h0m1 0h0m2 0h0m1 0h0m5 0h0m-13 1h0m1 0h0m3 0h0m1 0h0m2 0h0m1 0h0m-5 1h0m5 0h0m1 0h0m1 0h0m61 14h0m1 0h0m6 0h0m-7 1h0m1 0h0m3 0h0m4 0h0m2 0h0m-11 1h0m9 0h0m5 0h0m-16 2h0m1 0h0m17 0h0m-19 1h0m1 0h0m17 0h0m1 1h0m-20 2h0m21 0h0m3 0h0m-3 1h0m2 0h0m1 0h0m-1 1h0m-26 1h0m1 0h0m0 1h0m26 0h0m0 1h0m-4 1h0m3 0h0m-28 1h0m1 0h0m28 0h0m-29 1h0m25 0h0m4 0h0m-31 6h0m1 1h0m1 0h0m20 0h0m-22 1h0m22 0h0m-21 2h0m23 0h0m1 0h0m-25 1h0m0 1h0m1 0h0m-1 1h0m0 1h0m1 0h0m23 0h0m1 0h0m1 1h0m-1 1h0m0 1h0m-25 1h0m1 1h0m24 0h0m-24 1h0m23 1h0m1 0h0m-24 1h0m21 0h0m-22 1h0m1 0h0m21 0h0m-23 1h0m21 0h0m3 0h0m-22 1h0m17 1h0m1 0h0m-20 1h0m1 0h0m18 1h0m1 0h0m-21 1h0m1 0h0m1 0h0m1 0h0m17 0h0m-18 1h0m1 0h0m17 0h0m-18 1h0m1 0h0m-1 1h0m13 0h0m3 0h0m-13 1h0m11 0h0m2 0h0m-11 1h0m5 0h0m4 0h0m-14 1h0m1 0h0m4 0h0m5 0h0m1 0h0m-11 1h0m2 0h0m3 0h0m1 0h0m2 0h0m3 0h0m-11 1h0m1 0h0m1 0h0m3 0h0m1 0h0m-4 1h0m1 0h0m3 0h0m1 0h0m1 0h0m-4 1h0m5 0h0m-1 1h0m1 0h0m-1 1h0" stroke="#4c7fae" stroke-width="1.24" opacity="1.0"/>
<path d="M188 762h0m1 0h0m2 0h0m0 1h0m-9 5h0m1 0h0m2 0h0m-2 1h0m1 0h0m1 0h0m64 19h0m7 0h0m1 0h0m-9 1h0m2 0h0m6 0h0m2 0h0m-11 1h0m13 1h0m1 0h0m2 1h0m-1 1h0m1 0h0m0 1h0m0 1h0m-21 1h0m22 0h0m1 0h0m-3 1h0m2 0h0m2 0h0m-24 1h0m1 0h0m20 0h0m1 0h0m1 0h0m-25 1h0m1 0h0m21 0h0m4 0h0m-1 1h0m-27 3h0m1 0h0m21 0h0m-22 1h0m1 0h0m1 0h0m-1 4h0m-1 2h0m20 2h0m0 1h0m1 0h0m-1 1h0m1 1h0m0 1h0m-22 2h0m0 2h0m1 0h0m20 0h0m-20 1h0m1 0h0m19 0h0m1 0h0m0 1h0m-20 1h0m17 2h0m-18 1h0m16 0h0m3 0h0m-18 1h0m16 0h0m-19 1h0m16 0h0m-15 1h0m2 0h0m0 1h0m14 1h0m-13 1h0m5 0h0m4 0h0m2 0h0m1 0h0m1 0h0m-11 1h0m2 0h0m4 0h0m1 0h0m3 0h0m-11 1h0m3 0h0m2 0h0m-1 1h0m1 0h0m-4 1h0m3 0h0m-3 1h0m1 0h0m1 0h0m-2 1h0" stroke="#54949e" stroke-width="1.24" opacity="1.0"/>
<path d="M252 788h0m1 0h0m-3 1h0m1 0h0m1 0h0m1 0h0m3 1h0m0 1h0m1 0h0m2 0h0m-13 1h0m1 0h0m1 0h0m13 0h0m-3 1h0m1 0h0m1 0h0m1 0h0m0 1h0m-1 1h0m1 0h0m-1 2h0m0 1h0m1 0h0m-1 1h0m-20 1h0m20 0h0m1 0h0m1 1h0m-3 3h0m-1 2h0m-1 2h0m-1 1h0m1 0h0m-18 1h0m18 0h0m-18 1h0m-1 1h0m19 0h0m-18 1h0m19 0h0m-20 2h0m1 1h0m20 0h0m-21 1h0m1 0h0m0 1h0m-1 1h0m1 0h0m20 1h0m-19 2h0m16 0h0m-16 1h0m1 0h0m16 0h0m-1 1h0m-15 1h0m13 0h0m-13 1h0m-1 1h0m12 0h0m-12 1h0m1 0h0m6 0h0m3 0h0m1 0h0m2 0h0m-13 1h0m1 0h0m5 0h0m1 0h0m2 0h0m1 0h0m1 0h0m-10 1h0m2 0h0m2 0h0m3 0h0m1 0h0m2 0h0m-11 1h0m1 0h0m2 0h0m5 0h0m-5 1h0m-1 1h0m1 0h0m1 0h0m-2 1h0m1 0h0" stroke="#5fa288" stroke-width="1.24" opacity="1.0"/>
<path d="M252 790h0m4 0h0m-6 1h0m1 0h0m1 0h0m1 0h0m-5 1h0m2 0h0m-1 1h0m7 0h0m2 0h0m1 1h0m-12 1h0m12 0h0m-14 1h0m13 0h0m1 0h0m-15 1h0m1 0h0m14 0h0m-17 1h0m3 0h0m14 0h0m-15 1h0m15 0h0m-1 1h0m0 1h0m-18 1h0m18 0h0m1 0h0m-19 1h0m18 0h0m2 0h0m-20 1h0m19 0h0m-19 1h0m2 0h0m-2 1h0m1 0h0m1 0h0m15 0h0m-16 1h0m15 0h0m-16 4h0m1 0h0m-1 1h0m1 0h0m-1 1h0m1 0h0m-1 1h0m16 0h0m-16 1h0m16 1h0m2 0h0m-17 1h0m16 0h0m-17 1h0m16 0h0m-15 1h0m15 0h0m1 1h0m-16 1h0m15 0h0m-2 1h0m0 1h0m1 0h0m-2 2h0m-10 1h0m9 0h0m-9 1h0m1 0h0m4 0h0m1 0h0m1 0h0m-8 1h0m1 0h0m2 0h0m0 1h0" stroke="#6eab6c" stroke-width="1.24" opacity="1.0"/>
<path d="M250 792h0m3 0h0m1 0h0m1 0h0m-5 1h0m1 0h0m1 0h0m2 0h0m1 0h0m-6 1h0m2 0h0m3 0h0m1 0h0m1 0h0m-7 1h0m1 0h0m1 0h0m5 0h0m-9 1h0m1 0h0m1 0h0m2 0h0m3 0h0m-8 1h0m1 0h0m2 0h0m8 0h0m-12 1h0m1 0h0m-3 2h0m-1 1h0m1 0h0m0 1h0m1 0h0m-2 1h0m0 1h0m14 0h0m1 0h0m-14 1h0m13 0h0m1 0h0m-15 1h0m1 0h0m0 1h0m11 2h0m0 1h0m0 1h0m1 0h0m-1 1h0m0 1h0m1 1h0m0 6h0m0 1h0m-12 1h0m0 1h0m0 1h0m-1 1h0m1 0h0m7 0h0m-7 1h0m1 0h0m3 0h0m-2 1h0m1 0h0m1 0h0m1 0h0" stroke="#7bb257" stroke-width="1.24" opacity="1.0"/>
<path d="M253 795h0m1 0h0m-2 1h0m1 0h0m-3 1h0m2 0h0m1 0h0m1 0h0m-8 1h0m6 0h0m1 0h0m1 0h0m1 0h0m2 0h0m-11 1h0m1 0h0m1 0h0m1 0h0m1 0h0m1 0h0m1 0h0m2 0h0m2 0h0m2 0h0m-14 1h0m1 0h0m7 0h0m2 0h0m1 0h0m2 0h0m-13 1h0m3 0h0m8 0h0m1 0h0m-11 1h0m2 0h0m10 0h0m-13 1h0m13 0h0m-12 1h0m9 0h0m1 0h0m1 0h0m-12 1h0m1 0h0m11 0h0m-11 1h0m9 0h0m1 0h0m-13 3h0m0 1h0m1 0h0m0 1h0m-1 3h0m1 1h0m11 0h0m-12 1h0m1 0h0m11 0h0m1 0h0m-13 1h0m1 0h0m12 0h0m-1 1h0m-12 1h0m1 0h0m11 0h0m1 0h0m-13 1h0m0 1h0m1 0h0m9 2h0m1 0h0m-7 1h0m2 0h0m1 0h0m5 0h0m-10 1h0m1 0h0m1 0h0m1 0h0m1 0h0m1 0h0m-5 1h0m1 0h0m3 0h0" stroke="#7fb455" stroke-width="1.24" opacity="1.0"/>
<path d="M248 800h0m1 0h0m1 0h0m3 0h0m-4 1h0m1 0h0m3 0h0m-6 1h0m1 0h0m1 0h0m1 0h0m1 0h0m1 0h0m2 0h0m1 0h0m-9 1h0m2 0h0m1 0h0m2 0h0m1 0h0m-4 1h0m3 0h0m1 0h0m1 0h0m1 0h0m1 0h0m-9 1h0m1 0h0m3 0h0m1 0h0m1 0h0m1 0h0m-6 1h0m2 0h0m2 0h0m1 0h0m1 0h0m-9 1h0m3 0h0m-3 1h0m1 0h0m2 0h0m5 0h0m-8 1h0m0 1h0m8 0h0m1 0h0m-9 1h0m1 0h0m7 0h0m1 0h0m1 0h0m-10 1h0m9 0h0m-9 1h0m1 0h0m8 0h0m-9 1h0m8 0h0m1 0h0m-8 1h0m7 0h0m1 0h0m1 0h0m-9 1h0m7 0h0m1 4h0m0 1h0m-8 2h0m5 0h0m1 0h0m1 0h0m-2 1h0m1 0h0" stroke="#84b653" stroke-width="1.24" opacity="1.0"/>
<path d="M249 806h0m1 0h0m1 0h0m-1 1h0m-4 1h0m1 0h0m1 0h0m1 0h0m1 0h0m1 0h0m1 0h0m-6 1h0m1 0h0m1 0h0m1 0h0m2 0h0m-5 1h0m1 0h0m2 0h0m-3 1h0m1 0h0m2 0h0m1 0h0m1 0h0m1 0h0m-5 1h0m1 0h0m1 0h0m1 0h0m1 0h0m-5 1h0m1 0h0m4 0h0m-3 1h0m3 0h0m-2 1h0m2 0h0m1 0h0m-1 1h0m1 0h0m1 0h0m-9 1h0m1 0h0m8 0h0m-9 1h0m1 0h0m7 0h0m1 0h0m-8 1h0m7 0h0m1 0h0m-9 1h0m0 1h0m1 0h0m-1 1h0m2 0h0m1 0h0m1 0h0m1 0h0m-2 1h0m2 0h0m-3 1h0" stroke="#89b851" stroke-width="1.24" opacity="1.0"/>
<path d="M246 816h0m1 0h0m1 0h0m1 0h0m1 0h0m-3 1h0m1 0h0m1 0h0m1 0h0m0 1h0m1 0h0m-1 1h0m1 0h0m-5 1h0m1 0h0m3 0h0m1 0h0m-5 1h0m1 0h0m3 0h0m1 0h0m-5 1h0m1 0h0" stroke="#95ba4d" stroke-width="1.24" opacity="1.0"/>
<path d="M246 818h0m1 0h0m-1 1h0m1 0h0m1 0h0m0 1h0m1 0h0m-1 1h0m1 0h0m-1 1h0" stroke="#a7bd48" stroke-width="1.24" opacity="1.0"/>
</g></g>
<ellipse cx="93.4" cy="382.8" rx="12.5" ry="6.5" transform="rotate(-32 93.4 382.8)" fill="none" stroke="#a27ab4" stroke-width="0.75"/>
<path d="M76,398 C77,392 86,390 96,390 C104,389 110,392 108,400 C107,409 101,419 90,420 C82,421 75,416 75.5,408 Z" fill="none" stroke="#a27ab4" stroke-width="0.75"/>
<ellipse cx="125.7" cy="406.3" rx="9.6" ry="19.8" transform="rotate(15 125.7 406.3)" fill="none" stroke="#a27ab4" stroke-width="0.75"/>
<text x="76.4" y="373.8" font-size="4.8" fill="#9466a6">12.4</text>
<text x="99" y="421.4" font-size="4.8" fill="#9466a6">3.03</text>
<text x="137" y="418" font-size="4.8" fill="#9466a6">54.1</text>
<rect x="170.7" y="368" width="76.6" height="75.6" fill="none" stroke="#888" stroke-width="0.6"/>
<line x1="170.7" y1="368" x2="170.7" y2="444.1" stroke="#000" stroke-width="0.9"/>
<line x1="170.2" y1="443.6" x2="247.3" y2="443.6" stroke="#000" stroke-width="0.9"/>
<line x1="168.7" y1="373.5" x2="170.7" y2="373.5" stroke="#000" stroke-width="0.7"/>
<text x="167.1" y="375.4" font-size="4.9" text-anchor="end" fill="#222">10<tspan dy="-1.8" font-size="3.2">5</tspan></text>
<line x1="168.7" y1="390.4" x2="170.7" y2="390.4" stroke="#000" stroke-width="0.7"/>
<text x="167.1" y="392.3" font-size="4.9" text-anchor="end" fill="#222">10<tspan dy="-1.8" font-size="3.2">4</tspan></text>
<line x1="168.7" y1="408" x2="170.7" y2="408" stroke="#000" stroke-width="0.7"/>
<text x="167.1" y="409.9" font-size="4.9" text-anchor="end" fill="#222">10<tspan dy="-1.8" font-size="3.2">3</tspan></text>
<line x1="168.7" y1="426.4" x2="170.7" y2="426.4" stroke="#000" stroke-width="0.7"/>
<text x="167.1" y="428.3" font-size="4.9" text-anchor="end" fill="#222">10<tspan dy="-1.8" font-size="3.2">2</tspan></text>
<line x1="168.7" y1="434.8" x2="170.7" y2="434.8" stroke="#000" stroke-width="0.7"/>
<text x="167.7" y="436.7" font-size="4.9" text-anchor="end" fill="#222">0</text>
<line x1="169.7" y1="378" x2="170.7" y2="378" stroke="#000" stroke-width="0.5"/>
<line x1="169.7" y1="382" x2="170.7" y2="382" stroke="#000" stroke-width="0.5"/>
<line x1="169.7" y1="385" x2="170.7" y2="385" stroke="#000" stroke-width="0.5"/>
<line x1="169.7" y1="387" x2="170.7" y2="387" stroke="#000" stroke-width="0.5"/>
<line x1="169.7" y1="396" x2="170.7" y2="396" stroke="#000" stroke-width="0.5"/>
<line x1="169.7" y1="400" x2="170.7" y2="400" stroke="#000" stroke-width="0.5"/>
<line x1="169.7" y1="403" x2="170.7" y2="403" stroke="#000" stroke-width="0.5"/>
<line x1="169.7" y1="405" x2="170.7" y2="405" stroke="#000" stroke-width="0.5"/>
<line x1="169.7" y1="414" x2="170.7" y2="414" stroke="#000" stroke-width="0.5"/>
<line x1="169.7" y1="418" x2="170.7" y2="418" stroke="#000" stroke-width="0.5"/>
<line x1="169.7" y1="421" x2="170.7" y2="421" stroke="#000" stroke-width="0.5"/>
<line x1="169.7" y1="423" x2="170.7" y2="423" stroke="#000" stroke-width="0.5"/>
<line x1="179.7" y1="443.6" x2="179.7" y2="445.6" stroke="#000" stroke-width="0.7"/>
<text x="179.7" y="452" font-size="4.9" text-anchor="middle" fill="#222">0</text>
<line x1="186.2" y1="443.6" x2="186.2" y2="445.6" stroke="#000" stroke-width="0.7"/>
<text x="187.6" y="452" font-size="4.9" text-anchor="middle" fill="#222">10<tspan dy="-1.8" font-size="3.2">2</tspan></text>
<line x1="205.2" y1="443.6" x2="205.2" y2="445.6" stroke="#000" stroke-width="0.7"/>
<text x="206.6" y="452" font-size="4.9" text-anchor="middle" fill="#222">10<tspan dy="-1.8" font-size="3.2">3</tspan></text>
<line x1="223.2" y1="443.6" x2="223.2" y2="445.6" stroke="#000" stroke-width="0.7"/>
<text x="224.6" y="452" font-size="4.9" text-anchor="middle" fill="#222">10<tspan dy="-1.8" font-size="3.2">4</tspan></text>
<line x1="241.2" y1="443.6" x2="241.2" y2="445.6" stroke="#000" stroke-width="0.7"/>
<text x="242.6" y="452" font-size="4.9" text-anchor="middle" fill="#222">10<tspan dy="-1.8" font-size="3.2">5</tspan></text>
<line x1="191.7" y1="443.6" x2="191.7" y2="444.6" stroke="#000" stroke-width="0.5"/>
<line x1="195.7" y1="443.6" x2="195.7" y2="444.6" stroke="#000" stroke-width="0.5"/>
<line x1="198.7" y1="443.6" x2="198.7" y2="444.6" stroke="#000" stroke-width="0.5"/>
<line x1="200.7" y1="443.6" x2="200.7" y2="444.6" stroke="#000" stroke-width="0.5"/>
<line x1="209.7" y1="443.6" x2="209.7" y2="444.6" stroke="#000" stroke-width="0.5"/>
<line x1="213.7" y1="443.6" x2="213.7" y2="444.6" stroke="#000" stroke-width="0.5"/>
<line x1="216.7" y1="443.6" x2="216.7" y2="444.6" stroke="#000" stroke-width="0.5"/>
<line x1="218.7" y1="443.6" x2="218.7" y2="444.6" stroke="#000" stroke-width="0.5"/>
<line x1="227.7" y1="443.6" x2="227.7" y2="444.6" stroke="#000" stroke-width="0.5"/>
<line x1="231.7" y1="443.6" x2="231.7" y2="444.6" stroke="#000" stroke-width="0.5"/>
<line x1="234.7" y1="443.6" x2="234.7" y2="444.6" stroke="#000" stroke-width="0.5"/>
<line x1="236.7" y1="443.6" x2="236.7" y2="444.6" stroke="#000" stroke-width="0.5"/>
<line x1="173.7" y1="443.6" x2="173.7" y2="444.6" stroke="#000" stroke-width="0.5"/>
<line x1="175.7" y1="443.6" x2="175.7" y2="444.6" stroke="#000" stroke-width="0.5"/>
<line x1="182.7" y1="443.6" x2="182.7" y2="444.6" stroke="#000" stroke-width="0.5"/>
<text x="208.7" y="457.8" font-size="4.7" text-anchor="middle" fill="#222">&lt;APC-A&gt;: CD11c</text>
<text transform="translate(158.4,406.3) rotate(-90)" font-size="4.6" text-anchor="middle" fill="#222">&lt;PE-Cy7-A&gt;: CD11b</text>
<g filter="url(#sb)"><g transform="scale(.5)" stroke-linecap="square">
<path d="M424 737h0m23 1h0m32 0h0m-82 1h0m8 1h0m20 0h0m28 0h0m-107 1h0m1 0h0m45 0h0m33 0h0m22 0h0m4 0h0m9 0h0m6 0h0m-113 1h0m29 0h0m32 0h0m13 0h0m6 0h0m6 0h0m-61 1h0m1 0h0m24 0h0m11 0h0m44 0h0m1 0h0m-88 1h0m8 0h0m18 0h0m42 0h0m20 0h0m23 0h0m-45 1h0m4 0h0m10 0h0m18 0h0m7 0h0m7 0h0m-136 1h0m46 0h0m30 0h0m46 0h0m12 0h0m-81 1h0m1 0h0m27 0h0m-73 1h0m19 0h0m5 0h0m40 0h0m1 0h0m10 0h0m-79 1h0m63 0h0m11 0h0m18 0h0m-47 1h0m38 0h0m30 0h0m7 0h0m8 0h0m-112 1h0m1 0h0m62 0h0m5 0h0m30 0h0m21 0h0m-134 1h0m39 0h0m24 0h0m23 0h0m30 0h0m-79 1h0m3 0h0m4 0h0m31 0h0m-79 1h0m8 0h0m42 0h0m79 0h0m-116 1h0m35 0h0m19 0h0m8 0h0m-69 1h0m1 0h0m110 0h0m8 0h0m7 0h0m-41 1h0m32 0h0m-80 1h0m15 0h0m2 0h0m13 0h0m12 0h0m35 0h0m9 0h0m-83 1h0m45 0h0m-23 1h0m1 0h0m17 0h0m41 0h0m4 0h0m-121 1h0m117 0h0m-95 1h0m7 0h0m17 0h0m26 0h0m8 0h0m-82 1h0m22 1h0m2 0h0m4 0h0m6 0h0m17 0h0m10 0h0m3 0h0m10 0h0m-12 1h0m8 0h0m-62 1h0m34 0h0m88 0h0m-111 1h0m21 0h0m11 0h0m1 0h0m78 0h0m-125 1h0m60 0h0m-52 1h0m6 0h0m12 0h0m7 0h0m22 0h0m17 0h0m52 0h0m-122 1h0m56 0h0m5 0h0m60 0h0m-124 1h0m5 0h0m42 0h0m74 0h0m-94 1h0m30 0h0m-28 1h0m16 0h0m3 0h0m76 0h0m-58 1h0m-70 1h0m1 0h0m46 0h0m85 0h0m-105 1h0m18 0h0m5 0h0m77 0h0m-118 1h0m22 0h0m23 0h0m9 0h0m7 0h0m56 0h0m-91 1h0m-37 1h0m10 0h0m14 0h0m7 1h0m16 0h0m-41 1h0m10 0h0m28 0h0m9 0h0m-40 1h0m10 0h0m23 0h0m81 0h0m-124 1h0m56 0h0m66 0h0m-127 1h0m134 0h0m-138 1h0m43 0h0m4 0h0m3 0h0m12 0h0m73 1h0m-113 1h0m117 0h0m-94 1h0m11 0h0m76 0h0m-126 1h0m11 0h0m112 0h0m-110 1h0m16 0h0m4 0h0m22 0h0m-53 1h0m7 0h0m24 0h0m10 0h0m9 0h0m76 0h0m-77 1h0m77 0h0m-93 1h0m92 0h0m3 0h0m-111 1h0m3 0h0m4 1h0m13 0h0m0 1h0m-45 1h0m21 0h0m5 0h0m37 0h0m68 0h0m-127 1h0m42 0h0m10 0h0m75 0h0m-130 1h0m47 0h0m82 0h0m4 0h0m8 0h0m1 0h0m-105 1h0m-8 1h0m96 0h0m-115 1h0m2 0h0m28 1h0m91 0h0m-113 1h0m27 0h0m-42 1h0m34 0h0m86 0h0m-109 1h0m3 0h0m9 0h0m107 0h0m2 0h0m-118 1h0m4 0h0m11 0h0m92 1h0m-112 1h0m31 0h0m1 0h0m2 0h0m-44 1h0m20 0h0m99 0h0m17 0h0m-140 1h0m15 0h0m21 0h0m10 0h0m79 0h0m2 0h0m-124 1h0m3 0h0m47 0h0m-43 2h0m25 0h0m5 0h0m-30 1h0m8 0h0m-11 1h0m40 0h0m77 0h0m17 0h0m-136 1h0m126 0h0m-84 1h0m94 0h0m-99 1h0m91 0h0m-129 1h0m37 0h0m95 0h0m-136 1h0m15 0h0m24 1h0m8 0h0m-41 1h0m25 0h0m23 0h0m77 0h0m-126 1h0m12 0h0m14 0h0m4 1h0m6 0h0m5 0h0m9 0h0m81 0h0m7 0h0m-139 1h0m-4 1h0m128 0h0m-123 1h0m30 0h0m103 0h0m-82 1h0m-31 1h0m23 0h0m3 0h0m-4 1h0m-41 1h0m16 0h0m3 0h0m5 0h0m16 0h0m-33 1h0m4 0h0m121 0h0m-126 1h0m101 0h0m-110 1h0m113 0h0m13 0h0m4 0h0m5 0h0m-99 1h0m6 0h0m-35 1h0m10 0h0m9 0h0m10 0h0m14 0h0m2 0h0m74 1h0m1 0h0m-15 1h0m10 0h0m-124 1h0m4 0h0m40 0h0m-2 1h0m69 0h0m9 0h0m-86 1h0m7 0h0m7 0h0m5 0h0m78 0h0m-101 1h0m1 0h0m77 0h0m-82 1h0m26 0h0m-20 1h0m76 0h0m-108 2h0m1 0h0m48 0h0m59 1h0m17 0h0m-126 1h0m37 0h0m5 0h0m5 0h0m88 0h0m-86 1h0m-53 2h0m57 0h0m2 0h0m77 0h0m-90 1h0m88 0h0m2 0h0m-7 1h0m-87 1h0m15 0h0m70 0h0m-76 1h0m10 0h0m4 0h0m61 0h0m7 1h0m-95 1h0m81 0h0m-3 1h0m12 0h0m9 0h0m-135 1h0m44 0h0m3 0h0m18 0h0m-5 1h0m62 0h0m-75 1h0m6 0h0m9 0h0m40 1h0m3 0h0m8 0h0m11 0h0m10 0h0m-72 1h0m39 0h0m11 0h0m14 0h0m-57 1h0m30 0h0m11 0h0m3 0h0m9 0h0m-69 1h0m80 0h0m-70 1h0m2 0h0m7 0h0m22 0h0m39 0h0m11 0h0m-92 1h0m44 0h0m36 0h0m-84 1h0m19 0h0m9 0h0m9 0h0m12 0h0m17 0h0m2 0h0m-21 1h0m19 0h0m22 0h0m-138 1h0m46 0h0m5 0h0m23 0h0m1 0h0m23 0h0m13 0h0m8 0h0m-74 1h0m19 0h0m14 0h0m16 0h0m21 0h0m-56 1h0m13 0h0m30 0h0m-49 1h0m11 0h0m66 0h0m7 0h0m-95 1h0m51 0h0m32 0h0m-64 1h0m19 0h0m5 0h0m31 0h0m3 0h0m6 0h0m-125 1h0m43 0h0m37 0h0m4 0h0m7 0h0m6 0h0m16 0h0m-75 1h0m15 0h0m7 0h0m6 0h0m30 0h0m28 0h0m11 0h0m-76 1h0m16 0h0m18 0h0m37 0h0m-81 1h0m39 0h0m29 0h0m6 0h0m-88 1h0m-29 1h0m75 0h0m61 1h0m-58 1h0m-55 1h0m1 0h0m51 0h0m31 0h0m9 0h0" stroke="#7587c5" stroke-width="1.05" opacity="0.6"/>
<path d="M457 748h0m-3 2h0m1 0h0m1 0h0m-37 1h0m33 0h0m-34 1h0m1 0h0m41 0h0m-44 1h0m18 0h0m9 0h0m2 0h0m13 0h0m-23 1h0m7 0h0m9 0h0m2 0h0m10 0h0m-71 1h0m52 0h0m18 0h0m-16 1h0m4 0h0m9 0h0m4 0h0m-17 1h0m4 0h0m2 0h0m10 0h0m-26 1h0m11 0h0m3 0h0m7 2h0m4 0h0m-15 1h0m3 0h0m5 0h0m6 0h0m5 0h0m-21 1h0m15 0h0m1 0h0m5 0h0m-22 1h0m23 0h0m1 0h0m3 0h0m-31 2h0m10 0h0m13 0h0m5 0h0m4 0h0m1 0h0m3 0h0m-30 1h0m2 0h0m23 0h0m-32 1h0m2 0h0m24 0h0m6 1h0m-7 1h0m3 0h0m5 0h0m3 0h0m0 1h0m-37 1h0m34 0h0m7 0h0m-14 1h0m10 0h0m2 0h0m-5 1h0m1 0h0m2 0h0m-42 1h0m1 0h0m1 0h0m-4 1h0m3 0h0m46 0h0m-12 1h0m4 0h0m3 0h0m2 0h0m-5 2h0m6 0h0m-4 1h0m-49 2h0m49 0h0m1 0h0m-5 1h0m6 1h0m-50 1h0m44 0h0m6 0h0m-63 1h0m61 0h0m-60 1h0m4 1h0m-3 1h0m6 1h0m50 0h0m1 0h0m4 0h0m-63 1h0m3 0h0m1 0h0m2 0h0m55 0h0m-62 2h0m6 0h0m51 0h0m4 0h0m-61 1h0m63 0h0m-60 1h0m3 0h0m53 0h0m-53 1h0m-4 2h0m4 0h0m54 0h0m2 0h0m-56 1h0m52 0h0m-1 1h0m4 0h0m-1 1h0m-59 1h0m4 0h0m-14 1h0m1 0h0m6 0h0m58 0h0m-53 1h0m-12 1h0m7 0h0m1 0h0m-10 1h0m66 0h0m-66 1h0m2 0h0m7 0h0m57 0h0m2 0h0m-63 1h0m3 0h0m75 0h0m-83 1h0m1 0h0m9 0h0m73 0h0m-80 1h0m4 0h0m70 0h0m2 1h0m-94 1h0m1 0h0m24 0h0m-24 1h0m18 0h0m62 0h0m11 0h0m-74 1h0m3 0h0m5 1h0m69 0h0m-1 1h0m0 1h0m-15 1h0m5 0h0m-72 1h0m2 1h0m-2 1h0m16 0h0m54 0h0m1 0h0m-72 1h0m67 0h0m5 0h0m-57 1h0m51 0h0m8 0h0m3 0h0m-64 1h0m53 0h0m-51 1h0m52 0h0m1 0h0m-55 1h0m63 0h0m-61 1h0m2 0h0m-8 1h0m5 0h0m2 0h0m50 0h0m-53 1h0m-4 2h0m1 0h0m62 0h0m3 0h0m-1 1h0m-100 1h0m35 0h0m5 0h0m2 0h0m46 0h0m7 0h0m3 0h0m4 0h0m-68 1h0m69 0h0m-66 1h0m9 0h0m41 0h0m9 0h0m1 0h0m1 0h0m4 0h0m-111 1h0m46 0h0m7 0h0m2 0h0m42 0h0m9 0h0m-105 2h0m8 0h0m1 0h0m2 0h0m2 0h0m79 0h0m-91 1h0m10 1h0m79 0h0m-90 1h0m54 0h0m39 0h0m-96 1h0m92 0h0m-93 1h0m1 0h0m3 0h0m2 0h0m5 0h0m1 0h0m35 0h0m-47 1h0m13 0h0m-15 1h0m2 0h0m93 0h0m-35 1h0m-61 1h0m9 0h0m39 0h0m1 0h0m3 0h0m-53 1h0m16 0h0m8 0h0m27 0h0m42 0h0m16 0h0m1 0h0m-97 1h0m41 0h0m9 0h0m23 0h0m13 0h0m-97 1h0m18 0h0m3 0h0m40 0h0m31 0h0m2 0h0m2 0h0m9 0h0m3 0h0m3 0h0m-112 1h0m15 0h0m7 0h0m2 0h0m28 0h0m12 0h0m4 0h0m42 0h0m-119 1h0m1 0h0m7 0h0m24 0h0m34 0h0m5 0h0m3 0h0m2 0h0m19 0h0m16 0h0m2 0h0m-51 1h0m5 0h0m51 0h0m-116 1h0m6 0h0m71 0h0m5 0h0m8 0h0m7 0h0m4 0h0m1 0h0m6 0h0m8 0h0m-113 1h0m61 0h0m8 0h0m1 0h0m1 0h0m21 0h0m4 0h0m2 0h0m2 0h0m7 0h0m-108 1h0m60 0h0m9 0h0m8 0h0m11 0h0m12 0h0m-101 1h0m27 0h0m23 0h0m19 0h0m7 0h0m2 0h0m25 0h0m3 0h0m-103 1h0m43 0h0m19 0h0m3 0h0m24 0h0m8 0h0m6 0h0m-56 1h0m43 0h0m1 0h0m7 0h0m-55 1h0m3 0h0m42 0h0m7 0h0m9 0h0m-35 1h0m3 0h0m15 0h0m-92 1h0m33 0h0m43 0h0m29 0h0m-106 1h0m38 0h0m10 0h0m41 0h0m1 0h0m4 0h0m-56 1h0m38 0h0m12 0h0m-88 1h0m33 0h0m46 0h0m8 0h0m-48 1h0m2 0h0m1 0h0m36 0h0m5 0h0m5 0h0m-52 1h0m2 0h0m42 0h0m8 0h0m-88 1h0m36 0h0m1 0h0m43 1h0m1 0h0m-40 1h0m41 0h0m-83 1h0m2 1h0m33 0h0m-34 1h0m81 0h0m-2 1h0m-77 1h0m1 0h0m73 0h0m-73 1h0m31 0h0m-30 1h0m-2 3h0m3 0h0m0 2h0m13 0h0m6 0h0m5 0h0m-5 1h0m-19 1h0m4 0h0m8 0h0m1 0h0m8 0h0m-16 1h0m11 0h0m-10 1h0m2 0h0" stroke="#6579bf" stroke-width="1.05" opacity="0.6"/>
<path d="M450 759h0m0 2h0m0 1h0m5 0h0m-3 1h0m4 0h0m5 0h0m-1 1h0m-4 1h0m3 0h0m-8 1h0m2 0h0m2 0h0m-3 1h0m5 0h0m4 0h0m-14 1h0m7 0h0m2 0h0m4 0h0m-13 1h0m2 0h0m3 0h0m3 0h0m-15 1h0m3 0h0m5 0h0m11 0h0m4 0h0m9 0h0m-29 1h0m10 0h0m19 0h0m-30 1h0m9 0h0m3 0h0m-16 2h0m25 0h0m-27 1h0m0 1h0m1 0h0m27 0h0m-29 3h0m30 0h0m-31 1h0m-6 1h0m39 0h0m-39 1h0m2 0h0m1 0h0m2 0h0m-7 1h0m3 0h0m1 0h0m2 0h0m-5 1h0m40 0h0m-43 2h0m5 0h0m-6 1h0m1 0h0m45 0h0m-47 1h0m4 0h0m42 0h0m-45 1h0m44 0h0m-40 1h0m41 0h0m-46 2h0m1 0h0m40 0h0m-40 1h0m1 0h0m1 0h0m40 0h0m-46 1h0m3 0h0m3 0h0m38 0h0m1 0h0m-39 1h0m40 1h0m1 0h0m-47 1h0m48 0h0m-49 1h0m1 0h0m3 0h0m1 0h0m-4 1h0m2 2h0m-2 1h0m46 2h0m-49 1h0m2 0h0m-3 1h0m1 0h0m1 0h0m46 0h0m-49 1h0m51 0h0m0 1h0m-53 1h0m53 0h0m-1 3h0m-51 1h0m52 2h0m-52 1h0m-1 1h0m3 0h0m48 0h0m-48 1h0m2 1h0m-3 1h0m44 0h0m1 0h0m-45 2h0m2 0h0m1 0h0m42 0h0m-43 1h0m3 0h0m0 2h0m42 0h0m-45 1h0m2 2h0m38 0h0m1 0h0m-1 2h0m1 0h0m-38 1h0m35 0h0m-5 1h0m1 0h0m1 0h0m1 0h0m-2 2h0m5 0h0m-44 1h0m1 0h0m39 0h0m-1 1h0m1 0h0m-43 1h0m1 0h0m3 0h0m2 0h0m37 0h0m2 0h0m-40 1h0m-7 1h0m3 0h0m2 0h0m3 0h0m1 0h0m34 0h0m-40 1h0m1 0h0m-2 1h0m-2 1h0m2 0h0m11 0h0m1 0h0m12 0h0m1 0h0m11 0h0m2 0h0m3 0h0m-42 1h0m1 0h0m2 0h0m1 0h0m35 0h0m-40 1h0m34 0h0m7 0h0m2 0h0m-41 1h0m13 0h0m21 0h0m2 0h0m-34 1h0m2 0h0m1 0h0m30 0h0m2 0h0m-84 1h0m3 0h0m1 0h0m48 0h0m27 0h0m-72 1h0m42 0h0m26 0h0m-26 1h0m2 0h0m12 0h0m4 0h0m4 0h0m6 0h0m-80 1h0m55 0h0m13 0h0m5 0h0m-72 1h0m13 0h0m1 0h0m2 0h0m51 0h0m4 0h0m-58 1h0m51 0h0m2 0h0m12 0h0m-63 1h0m1 0h0m57 0h0m4 0h0m-1 1h0m-2 1h0m2 0h0m-61 1h0m56 0h0m2 0h0m-81 2h0m2 0h0m23 1h0m55 0h0m1 0h0m4 0h0m1 0h0m-88 1h0m84 0h0m3 0h0m-88 1h0m28 0h0m0 1h0m54 0h0m1 0h0m-83 1h0m1 1h0m0 2h0m29 0h0m-29 1h0m30 0h0m-29 1h0m1 0h0m26 1h0m-27 2h0m29 0h0m-28 1h0m22 0h0m3 0h0m2 0h0m-2 1h0m0 1h0m1 0h0m-5 1h0m1 0h0m3 0h0m3 0h0m-26 1h0m24 0h0m1 0h0m-26 1h0m20 0h0m1 0h0m4 0h0m-9 1h0m1 0h0m3 0h0m1 0h0m-8 1h0m1 0h0m-10 1h0m13 0h0m4 0h0m-14 1h0m1 0h0m1 1h0" stroke="#556cb9" stroke-width="1.05" opacity="0.7"/>
<path d="M447 771h0m2 2h0m9 0h0m3 0h0m-22 1h0m16 0h0m-17 1h0m1 0h0m12 0h0m3 0h0m8 0h0m-21 1h0m10 0h0m2 0h0m-14 1h0m23 0h0m-26 2h0m1 0h0m25 2h0m1 0h0m2 1h0m-31 1h0m28 0h0m-26 1h0m28 0h0m-29 1h0m27 0h0m2 0h0m-34 1h0m3 0h0m-1 1h0m33 0h0m-1 1h0m-35 1h0m1 0h0m34 0h0m1 0h0m-37 2h0m1 0h0m33 0h0m-33 1h0m28 0h0m3 0h0m-33 1h0m27 0h0m3 0h0m-3 1h0m0 1h0m2 0h0m1 0h0m-30 1h0m29 0h0m4 0h0m-2 1h0m5 1h0m-39 1h0m3 0h0m36 0h0m-38 1h0m38 0h0m-40 1h0m2 0h0m-2 1h0m1 0h0m-2 1h0m-1 1h0m1 0h0m3 0h0m37 0h0m1 0h0m-43 1h0m1 0h0m0 1h0m3 0h0m-3 1h0m1 0h0m-3 1h0m5 0h0m-6 1h0m-1 1h0m38 0h0m1 0h0m1 0h0m5 0h0m-48 1h0m2 0h0m5 0h0m1 0h0m36 0h0m1 0h0m-43 1h0m6 0h0m33 0h0m5 0h0m1 0h0m-46 1h0m6 0h0m38 0h0m1 0h0m3 0h0m-47 1h0m1 0h0m1 0h0m1 0h0m1 0h0m36 0h0m4 0h0m-46 1h0m6 0h0m37 0h0m2 0h0m-45 1h0m1 0h0m1 0h0m5 0h0m38 0h0m2 0h0m-43 1h0m3 0h0m35 0h0m1 0h0m-37 1h0m0 2h0m1 0h0m36 0h0m-37 2h0m36 0h0m1 0h0m-1 1h0m-2 1h0m1 0h0m1 1h0m-36 1h0m29 0h0m4 0h0m2 0h0m-33 1h0m26 0h0m-27 1h0m1 0h0m30 0h0m1 0h0m1 0h0m-33 1h0m2 0h0m25 0h0m4 0h0m-29 1h0m29 0h0m-32 1h0m1 0h0m28 1h0m-29 2h0m0 1h0m26 2h0m-18 1h0m19 0h0m-27 1h0m9 0h0m7 0h0m-16 1h0m3 0h0m15 0h0m3 0h0m3 0h0m2 0h0m-24 1h0m4 0h0m10 0h0m3 0h0m1 0h0m2 0h0m3 0h0m-25 1h0m3 0h0m5 0h0m3 0h0m4 0h0m9 0h0m-21 1h0m1 0h0m1 0h0m1 0h0m8 0h0m3 0h0m-12 1h0m2 0h0m2 0h0m5 0h0m2 0h0m2 0h0m-12 1h0m3 0h0m5 0h0m-8 1h0m6 0h0m2 0h0m-5 1h0m1 0h0m3 0h0m3 0h0m1 0h0m-4 1h0m4 0h0m-75 1h0m1 0h0m-3 1h0m4 0h0m1 0h0m-5 1h0m5 0h0m-6 1h0m3 0h0m2 0h0m4 0h0m1 1h0m-11 1h0m15 0h0m-15 1h0m13 0h0m2 0h0m0 2h0m-18 4h0m-2 1h0m-1 1h0m1 0h0m23 1h0m1 0h0m-24 2h0m21 2h0m3 0h0m-25 1h0m20 2h0m-2 1h0m-15 2h0m12 0h0m2 0h0m-14 1h0m20 0h0m-9 1h0m1 0h0m-9 3h0m3 0h0m1 0h0" stroke="#4f70b7" stroke-width="1.24" opacity="0.7"/>
<path d="M444 772h0m1 1h0m0 1h0m2 0h0m10 0h0m2 0h0m2 0h0m-16 1h0m2 0h0m10 0h0m-16 1h0m2 0h0m1 0h0m4 0h0m3 0h0m6 0h0m1 0h0m3 0h0m-22 1h0m4 0h0m4 0h0m2 0h0m3 0h0m1 0h0m4 0h0m1 0h0m2 0h0m1 0h0m-23 1h0m4 0h0m1 0h0m-1 1h0m18 0h0m-22 1h0m1 0h0m2 0h0m17 0h0m1 0h0m1 0h0m1 0h0m-23 1h0m20 0h0m0 1h0m2 0h0m1 0h0m-23 1h0m18 0h0m2 1h0m1 0h0m-2 1h0m2 1h0m3 0h0m1 0h0m-29 1h0m1 0h0m19 0h0m0 1h0m1 0h0m1 0h0m1 0h0m1 0h0m3 0h0m1 0h0m-30 1h0m20 0h0m2 0h0m2 0h0m2 0h0m1 0h0m1 0h0m2 0h0m-29 1h0m19 0h0m3 0h0m4 0h0m1 0h0m3 0h0m-32 1h0m2 0h0m-3 1h0m2 0h0m25 0h0m2 0h0m-28 1h0m0 1h0m20 1h0m-22 1h0m23 0h0m-24 1h0m26 2h0m3 0h0m1 0h0m1 0h0m-31 1h0m29 0h0m-30 1h0m1 0h0m30 0h0m0 1h0m2 1h0m-4 1h0m4 0h0m-34 2h0m1 0h0m26 0h0m5 0h0m1 0h0m1 0h0m-2 1h0m1 0h0m2 0h0m-9 1h0m2 0h0m6 0h0m0 1h0m0 1h0m-36 2h0m28 0h0m2 0h0m-2 2h0m-30 1h0m32 1h0m1 0h0m-4 2h0m1 0h0m1 0h0m-31 1h0m28 0h0m3 0h0m1 1h0m-33 1h0m28 0h0m5 0h0m-29 1h0m25 0h0m2 0h0m2 0h0m-32 1h0m2 0h0m30 0h0m-32 1h0m27 0h0m2 0h0m-2 1h0m-25 1h0m1 0h0m-1 3h0m3 0h0m19 0h0m-22 1h0m2 0h0m1 0h0m20 0h0m-24 1h0m2 0h0m-4 1h0m1 1h0m2 0h0m-1 1h0m23 0h0m1 0h0m-25 1h0m1 0h0m23 0h0m1 0h0m-24 1h0m-1 1h0m1 0h0m2 0h0m2 0h0m2 0h0m1 0h0m1 0h0m4 0h0m2 0h0m-15 1h0m3 0h0m2 0h0m3 0h0m3 0h0m8 0h0m-18 1h0m16 0h0m-17 1h0m3 0h0m13 0h0m-77 12h0m1 0h0m3 0h0m1 0h0m1 0h0m-4 1h0m3 0h0m1 0h0m-4 1h0m-2 1h0m1 0h0m5 0h0m3 1h0m-11 1h0m0 1h0m-5 4h0m19 0h0m1 0h0m-20 1h0m20 0h0m-1 1h0m1 0h0m-19 2h0m0 1h0m19 0h0m-19 1h0m16 0h0m1 0h0m-1 1h0m-16 1h0m-1 1h0m14 0h0m-3 3h0m-8 1h0m8 0h0m-8 1h0m1 0h0m0 1h0m1 0h0m1 0h0m1 0h0m-1 1h0" stroke="#4a74b6" stroke-width="1.24" opacity="0.7"/>
<path d="M445 778h0m2 0h0m4 0h0m0 1h0m1 0h0m-9 1h0m2 0h0m6 0h0m1 0h0m-10 1h0m1 0h0m1 0h0m10 0h0m1 0h0m-14 2h0m13 0h0m0 1h0m-16 1h0m14 0h0m-14 1h0m14 0h0m1 0h0m-17 1h0m1 0h0m15 0h0m-1 1h0m-17 1h0m1 0h0m15 1h0m-15 2h0m16 1h0m-20 1h0m2 0h0m18 0h0m-20 2h0m21 0h0m1 3h0m4 1h0m-2 1h0m0 1h0m1 0h0m1 0h0m2 0h0m-5 1h0m1 0h0m4 0h0m-5 1h0m2 0h0m2 0h0m-30 1h0m24 0h0m1 0h0m2 0h0m0 1h0m-4 1h0m-24 1h0m23 0h0m1 0h0m-24 1h0m24 0h0m0 2h0m-26 1h0m23 0h0m-24 1h0m1 0h0m23 0h0m-23 1h0m23 0h0m3 1h0m1 0h0m1 0h0m-28 1h0m24 0h0m2 0h0m-26 1h0m23 0h0m1 0h0m1 0h0m1 0h0m1 0h0m1 0h0m-28 1h0m20 0h0m2 0h0m2 0h0m1 0h0m-26 1h0m1 0h0m21 0h0m1 0h0m-1 1h0m-22 1h0m1 0h0m1 0h0m1 0h0m-2 1h0m2 0h0m1 0h0m1 0h0m18 0h0m-1 1h0m-20 1h0m19 0h0m1 0h0m-18 1h0m18 0h0m-18 1h0m18 0h0m-18 1h0m1 0h0m-1 1h0m0 1h0m1 1h0m15 0h0m-15 1h0m-2 1h0m3 0h0m2 0h0m13 0h0m-15 1h0m2 0h0m1 0h0m11 0h0m-19 1h0m1 0h0m1 0h0m2 0h0m1 0h0m1 0h0m5 0h0m-12 1h0m2 0h0m5 0h0m3 0h0m9 0h0m1 0h0m-20 1h0m11 0h0m3 0h0m6 0h0m1 0h0m-6 1h0m2 0h0m1 0h0m0 1h0m-82 18h0m9 0h0m-5 1h0m1 0h0m1 0h0m-6 1h0m1 0h0m4 0h0m2 0h0m1 0h0m2 0h0m1 0h0m-12 1h0m1 0h0m1 0h0m3 0h0m6 0h0m-12 1h0m1 0h0m1 0h0m3 0h0m1 0h0m6 0h0m1 0h0m-10 1h0m2 0h0m1 0h0m-2 1h0m2 0h0m-8 1h0m1 0h0m2 0h0m1 0h0m1 0h0m4 0h0m7 0h0m1 0h0m-16 1h0m1 0h0m6 0h0m7 1h0m1 0h0m-15 1h0m-1 1h0m1 0h0m0 1h0m13 0h0m-2 1h0m-12 4h0m9 0h0m-4 1h0m5 0h0m-6 2h0m3 0h0" stroke="#4c7fae" stroke-width="1.24" opacity="1.0"/>
<path d="M447 780h0m2 0h0m1 0h0m2 0h0m1 0h0m-6 1h0m3 0h0m1 0h0m2 0h0m-11 1h0m3 0h0m1 0h0m6 0h0m-10 1h0m2 0h0m2 0h0m1 0h0m3 0h0m2 0h0m-7 1h0m5 0h0m1 0h0m-12 1h0m1 0h0m1 0h0m1 0h0m1 0h0m5 1h0m3 0h0m-12 1h0m10 0h0m2 0h0m-1 1h0m-14 1h0m0 2h0m12 0h0m1 0h0m-1 1h0m1 0h0m-14 1h0m13 0h0m0 1h0m1 0h0m-17 1h0m1 0h0m15 0h0m-17 1h0m17 0h0m2 0h0m-20 1h0m1 0h0m18 0h0m1 0h0m1 1h0m-21 1h0m1 0h0m20 0h0m-21 1h0m20 0h0m2 0h0m-22 1h0m0 1h0m1 0h0m19 0h0m1 0h0m1 0h0m-1 1h0m2 0h0m-23 2h0m21 0h0m-22 1h0m21 0h0m-22 2h0m20 1h0m1 0h0m-23 1h0m21 0h0m1 1h0m-2 1h0m3 0h0m-3 1h0m0 1h0m-2 3h0m1 0h0m-18 1h0m2 2h0m2 0h0m13 0h0m-16 1h0m3 0h0m13 0h0m1 0h0m-13 1h0m1 0h0m11 0h0m-12 1h0m12 0h0m1 0h0m-12 1h0m-3 1h0m1 0h0m13 0h0m1 0h0m-1 1h0m-14 1h0m1 0h0m14 0h0m-15 1h0m1 0h0m11 0h0m-12 1h0m13 0h0m-14 1h0m1 0h0m1 0h0m2 0h0m-1 1h0m2 0h0m1 0h0m3 0h0m3 0h0m1 0h0m1 0h0m-11 1h0m2 0h0m1 0h0m1 0h0m2 0h0m2 0h0m1 0h0m1 0h0m1 0h0m-7 1h0m1 0h0m1 0h0m1 0h0m1 0h0m3 0h0m-9 1h0m2 0h0m2 0h0m2 0h0m1 0h0m2 0h0m-5 1h0m3 0h0m1 0h0m-2 1h0m2 0h0m1 0h0m-75 22h0m-2 1h0m2 0h0m-3 1h0m3 0h0m3 0h0m-3 1h0m2 0h0m-4 1h0m2 0h0m2 0h0m1 0h0m-4 1h0m3 0h0m-11 1h0m2 0h0m5 0h0m-8 1h0m2 0h0m3 0h0m2 0h0m1 0h0m2 0h0m2 0h0m-12 1h0m1 0h0m3 0h0m4 0h0m1 0h0m-8 1h0m9 0h0m1 0h0m-3 1h0m1 0h0m-11 1h0m11 0h0m-11 1h0m10 0h0m-9 1h0m9 0h0m1 0h0m-10 1h0m2 0h0m5 0h0m1 0h0m-7 1h0" stroke="#54949e" stroke-width="1.24" opacity="1.0"/>
<path d="M448 783h0m1 0h0m-1 1h0m-2 1h0m1 0h0m2 0h0m-9 1h0m5 0h0m1 0h0m1 0h0m-3 1h0m1 0h0m1 0h0m-3 1h0m2 0h0m1 0h0m1 0h0m-10 1h0m1 0h0m8 0h0m1 0h0m-9 1h0m1 0h0m7 0h0m1 0h0m-1 1h0m1 0h0m-1 1h0m-9 1h0m-2 1h0m-1 1h0m13 0h0m1 1h0m0 1h0m-16 1h0m1 0h0m15 1h0m1 0h0m-16 1h0m15 0h0m-16 1h0m1 0h0m16 0h0m1 0h0m-17 1h0m-1 1h0m16 2h0m-18 2h0m-1 1h0m2 0h0m15 1h0m-18 1h0m18 0h0m0 1h0m-21 1h0m21 0h0m-20 1h0m18 0h0m1 0h0m-19 1h0m1 0h0m0 1h0m-1 1h0m1 0h0m17 0h0m-17 1h0m5 1h0m10 0h0m-14 1h0m1 0h0m2 0h0m1 0h0m1 0h0m1 0h0m1 0h0m3 0h0m1 0h0m1 0h0m3 0h0m-10 1h0m5 0h0m2 0h0m3 0h0m-11 1h0m3 0h0m1 0h0m3 0h0m1 0h0m1 0h0m-9 1h0m2 0h0m1 0h0m3 0h0m3 0h0m-6 1h0m1 0h0m6 0h0m-8 1h0m3 0h0m-3 1h0m-3 1h0m3 0h0m3 0h0m4 0h0m1 0h0m1 0h0m-11 1h0m2 0h0m2 0h0m4 0h0m2 0h0m-10 1h0m1 0h0m3 0h0m1 0h0m1 0h0m1 0h0m2 0h0m-6 1h0m1 0h0m-2 1h0m6 0h0m-79 36h0m2 0h0m2 1h0m-5 1h0m1 0h0m-3 1h0m6 0h0m1 0h0m-8 1h0m1 0h0m6 0h0m-6 1h0m0 1h0m1 0h0m3 0h0m1 0h0m2 0h0m-4 1h0m1 0h0m1 0h0m-2 1h0" stroke="#5fa288" stroke-width="1.24" opacity="1.0"/>
<path d="M440 788h0m2 0h0m1 0h0m2 0h0m-5 1h0m1 0h0m-3 1h0m1 0h0m3 0h0m1 0h0m2 0h0m-7 1h0m7 0h0m-7 1h0m1 0h0m4 0h0m2 0h0m-6 1h0m6 0h0m-6 1h0m5 0h0m1 0h0m-9 1h0m1 0h0m7 0h0m1 0h0m-11 1h0m3 0h0m8 0h0m-11 1h0m1 0h0m11 0h0m0 1h0m-11 2h0m-1 1h0m1 0h0m-2 2h0m2 0h0m13 0h0m1 0h0m-16 1h0m15 0h0m1 0h0m-17 1h0m1 0h0m-1 1h0m1 0h0m13 0h0m1 1h0m-15 1h0m15 0h0m-17 1h0m1 0h0m-2 1h0m2 0h0m-3 1h0m1 0h0m16 0h0m-17 1h0m1 0h0m0 2h0m12 0h0m-13 1h0m1 0h0m13 0h0m-1 1h0m-2 1h0m1 0h0m2 0h0m1 0h0m-15 1h0m6 0h0m1 0h0m7 0h0m-4 4h0m1 0h0m-3 2h0m4 0h0m1 0h0m-4 1h0m1 0h0m1 0h0m1 0h0m1 0h0m0 1h0m-81 42h0m1 0h0m0 1h0m1 0h0m1 0h0m-3 1h0m2 0h0m-2 1h0m1 0h0m1 0h0m1 0h0m-2 1h0" stroke="#6eab6c" stroke-width="1.24" opacity="1.0"/>
<path d="M443 790h0m-3 1h0m1 0h0m1 0h0m-2 1h0m2 0h0m1 0h0m-1 1h0m1 0h0m-3 1h0m1 0h0m1 0h0m-3 1h0m2 0h0m1 0h0m1 0h0m-7 1h0m5 0h0m2 0h0m1 1h0m-10 1h0m2 0h0m1 0h0m5 0h0m2 1h0m1 0h0m-1 1h0m1 0h0m1 0h0m1 0h0m-1 1h0m0 1h0m0 1h0m1 0h0m-12 1h0m11 0h0m1 0h0m-13 1h0m12 0h0m1 0h0m-2 4h0m-14 1h0m1 0h0m1 0h0m12 0h0m-15 1h0m1 0h0m0 1h0m11 1h0m1 0h0m-3 1h0m1 0h0m-1 1h0m-10 1h0m1 0h0m2 0h0m8 0h0m-11 1h0m1 0h0m1 0h0m1 0h0m-3 1h0" stroke="#7bb257" stroke-width="1.24" opacity="1.0"/>
<path d="M437 796h0m3 0h0m1 0h0m-3 1h0m1 0h0m2 0h0m-4 1h0m1 0h0m1 0h0m1 0h0m1 0h0m1 0h0m-6 1h0m1 0h0m1 0h0m1 0h0m1 0h0m1 0h0m2 0h0m-8 1h0m3 0h0m1 0h0m2 0h0m2 0h0m1 0h0m-7 1h0m2 0h0m5 0h0m1 0h0m-9 1h0m1 0h0m0 2h0m8 0h0m-9 1h0m9 0h0m-11 1h0m1 0h0m1 0h0m1 0h0m6 0h0m1 0h0m-9 1h0m0 1h0m10 0h0m-11 1h0m9 0h0m-9 1h0m8 0h0m1 0h0m-11 1h0m10 0h0m-12 1h0m1 0h0m9 0h0m1 0h0m1 0h0m1 0h0m-13 1h0m2 0h0m1 0h0m7 0h0m-10 1h0m1 0h0m2 0h0m2 0h0m2 0h0m1 0h0m2 0h0m-9 1h0m3 0h0m1 0h0m1 0h0m1 0h0m1 0h0m1 0h0m-8 1h0m1 0h0m4 0h0m1 0h0" stroke="#7fb455" stroke-width="1.24" opacity="1.0"/>
<path d="M440 800h0m1 0h0m0 1h0m-2 1h0m1 0h0m1 0h0m4 0h0m-8 1h0m1 0h0m2 0h0m1 0h0m1 0h0m1 0h0m-5 1h0m1 0h0m1 0h0m1 0h0m1 0h0m2 0h0m-7 1h0m1 0h0m1 0h0m3 0h0m-5 1h0m1 0h0m3 0h0m1 0h0m1 0h0m-1 1h0m0 1h0m-2 1h0m1 0h0m-6 1h0m5 0h0m-6 1h0m6 0h0m1 0h0m-6 1h0m3 0h0m1 0h0m2 0h0m-6 1h0m1 0h0m1 0h0m1 0h0m1 0h0m-2 1h0m2 0h0" stroke="#84b653" stroke-width="1.24" opacity="1.0"/>
<path d="M440 804h0m1 1h0m-3 1h0m2 0h0m-2 1h0m1 0h0m1 0h0m-4 1h0m1 0h0m2 0h0m-3 1h0m2 0h0m-2 1h0m1 0h0m1 0h0m-2 1h0m1 0h0m1 0h0m1 0h0m0 1h0" stroke="#89b851" stroke-width="1.24" opacity="1.0"/>
</g></g>
<ellipse cx="190.2" cy="382.2" rx="12.5" ry="8.3" transform="rotate(-28 190.2 382.2)" fill="none" stroke="#a27ab4" stroke-width="0.75"/>
<path d="M173,398 C174,392 185,390 196,389.8 C204,389.5 208,393 206,400 C204,409 197,419 186,420 C178,421 172,416 172.5,408 Z" fill="none" stroke="#a27ab4" stroke-width="0.75"/>
<ellipse cx="220.9" cy="402.4" rx="10" ry="19.6" transform="rotate(22 220.9 402.4)" fill="none" stroke="#a27ab4" stroke-width="0.75"/>
<text x="172.2" y="373.8" font-size="4.8" fill="#9466a6">0.659</text>
<text x="198.7" y="419" font-size="4.8" fill="#9466a6">2.2</text>
<text x="233.6" y="414.4" font-size="4.8" fill="#9466a6">54.1</text>
<rect x="268.6" y="368.5" width="75.5" height="75.7" fill="none" stroke="#888" stroke-width="0.6"/>
<line x1="268.6" y1="368.5" x2="268.6" y2="444.7" stroke="#000" stroke-width="0.9"/>
<line x1="268.1" y1="444.2" x2="344.1" y2="444.2" stroke="#000" stroke-width="0.9"/>
<line x1="266.6" y1="374" x2="268.6" y2="374" stroke="#000" stroke-width="0.7"/>
<text x="265" y="375.9" font-size="4.9" text-anchor="end" fill="#222">10<tspan dy="-1.8" font-size="3.2">5</tspan></text>
<line x1="266.6" y1="390.9" x2="268.6" y2="390.9" stroke="#000" stroke-width="0.7"/>
<text x="265" y="392.8" font-size="4.9" text-anchor="end" fill="#222">10<tspan dy="-1.8" font-size="3.2">4</tspan></text>
<line x1="266.6" y1="408.5" x2="268.6" y2="408.5" stroke="#000" stroke-width="0.7"/>
<text x="265" y="410.4" font-size="4.9" text-anchor="end" fill="#222">10<tspan dy="-1.8" font-size="3.2">3</tspan></text>
<line x1="266.6" y1="426.9" x2="268.6" y2="426.9" stroke="#000" stroke-width="0.7"/>
<text x="265" y="428.8" font-size="4.9" text-anchor="end" fill="#222">10<tspan dy="-1.8" font-size="3.2">2</tspan></text>
<line x1="266.6" y1="435.3" x2="268.6" y2="435.3" stroke="#000" stroke-width="0.7"/>
<text x="265.6" y="437.2" font-size="4.9" text-anchor="end" fill="#222">0</text>
<line x1="267.6" y1="378.5" x2="268.6" y2="378.5" stroke="#000" stroke-width="0.5"/>
<line x1="267.6" y1="382.5" x2="268.6" y2="382.5" stroke="#000" stroke-width="0.5"/>
<line x1="267.6" y1="385.5" x2="268.6" y2="385.5" stroke="#000" stroke-width="0.5"/>
<line x1="267.6" y1="387.5" x2="268.6" y2="387.5" stroke="#000" stroke-width="0.5"/>
<line x1="267.6" y1="396.5" x2="268.6" y2="396.5" stroke="#000" stroke-width="0.5"/>
<line x1="267.6" y1="400.5" x2="268.6" y2="400.5" stroke="#000" stroke-width="0.5"/>
<line x1="267.6" y1="403.5" x2="268.6" y2="403.5" stroke="#000" stroke-width="0.5"/>
<line x1="267.6" y1="405.5" x2="268.6" y2="405.5" stroke="#000" stroke-width="0.5"/>
<line x1="267.6" y1="414.5" x2="268.6" y2="414.5" stroke="#000" stroke-width="0.5"/>
<line x1="267.6" y1="418.5" x2="268.6" y2="418.5" stroke="#000" stroke-width="0.5"/>
<line x1="267.6" y1="421.5" x2="268.6" y2="421.5" stroke="#000" stroke-width="0.5"/>
<line x1="267.6" y1="423.5" x2="268.6" y2="423.5" stroke="#000" stroke-width="0.5"/>
<line x1="277.6" y1="444.2" x2="277.6" y2="446.2" stroke="#000" stroke-width="0.7"/>
<text x="277.6" y="452.6" font-size="4.9" text-anchor="middle" fill="#222">0</text>
<line x1="284.1" y1="444.2" x2="284.1" y2="446.2" stroke="#000" stroke-width="0.7"/>
<text x="285.5" y="452.6" font-size="4.9" text-anchor="middle" fill="#222">10<tspan dy="-1.8" font-size="3.2">2</tspan></text>
<line x1="303.1" y1="444.2" x2="303.1" y2="446.2" stroke="#000" stroke-width="0.7"/>
<text x="304.5" y="452.6" font-size="4.9" text-anchor="middle" fill="#222">10<tspan dy="-1.8" font-size="3.2">3</tspan></text>
<line x1="321.1" y1="444.2" x2="321.1" y2="446.2" stroke="#000" stroke-width="0.7"/>
<text x="322.5" y="452.6" font-size="4.9" text-anchor="middle" fill="#222">10<tspan dy="-1.8" font-size="3.2">4</tspan></text>
<line x1="339.1" y1="444.2" x2="339.1" y2="446.2" stroke="#000" stroke-width="0.7"/>
<text x="340.5" y="452.6" font-size="4.9" text-anchor="middle" fill="#222">10<tspan dy="-1.8" font-size="3.2">5</tspan></text>
<line x1="289.6" y1="444.2" x2="289.6" y2="445.2" stroke="#000" stroke-width="0.5"/>
<line x1="293.6" y1="444.2" x2="293.6" y2="445.2" stroke="#000" stroke-width="0.5"/>
<line x1="296.6" y1="444.2" x2="296.6" y2="445.2" stroke="#000" stroke-width="0.5"/>
<line x1="298.6" y1="444.2" x2="298.6" y2="445.2" stroke="#000" stroke-width="0.5"/>
<line x1="307.6" y1="444.2" x2="307.6" y2="445.2" stroke="#000" stroke-width="0.5"/>
<line x1="311.6" y1="444.2" x2="311.6" y2="445.2" stroke="#000" stroke-width="0.5"/>
<line x1="314.6" y1="444.2" x2="314.6" y2="445.2" stroke="#000" stroke-width="0.5"/>
<line x1="316.6" y1="444.2" x2="316.6" y2="445.2" stroke="#000" stroke-width="0.5"/>
<line x1="325.6" y1="444.2" x2="325.6" y2="445.2" stroke="#000" stroke-width="0.5"/>
<line x1="329.6" y1="444.2" x2="329.6" y2="445.2" stroke="#000" stroke-width="0.5"/>
<line x1="332.6" y1="444.2" x2="332.6" y2="445.2" stroke="#000" stroke-width="0.5"/>
<line x1="334.6" y1="444.2" x2="334.6" y2="445.2" stroke="#000" stroke-width="0.5"/>
<line x1="271.6" y1="444.2" x2="271.6" y2="445.2" stroke="#000" stroke-width="0.5"/>
<line x1="273.6" y1="444.2" x2="273.6" y2="445.2" stroke="#000" stroke-width="0.5"/>
<line x1="280.6" y1="444.2" x2="280.6" y2="445.2" stroke="#000" stroke-width="0.5"/>
<text x="306.6" y="458.4" font-size="4.7" text-anchor="middle" fill="#222">&lt;APC-A&gt;: CD11c</text>
<text transform="translate(256.3,406.9) rotate(-90)" font-size="4.6" text-anchor="middle" fill="#222">&lt;PE-Cy7-A&gt;: CD11b</text>
<g filter="url(#sb)"><g transform="scale(.5)" stroke-linecap="square">
<path d="M569 738h0m25 0h0m5 0h0m3 0h0m14 0h0m3 0h0m-59 1h0m16 0h0m2 0h0m33 0h0m20 0h0m1 0h0m-83 1h0m5 0h0m2 0h0m54 1h0m20 0h0m-10 1h0m-77 1h0m90 0h0m10 0h0m-13 1h0m5 0h0m4 0h0m-91 1h0m95 0h0m-104 2h0m11 0h0m77 0h0m-78 1h0m77 1h0m12 0h0m24 0h0m-35 1h0m17 0h0m-10 1h0m-6 2h0m29 0h0m-117 3h0m0 1h0m111 0h0m9 0h0m-23 1h0m17 0h0m-18 2h0m24 2h0m-14 1h0m-8 1h0m11 1h0m-14 2h0m8 0h0m-1 1h0m23 0h0m8 1h0m-132 1h0m101 1h0m1 1h0m4 1h0m2 1h0m19 1h0m-5 4h0m-19 1h0m9 2h0m5 0h0m-17 1h0m14 1h0m-11 2h0m-2 2h0m12 1h0m1 0h0m-10 5h0m0 1h0m18 0h0m-15 2h0m-1 1h0m-15 1h0m9 0h0m6 0h0m6 0h0m1 1h0m11 2h0m-27 1h0m10 0h0m19 2h0m-24 1h0m6 1h0m6 0h0m27 0h0m-57 1h0m22 0h0m9 0h0m-12 1h0m16 0h0m-17 2h0m6 0h0m-8 1h0m22 0h0m-4 1h0m-12 1h0m-7 1h0m16 0h0m14 1h0m-4 2h0m3 0h0m-24 1h0m-10 1h0m3 0h0m5 0h0m25 0h0m-30 3h0m7 0h0m-1 3h0m11 0h0m1 1h0m-20 1h0m-2 1h0m3 0h0m5 0h0m-5 2h0m10 0h0m17 0h0m-32 2h0m-1 1h0m13 0h0m-22 1h0m34 0h0m-34 2h0m2 2h0m0 1h0m-19 1h0m23 0h0m14 0h0m14 1h0m-33 1h0m-3 1h0m17 0h0m-23 1h0m13 0h0m22 1h0m-32 1h0m43 0h0m-32 1h0m9 0h0m-36 2h0m7 1h0m1 0h0m22 0h0m2 0h0m-34 1h0m21 0h0m4 0h0m-7 2h0m9 0h0m-19 1h0m9 0h0m14 0h0m-33 1h0m4 0h0m7 0h0m2 2h0m8 0h0m-22 1h0m6 0h0m2 0h0m-10 1h0m22 0h0m-17 2h0m6 0h0m9 0h0m8 1h0m8 0h0m-8 1h0m-24 2h0m7 1h0m-4 1h0m19 0h0m8 1h0m-27 1h0m6 0h0m15 0h0m-15 3h0m-5 1h0m2 0h0m-12 1h0m1 0h0m6 0h0m25 0h0m-37 1h0m10 0h0m-11 1h0m11 2h0m3 0h0m7 0h0m-3 1h0m-21 1h0m35 0h0m-16 1h0m29 0h0m-48 1h0m12 0h0m-55 1h0m56 0h0m15 0h0m-59 1h0m16 0h0m5 0h0m-33 1h0m4 0h0m34 0h0m1 0h0m7 0h0m23 0h0m-27 1h0" stroke="#7587c5" stroke-width="1.05" opacity="0.6"/>
<path d="M573 739h0m13 0h0m2 0h0m1 0h0m18 0h0m-25 1h0m13 0h0m8 0h0m6 0h0m-50 1h0m6 0h0m1 0h0m2 0h0m7 0h0m8 0h0m7 0h0m5 0h0m8 0h0m1 0h0m-49 1h0m7 0h0m28 0h0m13 0h0m-40 1h0m16 0h0m3 0h0m11 0h0m-40 1h0m10 0h0m1 0h0m9 0h0m6 0h0m2 0h0m-23 1h0m1 0h0m15 0h0m3 0h0m11 0h0m1 0h0m11 0h0m2 0h0m9 0h0m2 0h0m3 0h0m3 0h0m2 0h0m1 0h0m-67 1h0m27 0h0m6 0h0m21 0h0m12 0h0m-25 1h0m13 0h0m0 1h0m6 0h0m8 0h0m-37 1h0m-31 1h0m65 0h0m-69 1h0m4 0h0m1 0h0m53 0h0m11 0h0m-69 2h0m-1 1h0m2 0h0m74 0h0m-73 1h0m-5 1h0m80 0h0m1 0h0m-84 1h0m7 0h0m72 0h0m7 0h0m-85 1h0m85 0h0m-86 1h0m10 0h0m72 0h0m1 0h0m-85 2h0m2 0h0m83 0h0m-83 1h0m3 0h0m73 0h0m5 0h0m-82 1h0m75 0h0m11 0h0m-18 2h0m3 0h0m13 0h0m2 0h0m2 0h0m-15 1h0m17 0h0m-2 2h0m-2 2h0m4 2h0m1 0h0m5 0h0m-95 2h0m87 0h0m2 0h0m1 0h0m-93 1h0m88 0h0m2 0h0m5 0h0m-15 1h0m11 0h0m8 0h0m-99 1h0m88 0h0m-6 1h0m1 0h0m1 0h0m1 0h0m1 0h0m6 0h0m3 0h0m2 0h0m-99 1h0m1 0h0m80 0h0m8 0h0m7 0h0m2 0h0m-17 1h0m3 0h0m2 0h0m-6 1h0m9 1h0m-89 1h0m78 0h0m17 0h0m3 0h0m-16 1h0m6 0h0m6 1h0m-94 1h0m83 0h0m8 0h0m5 0h0m-95 1h0m87 0h0m1 0h0m2 0h0m1 0h0m5 2h0m-12 1h0m1 0h0m13 0h0m-6 1h0m4 1h0m2 0h0m-9 1h0m5 0h0m1 0h0m-4 1h0m7 0h0m4 0h0m-5 1h0m0 1h0m-12 2h0m5 0h0m-4 1h0m-3 3h0m2 0h0m6 1h0m3 1h0m-9 1h0m3 0h0m5 0h0m-15 1h0m-79 1h0m89 0h0m7 0h0m-16 1h0m14 0h0m3 0h0m-8 1h0m-90 1h0m79 0h0m19 0h0m-8 1h0m2 0h0m3 0h0m-2 1h0m4 0h0m-13 1h0m2 0h0m-4 1h0m8 0h0m4 0h0m-94 1h0m79 0h0m12 0h0m-10 1h0m1 0h0m-11 1h0m12 0h0m-12 1h0m17 0h0m3 0h0m2 0h0m-14 1h0m-4 1h0m13 0h0m-13 1h0m4 0h0m3 0h0m5 0h0m3 0h0m-14 1h0m11 0h0m3 0h0m1 0h0m5 1h0m2 0h0m-2 1h0m-15 1h0m10 0h0m1 0h0m-18 1h0m2 0h0m6 0h0m-5 1h0m0 1h0m5 0h0m0 1h0m5 0h0m1 0h0m-14 1h0m1 0h0m3 0h0m7 0h0m3 0h0m-16 1h0m3 0h0m13 0h0m-7 1h0m-81 1h0m69 0h0m11 0h0m-13 1h0m13 0h0m-10 1h0m-6 1h0m1 0h0m12 0h0m-7 1h0m7 0h0m-6 1h0m4 0h0m-16 1h0m16 0h0m-3 1h0m-9 1h0m2 0h0m7 0h0m-13 1h0m-2 3h0m3 0h0m3 0h0m-4 2h0m1 0h0m-11 4h0m-1 1h0m2 0h0m3 0h0m2 0h0m-53 1h0m43 0h0m3 0h0m7 0h0m-55 1h0m51 2h0m-1 1h0m-1 1h0m1 1h0m1 0h0m-4 1h0m-45 1h0m45 0h0m19 2h0m7 0h0m-9 1h0m9 0h0m1 0h0m-26 1h0m3 0h0m2 0h0m2 0h0m2 0h0m14 0h0m-23 1h0m16 0h0m7 0h0m-69 1h0m47 0h0m2 0h0m0 1h0m3 0h0m-2 1h0m2 0h0m-52 1h0m44 0h0m6 0h0m-6 1h0m-4 1h0m4 0h0m6 0h0m3 0h0m-17 1h0m13 0h0m-49 1h0m38 0h0m-38 1h0m38 0h0m-39 1h0m39 0h0m23 1h0m-63 1h0m3 1h0m48 1h0m-21 1h0m20 0h0m-47 1h0m2 0h0m3 0h0m25 0h0m5 0h0m13 0h0m-38 1h0m12 0h0m12 0h0m2 0h0m-7 1h0m-2 1h0m5 0h0m-19 1h0m4 0h0m1 1h0" stroke="#6579bf" stroke-width="1.05" opacity="0.6"/>
<path d="M586 740h0m1 0h0m20 1h0m-36 1h0m16 0h0m1 0h0m-20 1h0m16 0h0m8 0h0m14 0h0m-37 1h0m3 0h0m32 0h0m2 0h0m1 0h0m-37 1h0m1 0h0m7 0h0m1 0h0m2 0h0m11 0h0m-27 1h0m4 0h0m23 0h0m1 0h0m2 0h0m8 0h0m-32 1h0m7 0h0m17 0h0m-32 1h0m41 0h0m2 0h0m12 0h0m1 0h0m-59 1h0m5 0h0m25 0h0m2 0h0m4 0h0m5 0h0m2 0h0m3 0h0m12 0h0m2 0h0m-61 1h0m20 0h0m1 0h0m11 0h0m11 0h0m-27 1h0m2 0h0m10 0h0m2 0h0m6 0h0m2 0h0m2 0h0m1 0h0m2 0h0m15 0h0m-58 1h0m1 0h0m3 0h0m17 0h0m2 0h0m5 0h0m4 0h0m1 0h0m5 0h0m4 0h0m-42 1h0m3 0h0m2 0h0m19 0h0m9 0h0m27 0h0m-9 1h0m1 0h0m4 0h0m5 0h0m-63 1h0m6 0h0m47 0h0m3 0h0m2 0h0m4 0h0m-61 1h0m2 0h0m59 0h0m1 0h0m-65 1h0m1 0h0m9 0h0m57 0h0m-59 1h0m50 0h0m7 0h0m-62 1h0m54 0h0m3 0h0m3 0h0m4 0h0m-11 1h0m-52 1h0m-5 1h0m58 0h0m-63 2h0m72 0h0m-75 1h0m1 0h0m2 0h0m60 0h0m11 0h0m3 0h0m0 1h0m2 0h0m2 0h0m-79 1h0m62 0h0m10 0h0m2 0h0m-12 1h0m7 0h0m2 0h0m3 0h0m1 0h0m1 0h0m1 0h0m2 0h0m-19 1h0m7 0h0m6 0h0m8 0h0m-21 1h0m12 0h0m-11 1h0m2 0h0m1 0h0m8 0h0m-7 1h0m1 0h0m2 0h0m-68 1h0m62 0h0m1 0h0m7 0h0m1 0h0m-72 1h0m68 0h0m4 0h0m1 0h0m-74 1h0m64 0h0m5 0h0m6 0h0m-76 1h0m74 0h0m-2 1h0m4 0h0m-79 1h0m70 0h0m5 0h0m1 0h0m-79 1h0m73 0h0m2 0h0m1 0h0m1 0h0m-77 1h0m1 0h0m2 0h0m72 0h0m-71 3h0m71 0h0m1 0h0m-1 1h0m-72 1h0m74 1h0m-75 1h0m2 0h0m75 0h0m2 0h0m10 2h0m-2 1h0m3 0h0m2 0h0m-93 1h0m81 0h0m6 1h0m3 0h0m-7 1h0m2 0h0m-84 1h0m80 0h0m1 0h0m1 0h0m4 0h0m1 0h0m-87 1h0m81 0h0m5 0h0m-87 1h0m1 0h0m84 0h0m-84 2h0m81 0h0m0 2h0m-81 1h0m76 0h0m4 0h0m-80 1h0m72 0h0m10 0h0m-10 1h0m4 0h0m2 0h0m4 0h0m-9 1h0m5 0h0m-6 1h0m1 1h0m2 0h0m-4 1h0m2 0h0m0 2h0m-1 1h0m1 1h0m-5 1h0m5 0h0m0 1h0m1 0h0m-9 1h0m7 0h0m1 0h0m1 0h0m-8 1h0m1 1h0m0 5h0m2 0h0m-71 2h0m1 0h0m1 0h0m69 0h0m-69 1h0m67 2h0m2 0h0m-13 1h0m2 0h0m-3 1h0m-2 2h0m10 0h0m-6 1h0m0 1h0m4 0h0m3 0h0m-65 1h0m66 0h0m8 0h0m-75 1h0m1 0h0m58 0h0m2 0h0m2 0h0m-1 1h0m12 0h0m-1 1h0m1 0h0m-13 1h0m14 0h0m1 0h0m-73 2h0m56 0h0m-56 1h0m54 0h0m-57 2h0m1 0h0m1 0h0m1 0h0m-1 2h0m56 0h0m-57 1h0m1 0h0m54 0h0m-10 1h0m2 0h0m4 0h0m3 0h0m-54 1h0m48 0h0m1 0h0m3 0h0m-53 1h0m45 0h0m8 0h0m-52 1h0m1 0h0m51 0h0m1 0h0m-11 1h0m11 0h0m-52 2h0m1 0h0m48 0h0m-48 2h0m37 0h0m1 0h0m-38 2h0m39 1h0m2 0h0m-41 1h0m43 0h0m1 0h0m-43 1h0m37 0h0m0 2h0m1 0h0m-5 1h0m1 0h0m4 0h0m-37 1h0m30 0h0m-30 1h0m30 0h0m8 0h0m-8 1h0m5 0h0m4 0h0m2 0h0m-39 1h0m30 0h0m7 0h0m-38 1h0m1 0h0m32 0h0m1 0h0m3 0h0m3 0h0m-9 1h0m2 0h0m-34 1h0m43 0h0m-43 1h0m1 0h0m36 0h0m2 0h0m-9 1h0m1 0h0m1 0h0m6 0h0m-41 2h0m1 0h0m0 1h0m2 0h0m-2 1h0m30 0h0m-29 1h0m32 0h0m-30 1h0m28 0h0m-26 2h0m5 0h0m0 1h0m1 0h0m11 0h0m5 0h0m-8 1h0m3 0h0m-11 2h0m6 0h0m-1 1h0m3 0h0" stroke="#556cb9" stroke-width="1.05" opacity="0.7"/>
<path d="M568 747h0m-3 1h0m3 0h0m3 1h0m1 0h0m-6 1h0m5 0h0m-5 1h0m2 0h0m1 0h0m1 0h0m-3 2h0m2 0h0m4 0h0m2 0h0m3 0h0m5 0h0m4 0h0m10 0h0m5 0h0m4 0h0m-31 1h0m1 0h0m6 0h0m6 0h0m1 0h0m3 0h0m3 0h0m8 0h0m1 0h0m1 0h0m-38 1h0m3 0h0m4 0h0m7 0h0m1 0h0m12 0h0m2 0h0m5 0h0m4 0h0m1 0h0m3 0h0m9 0h0m-47 1h0m5 0h0m26 0h0m2 0h0m1 0h0m5 0h0m4 0h0m2 0h0m2 0h0m-49 1h0m7 0h0m27 0h0m2 0h0m1 0h0m4 0h0m4 0h0m2 0h0m-52 1h0m39 0h0m2 0h0m3 0h0m10 0h0m1 0h0m-57 1h0m43 0h0m3 1h0m-50 1h0m0 1h0m47 0h0m2 0h0m1 0h0m-49 1h0m50 0h0m-57 1h0m2 0h0m51 0h0m-56 1h0m5 0h0m53 0h0m1 0h0m-57 1h0m54 0h0m3 0h0m-57 2h0m53 1h0m-54 1h0m55 0h0m-54 1h0m54 0h0m-1 1h0m1 0h0m-52 1h0m48 0h0m2 0h0m-54 1h0m4 0h0m53 0h0m1 1h0m-59 1h0m2 0h0m56 0h0m1 0h0m2 0h0m-60 1h0m-4 1h0m63 0h0m1 0h0m2 0h0m-1 1h0m1 0h0m-6 1h0m5 0h0m-63 1h0m0 1h0m64 0h0m1 0h0m-67 1h0m1 0h0m-1 1h0m1 0h0m64 0h0m1 0h0m-66 1h0m1 0h0m64 0h0m-64 1h0m1 0h0m67 0h0m-68 2h0m4 0h0m64 0h0m1 0h0m1 0h0m-5 1h0m6 0h0m-76 1h0m3 0h0m2 0h0m71 0h0m-76 1h0m1 0h0m3 0h0m74 0h0m-77 1h0m1 0h0m75 0h0m1 0h0m2 0h0m-5 2h0m1 0h0m1 0h0m-77 1h0m2 0h0m69 1h0m8 0h0m-2 1h0m-7 1h0m2 0h0m7 0h0m-78 1h0m67 0h0m4 0h0m3 0h0m1 0h0m2 0h0m1 0h0m-78 1h0m1 0h0m73 0h0m1 0h0m-76 1h0m1 0h0m78 0h0m1 0h0m-13 2h0m1 0h0m-65 1h0m1 0h0m63 1h0m1 0h0m-65 1h0m64 0h0m1 0h0m-1 1h0m1 0h0m-1 1h0m-66 1h0m64 0h0m3 0h0m1 0h0m-6 1h0m2 0h0m4 0h0m-68 1h0m62 0h0m1 0h0m1 0h0m1 0h0m-67 2h0m60 0h0m2 0h0m-6 1h0m9 0h0m-64 1h0m58 0h0m1 0h0m2 0h0m-62 1h0m54 0h0m1 0h0m1 0h0m1 0h0m5 0h0m2 0h0m-64 1h0m53 0h0m6 0h0m1 0h0m1 0h0m-61 1h0m53 0h0m3 0h0m5 0h0m-61 1h0m56 0h0m4 0h0m1 0h0m1 0h0m-61 1h0m57 0h0m1 0h0m3 0h0m1 0h0m-63 1h0m61 0h0m3 0h0m1 0h0m1 0h0m-3 1h0m2 0h0m-11 1h0m2 0h0m5 0h0m4 0h0m2 0h0m2 0h0m-14 1h0m1 0h0m5 0h0m4 0h0m4 0h0m-11 1h0m3 0h0m2 0h0m4 0h0m-15 1h0m7 0h0m1 0h0m5 0h0m1 0h0m-7 1h0m6 0h0m-66 1h0m53 0h0m9 0h0m2 0h0m1 0h0m-64 1h0m62 0h0m5 0h0m-66 1h0m0 1h0m42 0h0m20 0h0m-9 1h0m-3 1h0m4 0h0m-53 1h0m54 0h0m-2 1h0m-52 1h0m52 0h0m1 0h0m-2 1h0m3 0h0m-53 3h0m2 0h0m34 1h0m1 0h0m1 0h0m6 0h0m-9 1h0m9 0h0m2 0h0m1 0h0m2 0h0m1 0h0m-49 1h0m37 0h0m2 0h0m2 0h0m10 0h0m-15 1h0m5 0h0m1 0h0m1 0h0m6 0h0m-13 1h0m1 0h0m2 0h0m3 0h0m3 0h0m-45 1h0m36 0h0m-37 1h0m42 0h0m-44 1h0m40 0h0m-1 1h0m-36 1h0m1 0h0m36 0h0m-4 1h0m3 0h0m-36 2h0m31 0h0m-31 1h0m32 1h0m2 1h0m-1 1h0m1 0h0m-33 1h0m32 0h0m1 0h0m-34 1h0m1 0h0m30 0h0m4 0h0m-33 1h0m27 0h0m1 1h0m-26 2h0m23 0h0m1 0h0m-23 1h0m3 0h0m1 0h0m-3 1h0m1 0h0m1 0h0m-6 2h0m3 0h0m-4 1h0m1 0h0m3 0h0m3 0h0m21 0h0m-22 1h0m21 0h0m-23 1h0m4 0h0m20 0h0m-26 1h0m1 0h0m3 0h0m21 0h0m-26 1h0m2 0h0m3 0h0m11 1h0m10 0h0m-25 1h0m2 0h0m5 0h0m1 0h0m6 0h0m11 0h0m-24 1h0m1 0h0m5 0h0m6 0h0m5 0h0m7 0h0m-24 1h0m8 0h0m2 0h0m8 0h0m2 0h0m1 0h0m1 0h0m-22 1h0m2 0h0m13 0h0m3 0h0m1 0h0m-18 1h0m1 0h0m2 0h0m1 0h0m2 0h0m1 0h0m2 0h0m1 0h0m3 0h0m1 0h0m3 0h0m2 0h0m-18 1h0m2 0h0m6 0h0m1 0h0m1 0h0m4 0h0m5 0h0m-13 1h0m2 0h0m1 0h0m-1 1h0m2 0h0m-3 1h0" stroke="#4f70b7" stroke-width="1.24" opacity="0.7"/>
<path d="M569 752h0m2 0h0m2 2h0m-2 1h0m2 0h0m7 0h0m3 0h0m1 0h0m4 0h0m1 0h0m1 0h0m7 0h0m-25 1h0m7 0h0m7 0h0m3 0h0m3 0h0m1 0h0m4 0h0m-17 1h0m1 0h0m14 0h0m4 0h0m1 0h0m-33 1h0m4 0h0m7 0h0m1 0h0m15 0h0m1 0h0m2 0h0m1 0h0m-33 1h0m35 0h0m-37 1h0m1 0h0m36 0h0m-37 1h0m37 1h0m-45 1h0m5 0h0m43 0h0m1 0h0m-49 1h0m2 0h0m3 0h0m43 0h0m2 0h0m-51 1h0m1 0h0m-2 1h0m2 0h0m3 0h0m47 0h0m-53 1h0m6 0h0m47 0h0m-53 1h0m1 0h0m50 0h0m2 0h0m-52 1h0m1 0h0m3 0h0m-3 1h0m1 0h0m47 0h0m-49 1h0m1 0h0m47 0h0m0 1h0m-46 1h0m43 0h0m0 1h0m-45 1h0m48 0h0m1 0h0m-49 1h0m1 0h0m46 0h0m1 0h0m-5 2h0m1 0h0m6 0h0m2 0h0m-58 1h0m3 0h0m44 0h0m-46 1h0m56 0h0m-56 1h0m44 0h0m3 0h0m14 0h0m-61 1h0m46 0h0m3 0h0m2 0h0m7 0h0m-56 1h0m42 0h0m1 0h0m4 0h0m1 0h0m1 0h0m9 0h0m-60 1h0m3 0h0m1 0h0m43 0h0m12 0h0m-57 1h0m1 0h0m42 0h0m1 0h0m4 0h0m10 0h0m1 0h0m2 0h0m-20 1h0m1 0h0m1 0h0m1 0h0m2 0h0m1 0h0m-44 1h0m2 0h0m39 0h0m2 0h0m12 0h0m1 0h0m-54 1h0m53 0h0m2 0h0m-60 1h0m5 0h0m-5 1h0m1 0h0m59 0h0m1 0h0m4 0h0m1 0h0m1 0h0m-11 1h0m6 0h0m1 0h0m-65 1h0m59 0h0m1 0h0m2 0h0m1 0h0m1 0h0m2 0h0m-66 1h0m62 0h0m2 0h0m5 0h0m-73 1h0m4 0h0m56 0h0m3 0h0m1 0h0m2 0h0m1 0h0m-66 1h0m1 0h0m62 0h0m7 0h0m-71 1h0m2 0h0m1 0h0m58 0h0m2 0h0m4 0h0m-65 1h0m57 0h0m1 0h0m3 0h0m2 0h0m2 0h0m-67 1h0m55 0h0m4 0h0m3 0h0m2 0h0m-8 1h0m2 0h0m2 0h0m3 0h0m1 0h0m-63 1h0m50 0h0m6 0h0m4 0h0m1 0h0m-61 1h0m49 0h0m7 0h0m3 0h0m1 0h0m-61 1h0m51 0h0m3 0h0m1 1h0m1 0h0m1 0h0m1 0h0m4 0h0m1 0h0m-27 1h0m1 0h0m2 0h0m2 0h0m11 0h0m1 0h0m5 0h0m-6 1h0m5 0h0m2 1h0m1 0h0m3 0h0m-23 1h0m20 0h0m2 0h0m-25 1h0m1 0h0m1 0h0m15 1h0m2 0h0m-3 1h0m2 0h0m-56 1h0m55 0h0m1 0h0m-57 1h0m1 0h0m54 0h0m-55 1h0m52 0h0m-2 1h0m3 0h0m-8 1h0m2 1h0m-14 1h0m1 0h0m9 0h0m2 0h0m2 0h0m2 0h0m-16 1h0m11 0h0m5 0h0m-49 1h0m43 0h0m7 0h0m-50 1h0m40 0h0m6 0h0m1 0h0m3 0h0m-9 1h0m3 0h0m2 0h0m3 0h0m2 0h0m-11 1h0m4 0h0m2 0h0m3 0h0m2 0h0m-49 1h0m1 0h0m37 0h0m1 0h0m1 0h0m4 0h0m1 0h0m3 0h0m-50 1h0m39 0h0m2 0h0m3 0h0m5 0h0m2 0h0m-10 1h0m3 0h0m2 0h0m-5 1h0m5 0h0m2 0h0m1 0h0m-49 1h0m38 0h0m6 0h0m3 0h0m-47 1h0m1 0h0m5 0h0m38 0h0m4 0h0m-48 1h0m5 0h0m1 0h0m36 0h0m1 0h0m3 0h0m-45 1h0m3 0h0m4 0h0m1 0h0m30 0h0m2 0h0m5 0h0m3 0h0m-48 1h0m2 0h0m39 0h0m1 0h0m2 0h0m1 0h0m-5 1h0m6 0h0m1 0h0m1 0h0m-41 1h0m28 0h0m3 0h0m4 0h0m5 0h0m-45 1h0m2 0h0m30 0h0m4 0h0m10 0h0m1 0h0m-48 1h0m37 0h0m2 0h0m1 0h0m3 0h0m1 0h0m1 0h0m-43 1h0m32 0h0m1 0h0m3 0h0m3 0h0m1 0h0m3 0h0m3 0h0m-47 1h0m1 0h0m35 0h0m3 0h0m1 0h0m3 0h0m3 0h0m1 0h0m1 0h0m-14 1h0m3 0h0m4 0h0m1 0h0m4 0h0m-48 1h0m35 0h0m2 0h0m1 0h0m2 0h0m9 0h0m-47 1h0m1 0h0m35 0h0m4 0h0m6 0h0m1 0h0m1 0h0m-11 1h0m2 0h0m7 0h0m1 0h0m-46 1h0m1 1h0m0 1h0m2 0h0m27 0h0m-31 1h0m1 0h0m4 0h0m1 0h0m2 0h0m23 0h0m1 0h0m1 0h0m-31 1h0m4 0h0m25 0h0m2 0h0m-33 1h0m7 0h0m-6 1h0m30 0h0m3 0h0m-33 1h0m30 0h0m-5 1h0m-25 1h0m19 0h0m5 0h0m4 0h0m2 0h0m-4 1h0m1 0h0m1 0h0m-7 1h0m2 0h0m6 0h0m-8 1h0m3 0h0m2 0h0m1 0h0m-26 1h0m22 0h0m1 0h0m2 0h0m1 0h0m1 0h0m-30 1h0m1 0h0m1 0h0m1 0h0m20 0h0m3 0h0m3 0h0m-27 1h0m26 0h0m1 0h0m-28 1h0m21 0h0m1 0h0m1 0h0m1 0h0m2 0h0m1 0h0m-27 1h0m20 0h0m1 0h0m3 0h0m1 0h0m-22 1h0m1 0h0m17 0h0m2 0h0m1 0h0m-20 1h0m1 0h0m9 0h0m8 0h0m2 0h0m2 0h0m-22 1h0m3 0h0m7 0h0m3 0h0m5 0h0m3 0h0m-13 1h0m6 0h0m-10 1h0m7 0h0m1 0h0m1 0h0m1 0h0m-8 1h0m2 0h0m2 0h0m9 0h0m-14 1h0m2 0h0m3 1h0m2 0h0m9 0h0m-16 1h0m6 0h0m1 0h0m-7 1h0m1 0h0m1 0h0m1 0h0m2 0h0m2 0h0m9 0h0m-14 1h0m4 0h0m10 0h0m-15 1h0m2 0h0m1 0h0m1 0h0m1 0h0m1 0h0m-2 1h0m4 0h0m-2 1h0m6 0h0m3 0h0m-19 1h0m1 0h0m1 0h0m11 0h0m4 0h0m2 0h0m-20 1h0m0 1h0m1 0h0" stroke="#4a74b6" stroke-width="1.24" opacity="0.7"/>
<path d="M591 757h0m-9 1h0m2 0h0m4 0h0m2 0h0m1 0h0m-26 1h0m1 0h0m4 0h0m2 0h0m2 0h0m6 0h0m1 0h0m12 0h0m2 0h0m-25 1h0m1 0h0m2 0h0m17 0h0m6 0h0m2 0h0m-31 1h0m8 0h0m4 0h0m16 0h0m3 0h0m1 0h0m-5 1h0m2 0h0m1 0h0m2 0h0m-3 1h0m2 0h0m1 0h0m-37 2h0m36 0h0m5 0h0m-2 1h0m1 0h0m-46 1h0m1 0h0m43 0h0m1 0h0m1 0h0m-48 1h0m45 0h0m-42 1h0m2 0h0m41 0h0m-42 1h0m39 0h0m1 0h0m-39 2h0m36 0h0m-2 1h0m1 0h0m1 0h0m2 0h0m-4 1h0m-36 1h0m35 0h0m3 0h0m2 0h0m-6 1h0m4 0h0m1 0h0m-43 1h0m5 0h0m32 0h0m1 0h0m7 0h0m-44 1h0m1 0h0m38 0h0m6 0h0m-46 1h0m38 0h0m1 0h0m1 0h0m5 0h0m4 0h0m-52 1h0m1 0h0m2 0h0m39 0h0m1 0h0m8 0h0m1 0h0m1 0h0m-51 1h0m38 0h0m13 0h0m-53 1h0m2 0h0m39 0h0m10 0h0m-46 1h0m34 0h0m11 0h0m3 0h0m2 0h0m-51 1h0m1 0h0m46 0h0m1 0h0m2 0h0m1 0h0m1 0h0m-18 1h0m10 0h0m6 0h0m-48 1h0m33 0h0m14 0h0m2 0h0m-49 1h0m42 0h0m5 0h0m2 0h0m1 0h0m-50 1h0m33 0h0m2 0h0m5 0h0m1 0h0m2 0h0m4 0h0m1 0h0m3 0h0m-14 1h0m10 0h0m-51 1h0m39 0h0m1 0h0m3 0h0m10 0h0m-55 1h0m2 0h0m38 0h0m2 0h0m11 0h0m1 0h0m-1 1h0m-52 1h0m28 0h0m4 0h0m17 0h0m3 0h0m-21 1h0m17 0h0m1 0h0m-19 1h0m1 0h0m13 0h0m1 0h0m4 0h0m3 0h0m-55 1h0m35 0h0m6 0h0m1 0h0m1 0h0m5 0h0m3 0h0m-21 1h0m11 0h0m1 0h0m3 0h0m3 0h0m2 0h0m4 0h0m-55 1h0m1 0h0m32 0h0m2 0h0m1 0h0m1 0h0m5 0h0m1 0h0m1 0h0m4 0h0m1 0h0m2 0h0m-51 1h0m32 0h0m2 0h0m1 0h0m1 0h0m2 0h0m4 0h0m5 0h0m5 0h0m-51 1h0m33 0h0m6 0h0m2 0h0m2 0h0m1 0h0m-47 1h0m2 0h0m31 0h0m3 0h0m1 0h0m2 0h0m2 0h0m7 0h0m-46 1h0m1 0h0m29 0h0m1 0h0m1 0h0m5 0h0m1 0h0m3 0h0m1 0h0m-11 1h0m1 0h0m6 0h0m2 0h0m1 0h0m4 0h0m1 0h0m-46 1h0m30 0h0m1 0h0m7 0h0m1 0h0m1 0h0m3 0h0m1 0h0m1 0h0m-13 1h0m7 0h0m2 0h0m3 0h0m-46 1h0m1 0h0m41 0h0m1 0h0m9 0h0m1 0h0m1 0h0m2 0h0m-17 1h0m11 0h0m3 0h0m2 0h0m1 0h0m-54 1h0m38 0h0m11 0h0m2 0h0m1 0h0m2 0h0m-55 1h0m34 0h0m1 0h0m3 0h0m10 0h0m2 0h0m3 0h0m1 0h0m-57 1h0m2 0h0m35 0h0m1 0h0m2 0h0m4 0h0m-42 1h0m35 0h0m3 0h0m3 0h0m-41 1h0m49 0h0m-50 1h0m39 0h0m7 0h0m1 0h0m3 0h0m-17 1h0m8 0h0m4 0h0m1 0h0m-18 1h0m3 0h0m3 0h0m4 0h0m2 0h0m-9 1h0m3 0h0m1 0h0m3 0h0m1 0h0m-41 1h0m41 0h0m-41 1h0m30 0h0m7 0h0m2 0h0m1 0h0m-40 1h0m31 0h0m6 0h0m1 1h0m-3 1h0m13 0h0m-13 1h0m1 0h0m2 0h0m10 0h0m-44 1h0m35 0h0m-35 1h0m1 0h0m2 0h0m31 0h0m1 0h0m8 0h0m1 0h0m-45 1h0m5 0h0m40 0h0m-42 1h0m2 0h0m27 1h0m-34 1h0m1 0h0m1 0h0m2 0h0m31 0h0m1 0h0m-34 1h0m7 0h0m-8 1h0m1 0h0m8 0h0m26 0h0m-26 1h0m22 0h0m1 0h0m3 0h0m9 0h0m-36 1h0m25 0h0m10 0h0m-10 1h0m1 0h0m8 0h0m-37 1h0m2 0h0m1 0h0m1 0h0m2 0h0m20 0h0m1 0h0m-29 1h0m3 0h0m24 0h0m12 0h0m1 0h0m2 0h0m-42 1h0m3 0h0m1 0h0m23 0h0m1 0h0m1 0h0m-30 1h0m3 0h0m2 0h0m22 0h0m1 0h0m-28 1h0m1 0h0m28 0h0m-27 1h0m1 0h0m-1 1h0m1 0h0m25 0h0m-25 1h0m25 0h0m-22 1h0m22 0h0m1 0h0m-25 1h0m24 1h0m-20 1h0m12 0h0m7 0h0m1 0h0m-20 1h0m-5 1h0m17 0h0m6 0h0m-25 1h0m1 0h0m1 0h0m2 0h0m3 0h0m1 0h0m1 0h0m11 0h0m1 0h0m2 0h0m4 0h0m-25 1h0m2 0h0m4 0h0m4 0h0m4 0h0m1 0h0m5 0h0m1 0h0m1 0h0m-23 1h0m1 0h0m7 0h0m1 0h0m6 0h0m9 0h0m1 0h0m1 0h0m-25 1h0m3 0h0m3 0h0m17 0h0m-25 1h0m3 0h0m2 0h0m1 0h0m10 0h0m1 0h0m-13 1h0m4 0h0m1 0h0m9 0h0m-1 1h0m-1 1h0m1 0h0m-16 1h0m1 0h0m15 0h0m-14 1h0m11 0h0m2 0h0m-13 1h0m1 0h0m11 0h0m2 0h0m-14 1h0m4 0h0m4 0h0m1 0h0m3 0h0m1 0h0m-13 1h0m2 0h0m3 0h0m2 0h0m2 0h0m1 0h0m4 0h0m-12 1h0m5 0h0m6 0h0m0 2h0m2 0h0m1 0h0m-3 1h0m3 0h0m-4 1h0m3 0h0m3 0h0m-5 1h0m3 0h0m-3 1h0m5 0h0m0 1h0m1 0h0m-6 1h0m2 0h0m1 0h0m2 0h0m-4 1h0m1 0h0m2 0h0m-1 1h0m3 0h0m-2 1h0m1 0h0m1 0h0" stroke="#4c7fae" stroke-width="1.24" opacity="1.0"/>
<path d="M581 759h0m1 0h0m1 1h0m2 0h0m1 0h0m1 0h0m-21 1h0m1 0h0m15 0h0m1 0h0m3 0h0m1 0h0m2 0h0m3 0h0m-26 1h0m10 0h0m3 0h0m13 0h0m1 0h0m-28 1h0m25 0h0m-29 3h0m2 0h0m31 0h0m1 0h0m3 0h0m-37 1h0m1 0h0m1 0h0m33 0h0m1 0h0m2 0h0m-4 1h0m2 0h0m1 0h0m-4 1h0m2 0h0m0 1h0m1 0h0m-36 1h0m30 0h0m5 0h0m-36 1h0m0 1h0m31 0h0m-30 1h0m28 0h0m1 0h0m-29 1h0m29 0h0m-34 2h0m33 0h0m-33 1h0m1 0h0m1 0h0m30 0h0m-32 1h0m13 0h0m-15 1h0m16 0h0m1 0h0m18 0h0m-34 1h0m30 0h0m2 0h0m-33 1h0m13 0h0m19 0h0m1 0h0m-32 1h0m10 0h0m1 0h0m1 0h0m2 0h0m20 0h0m-33 1h0m2 0h0m1 0h0m7 0h0m3 0h0m1 0h0m1 0h0m15 0h0m-31 1h0m5 0h0m9 0h0m1 0h0m14 0h0m-22 1h0m3 0h0m2 0h0m1 0h0m1 0h0m2 0h0m12 0h0m2 0h0m-23 1h0m3 0h0m1 0h0m3 0h0m16 0h0m-27 1h0m3 0h0m1 0h0m2 0h0m1 0h0m1 0h0m2 0h0m1 0h0m1 0h0m1 0h0m8 0h0m1 0h0m1 0h0m1 0h0m2 0h0m1 0h0m-24 1h0m4 0h0m14 0h0m4 0h0m1 0h0m1 0h0m3 0h0m7 0h0m2 0h0m1 0h0m-42 1h0m10 0h0m2 0h0m10 0h0m3 0h0m3 0h0m3 0h0m9 0h0m2 0h0m1 0h0m1 0h0m1 0h0m-49 1h0m15 0h0m11 0h0m1 0h0m2 0h0m6 0h0m1 0h0m4 0h0m1 0h0m1 0h0m4 0h0m-46 1h0m27 0h0m4 0h0m2 0h0m1 0h0m5 0h0m4 0h0m1 0h0m1 0h0m1 0h0m1 0h0m1 0h0m-48 1h0m26 0h0m7 0h0m1 0h0m2 0h0m2 0h0m3 0h0m4 0h0m-44 1h0m25 0h0m1 0h0m4 0h0m1 0h0m1 0h0m1 0h0m1 0h0m6 0h0m2 0h0m1 0h0m-45 1h0m2 0h0m25 0h0m5 0h0m3 0h0m1 0h0m1 0h0m3 0h0m4 0h0m-44 1h0m32 0h0m10 0h0m2 0h0m-45 1h0m1 0h0m25 0h0m8 0h0m9 0h0m1 0h0m-17 1h0m-28 1h0m1 0h0m23 0h0m2 0h0m1 0h0m-25 1h0m21 0h0m4 0h0m-4 1h0m3 0h0m1 0h0m-1 1h0m2 0h0m-29 1h0m1 0h0m1 0h0m23 0h0m1 0h0m3 0h0m-30 1h0m4 0h0m24 1h0m1 0h0m15 0h0m2 0h0m-45 1h0m43 0h0m1 0h0m1 0h0m-44 1h0m26 0h0m1 0h0m12 0h0m2 0h0m3 0h0m1 0h0m1 0h0m-18 1h0m1 0h0m12 0h0m2 0h0m1 0h0m-47 1h0m3 0h0m29 0h0m12 0h0m1 0h0m1 0h0m-14 1h0m9 0h0m2 0h0m1 0h0m3 0h0m-47 1h0m1 0h0m2 0h0m30 0h0m11 0h0m1 0h0m2 0h0m-48 1h0m1 0h0m28 0h0m2 0h0m1 0h0m1 0h0m2 0h0m3 0h0m1 0h0m1 0h0m1 0h0m4 0h0m-46 1h0m29 0h0m4 0h0m2 0h0m2 0h0m1 0h0m2 0h0m5 0h0m-44 1h0m27 0h0m5 0h0m3 0h0m1 0h0m1 0h0m-37 1h0m26 0h0m-27 1h0m1 0h0m-1 2h0m1 0h0m-1 1h0m3 0h0m25 0h0m-29 1h0m3 0h0m27 0h0m-29 1h0m2 0h0m1 0h0m2 0h0m27 0h0m-30 1h0m3 0h0m1 0h0m23 0h0m3 0h0m-27 1h0m1 0h0m1 0h0m23 0h0m2 0h0m2 0h0m-28 1h0m0 1h0m2 0h0m26 0h0m1 0h0m-27 1h0m26 0h0m1 0h0m-26 2h0m1 0h0m0 1h0m20 0h0m1 0h0m-22 1h0m22 0h0m-20 1h0m18 0h0m2 0h0m-20 1h0m2 0h0m-3 1h0m15 0h0m-13 1h0m13 0h0m3 0h0m-19 1h0m5 0h0m12 0h0m-17 1h0m5 0h0m12 0h0m-19 1h0m2 0h0m2 0h0m1 0h0m2 0h0m6 0h0m5 0h0m1 0h0m1 0h0m1 0h0m-22 1h0m2 0h0m2 0h0m1 0h0m2 0h0m1 0h0m6 0h0m1 0h0m5 0h0m1 0h0m-17 1h0m3 0h0m3 0h0m4 0h0m1 0h0m3 0h0m4 0h0m1 0h0m-21 1h0m2 0h0m1 0h0m5 0h0m6 0h0m2 0h0m1 0h0m1 0h0m2 0h0m1 0h0m-21 1h0m2 0h0m1 0h0m2 0h0m4 0h0m2 0h0m1 0h0m1 0h0m3 0h0m2 0h0m2 0h0m-19 1h0m1 0h0m1 0h0m4 0h0m7 0h0m2 0h0m2 0h0m-17 1h0m2 0h0m1 0h0m3 0h0m3 0h0m1 0h0m1 0h0m1 0h0m1 0h0m2 0h0m3 0h0m-15 1h0m6 0h0m4 0h0m3 0h0m1 0h0m2 0h0m-17 1h0m1 0h0m5 0h0m1 0h0m1 0h0m2 0h0m1 0h0m1 0h0m3 0h0m1 0h0m1 0h0m-8 1h0m5 0h0m1 0h0m1 0h0m-14 1h0m1 0h0m2 0h0m3 0h0m9 0h0m-12 1h0m1 0h0m1 0h0m1 0h0m-5 1h0m2 0h0m1 1h0m1 0h0m0 1h0m-5 1h0m1 0h0m2 0h0m2 0h0m-10 1h0m3 0h0m-5 1h0m1 0h0m2 0h0m1 0h0m3 0h0m2 0h0m1 0h0m1 0h0m1 0h0m-10 1h0m1 0h0m1 0h0m3 0h0m1 0h0m2 0h0m1 0h0m-11 1h0m1 0h0m1 0h0m1 0h0m1 0h0m4 0h0m4 0h0m-8 1h0m2 0h0m1 0h0m1 0h0m1 0h0m1 0h0m-9 1h0m3 1h0m2 0h0m11 8h0m-1 1h0m1 0h0m-1 1h0" stroke="#54949e" stroke-width="1.24" opacity="1.0"/>
<path d="M570 761h0m1 0h0m2 0h0m10 0h0m4 0h0m1 0h0m-21 1h0m1 0h0m5 0h0m9 0h0m1 0h0m3 0h0m2 0h0m1 0h0m-20 1h0m1 0h0m1 0h0m3 0h0m6 0h0m2 0h0m2 0h0m2 0h0m2 0h0m4 0h0m-28 1h0m1 0h0m0 1h0m15 0h0m11 0h0m1 0h0m1 0h0m-1 1h0m0 1h0m1 0h0m-31 1h0m1 0h0m28 0h0m1 0h0m2 0h0m-33 1h0m30 0h0m1 0h0m1 0h0m-31 1h0m1 0h0m-1 2h0m1 0h0m-1 1h0m0 1h0m0 1h0m-1 1h0m1 0h0m1 0h0m23 0h0m-24 1h0m1 0h0m6 0h0m4 0h0m-11 1h0m5 0h0m4 0h0m12 0h0m4 0h0m-30 1h0m1 0h0m1 0h0m3 0h0m5 0h0m5 0h0m1 0h0m1 0h0m9 0h0m1 0h0m2 0h0m1 0h0m-31 1h0m3 0h0m3 0h0m3 0h0m1 0h0m1 0h0m1 0h0m1 0h0m3 0h0m1 0h0m1 0h0m1 0h0m3 0h0m1 0h0m5 0h0m2 0h0m1 0h0m-32 1h0m2 0h0m1 0h0m1 0h0m1 0h0m1 0h0m2 0h0m4 0h0m5 0h0m2 0h0m4 0h0m1 0h0m5 0h0m1 0h0m1 0h0m-31 1h0m1 0h0m1 0h0m2 0h0m2 0h0m2 0h0m1 0h0m9 0h0m2 0h0m3 0h0m3 0h0m1 0h0m3 0h0m-25 1h0m1 0h0m1 0h0m1 0h0m1 0h0m8 0h0m2 0h0m3 0h0m1 0h0m5 0h0m1 0h0m1 0h0m-24 1h0m1 0h0m1 0h0m9 0h0m2 0h0m1 0h0m3 0h0m1 0h0m2 0h0m1 0h0m1 0h0m1 0h0m-21 1h0m9 0h0m7 0h0m2 0h0m1 0h0m1 0h0m-20 1h0m8 0h0m1 0h0m2 0h0m4 0h0m3 0h0m2 0h0m-11 1h0m2 0h0m1 0h0m-3 1h0m2 0h0m2 0h0m1 0h0m1 0h0m1 0h0m-22 1h0m3 0h0m1 0h0m11 0h0m2 0h0m4 0h0m-20 1h0m1 0h0m2 0h0m1 0h0m2 0h0m5 0h0m3 0h0m1 0h0m-19 1h0m3 0h0m2 0h0m2 0h0m1 0h0m1 0h0m1 0h0m3 0h0m3 0h0m1 0h0m2 0h0m-19 1h0m2 0h0m7 0h0m1 0h0m1 0h0m4 0h0m6 0h0m2 0h0m-22 1h0m7 0h0m7 0h0m7 0h0m1 0h0m-23 1h0m13 0h0m1 0h0m1 0h0m7 0h0m-11 1h0m12 0h0m-25 1h0m-1 1h0m2 0h0m17 0h0m7 0h0m-25 1h0m21 0h0m2 0h0m-24 1h0m21 0h0m-2 1h0m0 1h0m-19 1h0m2 0h0m17 0h0m-1 1h0m4 0h0m-21 1h0m1 0h0m17 0h0m1 0h0m1 0h0m2 0h0m-25 1h0m3 0h0m1 0h0m3 0h0m16 0h0m2 0h0m-25 1h0m1 0h0m1 0h0m2 0h0m2 0h0m18 0h0m2 0h0m-25 1h0m2 0h0m2 0h0m2 0h0m18 0h0m1 0h0m-24 1h0m1 0h0m3 0h0m18 0h0m1 0h0m-24 1h0m1 0h0m4 0h0m2 0h0m18 0h0m-22 1h0m21 0h0m3 0h0m-28 1h0m2 0h0m21 0h0m3 0h0m1 0h0m1 0h0m-27 1h0m1 1h0m19 0h0m-23 1h0m2 0h0m1 0h0m-3 1h0m3 0h0m19 0h0m1 0h0m-25 1h0m3 0h0m21 0h0m1 0h0m1 0h0m-25 1h0m3 0h0m1 0h0m1 0h0m2 0h0m1 0h0m1 0h0m16 0h0m-26 1h0m2 0h0m3 0h0m2 0h0m1 0h0m2 0h0m1 0h0m-8 1h0m1 0h0m1 0h0m3 0h0m2 0h0m15 0h0m-22 1h0m5 0h0m17 0h0m-22 1h0m4 0h0m3 0h0m14 0h0m-16 1h0m2 0h0m15 0h0m1 0h0m-20 1h0m3 0h0m6 0h0m2 0h0m8 0h0m1 0h0m1 0h0m2 0h0m2 0h0m-21 1h0m7 0h0m9 0h0m2 0h0m1 0h0m1 0h0m2 0h0m-24 1h0m1 0h0m2 0h0m3 0h0m1 0h0m5 0h0m1 0h0m4 0h0m6 0h0m-21 1h0m1 0h0m2 0h0m1 0h0m2 0h0m7 0h0m1 0h0m6 0h0m2 0h0m-22 1h0m7 0h0m2 0h0m1 0h0m1 0h0m4 0h0m1 0h0m5 0h0m-21 1h0m1 0h0m5 0h0m1 0h0m2 0h0m7 0h0m1 0h0m1 0h0m-18 1h0m1 0h0m1 0h0m2 0h0m5 0h0m1 0h0m1 0h0m2 0h0m2 0h0m3 0h0m2 0h0m-18 1h0m1 0h0m1 0h0m3 0h0m1 0h0m5 0h0m3 0h0m1 0h0m-15 1h0m1 0h0m2 0h0m1 0h0m1 0h0m1 0h0m6 0h0m4 0h0m-5 1h0m1 0h0m1 0h0m1 0h0m-13 1h0m1 0h0m2 0h0m3 0h0m2 0h0m-8 1h0m1 0h0m2 0h0m1 0h0m2 0h0m2 0h0m1 0h0m2 0h0m-11 1h0m1 0h0m2 0h0m1 0h0m4 0h0m2 0h0m-7 1h0m2 0h0m1 0h0m2 0h0m2 0h0m-8 1h0m2 0h0m4 0h0m1 0h0m-7 1h0m1 0h0m-5 4h0m1 0h0m1 0h0m-2 1h0m2 0h0m1 0h0m2 0h0m-3 1h0m1 0h0m-1 1h0m3 1h0" stroke="#5fa288" stroke-width="1.24" opacity="1.0"/>
<path d="M577 763h0m2 0h0m5 0h0m-18 1h0m1 0h0m1 0h0m7 0h0m1 0h0m1 0h0m1 0h0m1 0h0m3 0h0m1 0h0m2 0h0m1 0h0m1 0h0m3 0h0m1 0h0m-27 1h0m1 0h0m11 0h0m7 0h0m1 0h0m6 0h0m-27 1h0m1 0h0m16 0h0m1 0h0m1 0h0m7 0h0m2 0h0m-28 1h0m1 0h0m15 0h0m11 0h0m-27 1h0m2 0h0m25 0h0m-27 1h0m27 0h0m1 0h0m-28 1h0m24 0h0m1 0h0m1 0h0m1 0h0m-26 1h0m1 0h0m21 0h0m1 0h0m-23 1h0m22 0h0m1 0h0m1 0h0m1 0h0m-25 1h0m1 0h0m20 0h0m3 0h0m-24 1h0m1 0h0m20 0h0m-21 1h0m2 0h0m19 0h0m2 0h0m-23 1h0m1 0h0m1 0h0m1 0h0m1 0h0m-4 1h0m2 0h0m1 0h0m10 0h0m7 0h0m-19 1h0m1 0h0m1 0h0m7 0h0m1 0h0m2 0h0m2 0h0m1 0h0m3 0h0m-18 1h0m1 0h0m1 0h0m8 0h0m1 0h0m1 0h0m-2 1h0m2 0h0m-1 2h0m0 2h0m1 0h0m-1 1h0m-1 1h0m1 0h0m0 1h0m-4 4h0m1 0h0m-1 1h0m1 0h0m2 0h0m-12 1h0m2 0h0m6 0h0m4 0h0m-19 1h0m1 0h0m1 0h0m1 0h0m4 0h0m6 0h0m1 0h0m1 0h0m3 0h0m1 0h0m-20 1h0m1 0h0m1 0h0m4 0h0m1 0h0m3 0h0m1 0h0m2 0h0m1 0h0m3 0h0m1 0h0m1 0h0m1 0h0m-21 1h0m1 0h0m2 0h0m9 0h0m1 0h0m1 0h0m1 0h0m1 0h0m2 0h0m1 0h0m1 0h0m1 0h0m-20 1h0m1 0h0m1 0h0m9 0h0m5 0h0m4 0h0m-21 1h0m2 0h0m1 0h0m10 0h0m1 0h0m-11 1h0m10 0h0m-13 1h0m1 0h0m1 0h0m13 0h0m-14 1h0m1 0h0m12 0h0m1 0h0m-16 1h0m1 0h0m14 0h0m1 0h0m-15 1h0m1 0h0m2 0h0m-2 1h0m1 0h0m1 0h0m11 0h0m1 0h0m-15 1h0m1 0h0m12 0h0m-9 2h0m13 0h0m-13 1h0m1 0h0m10 0h0m1 0h0m1 0h0m-1 1h0m1 0h0m1 0h0m1 0h0m-14 1h0m13 0h0m-19 1h0m1 0h0m1 0h0m2 0h0m2 0h0m11 0h0m2 0h0m-19 1h0m1 0h0m2 0h0m1 0h0m2 0h0m-7 1h0m1 0h0m1 0h0m1 0h0m1 0h0m1 0h0m12 0h0m1 0h0m1 0h0m-19 1h0m1 0h0m1 0h0m-2 1h0m1 0h0m1 0h0m1 0h0m2 0h0m11 0h0m1 0h0m-13 1h0m11 0h0m1 0h0m1 0h0m-17 1h0m6 0h0m0 1h0m-2 1h0m1 0h0m2 0h0m10 0h0m-12 1h0m3 0h0m9 0h0m-13 1h0m1 0h0m1 0h0m1 0h0m2 0h0m7 0h0m1 0h0m-12 1h0m1 0h0m1 0h0m1 0h0m3 0h0m5 0h0m-10 1h0m3 0h0m2 0h0m3 0h0m2 0h0m1 0h0m-13 1h0m1 0h0m1 0h0m8 0h0m1 0h0m-9 1h0m7 0h0m1 0h0m8 0h0m-2 1h0m1 0h0m1 0h0m1 0h0m-2 1h0m-8 2h0m-2 1h0m1 0h0m1 0h0m2 0h0m-6 1h0m2 0h0m2 0h0m1 0h0m1 0h0m-5 1h0m1 0h0m1 0h0m1 0h0m-1 1h0" stroke="#6eab6c" stroke-width="1.24" opacity="1.0"/>
<path d="M570 763h0m1 0h0m4 0h0m-3 1h0m1 0h0m2 0h0m-9 1h0m1 0h0m5 0h0m15 0h0m-22 1h0m2 0h0m11 0h0m1 0h0m5 0h0m3 0h0m1 0h0m1 0h0m-24 1h0m1 0h0m1 0h0m11 0h0m6 0h0m1 0h0m1 0h0m3 0h0m-10 1h0m2 0h0m1 0h0m2 0h0m3 0h0m1 0h0m-22 1h0m17 0h0m1 0h0m2 0h0m1 0h0m1 0h0m-23 1h0m2 0h0m14 0h0m1 0h0m1 0h0m1 0h0m1 0h0m-4 1h0m2 0h0m1 0h0m-19 1h0m1 0h0m18 0h0m-18 1h0m1 0h0m17 0h0m-18 1h0m1 0h0m18 0h0m-19 1h0m8 0h0m3 0h0m1 0h0m2 0h0m3 0h0m1 0h0m-14 1h0m1 0h0m2 0h0m1 0h0m5 0h0m3 0h0m1 0h0m-12 1h0m8 0h0m1 0h0m1 0h0m2 0h0m-22 18h0m1 0h0m-2 1h0m1 0h0m1 0h0m-1 1h0m1 0h0m2 0h0m-7 1h0m9 0h0m-8 1h0m1 0h0m2 0h0m5 0h0m-7 1h0m7 0h0m1 0h0m-9 1h0m9 0h0m-10 1h0m8 0h0m1 0h0m-7 1h0m8 0h0m-10 1h0m10 0h0m0 1h0m2 1h0m-9 2h0m1 0h0m6 0h0m1 0h0m1 0h0m-1 1h0m-8 1h0m9 0h0m-10 1h0m1 0h0m8 0h0m-9 1h0m1 0h0m0 1h0m6 0h0m3 0h0m-12 1h0m2 0h0m2 0h0m7 0h0m1 0h0m-11 1h0m1 0h0m1 0h0m8 0h0m-8 1h0m1 0h0m4 0h0m-4 1h0m4 0h0m-5 1h0m2 0h0m4 0h0m-4 1h0m5 0h0m-6 1h0m1 0h0m1 0h0m1 0h0m1 0h0m1 0h0m1 0h0m-2 1h0m1 0h0m1 0h0m-4 1h0m2 0h0m1 0h0m1 0h0m-3 1h0m2 0h0" stroke="#7bb257" stroke-width="1.24" opacity="1.0"/>
<path d="M567 765h0m1 0h0m9 0h0m-10 1h0m1 0h0m1 0h0m1 0h0m1 0h0m5 0h0m-9 1h0m3 0h0m1 0h0m4 1h0m1 0h0m-8 1h0m8 0h0m1 0h0m1 0h0m3 0h0m-3 1h0m1 0h0m1 0h0m-12 1h0m1 0h0m9 0h0m1 0h0m1 0h0m0 1h0m-10 1h0m1 0h0m6 0h0m1 0h0m2 0h0m2 0h0m1 0h0m-15 1h0m1 0h0m1 0h0m9 0h0m1 0h0m1 0h0m1 0h0m-13 1h0m9 0h0m1 0h0m1 0h0m3 0h0m-22 22h0m1 0h0m1 0h0m-1 1h0m1 0h0m-3 1h0m1 0h0m1 0h0m1 0h0m1 0h0m1 0h0m-5 1h0m1 0h0m1 0h0m1 0h0m-2 1h0m1 0h0m2 0h0m-4 1h0m1 0h0m-2 1h0m2 1h0m0 1h0m-2 1h0m1 0h0m6 0h0m1 0h0m-8 1h0m1 0h0m1 0h0m2 0h0m3 0h0m-4 1h0m1 0h0m2 0h0m2 0h0m-6 1h0m1 0h0m2 0h0m2 0h0m1 0h0m-5 1h0m1 0h0m1 0h0m1 0h0m1 0h0m-3 1h0m1 0h0m-2 1h0m1 0h0m1 0h0m1 0h0m1 0h0m1 0h0m-5 1h0m3 0h0m2 0h0m-6 1h0m1 0h0m1 0h0m1 0h0m1 0h0m-3 1h0m2 0h0m1 0h0m-4 1h0m2 0h0m2 0h0m-2 1h0m1 0h0m0 1h0m1 0h0" stroke="#7fb455" stroke-width="1.24" opacity="1.0"/>
<path d="M572 765h0m1 0h0m1 0h0m-2 1h0m1 0h0m1 0h0m1 0h0m-6 1h0m3 0h0m1 0h0m2 0h0m-6 1h0m0 1h0m1 0h0m6 0h0m-8 1h0m1 0h0m0 1h0m9 0h0m1 0h0m-4 1h0m1 0h0m2 0h0m1 0h0m-8 1h0m3 0h0m1 0h0m1 0h0m3 0h0m-7 1h0m1 0h0m2 0h0m1 0h0m-4 1h0m2 0h0m-13 26h0m1 0h0m1 0h0m1 0h0m-3 1h0m4 0h0m-3 1h0m2 0h0m-2 1h0m1 0h0m1 0h0m1 0h0m-3 1h0m1 0h0m-2 1h0m1 0h0m1 0h0m1 0h0m1 0h0m-4 1h0m1 0h0" stroke="#84b653" stroke-width="1.24" opacity="1.0"/>
<path d="M572 767h0m2 0h0m-3 1h0m2 0h0m1 0h0m1 0h0m-5 1h0m1 0h0m1 0h0m1 0h0m1 0h0m1 0h0m-3 1h0m1 0h0m2 0h0m-5 1h0m1 0h0m1 0h0m2 0h0m1 0h0m-5 1h0m1 0h0m1 0h0m1 0h0m1 0h0m1 0h0m-5 1h0m2 0h0m1 0h0m1 0h0" stroke="#89b851" stroke-width="1.24" opacity="1.0"/>
</g></g>
<ellipse cx="286" cy="383.3" rx="12" ry="8" transform="rotate(-25 286 383.3)" fill="none" stroke="#a27ab4" stroke-width="0.75"/>
<path d="M270.5,398 C272,391 283,390 294,389.8 C302,389.5 306,393 304,400 C302,407 297,416 287,417 C279,418 271,414 270.5,407 Z" fill="none" stroke="#a27ab4" stroke-width="0.75"/>
<ellipse cx="320.9" cy="406.6" rx="10" ry="18.6" transform="rotate(15 320.9 406.6)" fill="none" stroke="#a27ab4" stroke-width="0.75"/>
<text x="270" y="373.8" font-size="4.8" fill="#9466a6">16.8</text>
<text x="297" y="418.6" font-size="4.8" fill="#9466a6">47.9</text>
<text x="327.2" y="418.2" font-size="4.8" fill="#9466a6">0.0814</text>
<text x="2" y="492.2" font-size="12" font-weight="bold">E</text>
<text x="14.2" y="511.7" font-size="9.2" font-weight="bold">BAL cells</text>
<text x="16" y="521.7" font-size="9.2" font-weight="bold">Cytospin</text>
<rect x="69.7" y="482.3" width="84.7" height="62.9" fill="#cac9c8"/>
<circle cx="80.4" cy="488.5" r="1.4" fill="#7e6cb4"/>
<circle cx="91" cy="506" r="1.3" fill="#54449c"/>
<circle cx="97.7" cy="504.8" r="1.1" fill="#7e6cb4"/>
<circle cx="74.2" cy="513.5" r="1.3" fill="#54449c"/>
<circle cx="110.2" cy="496.7" r="1.1" fill="#7e6cb4"/>
<circle cx="122.7" cy="494.2" r="1.2" fill="#7e6cb4"/>
<circle cx="112" cy="508" r="1.2" fill="#7e6cb4"/>
<circle cx="122.7" cy="503.8" r="1.0" fill="#54449c"/>
<circle cx="126.5" cy="512.5" r="1.3" fill="#54449c"/>
<circle cx="120.8" cy="514.4" r="1.0" fill="#7e6cb4"/>
<circle cx="110.2" cy="516.3" r="1.1" fill="#54449c"/>
<circle cx="105.4" cy="519.2" r="1.1" fill="#7e6cb4"/>
<circle cx="112" cy="521.2" r="1.4" fill="#54449c"/>
<circle cx="130.4" cy="524" r="1.1" fill="#7e6cb4"/>
<circle cx="134.2" cy="524" r="0.9" fill="#54449c"/>
<circle cx="124.6" cy="534.6" r="1.2" fill="#7e6cb4"/>
<circle cx="127.5" cy="541.3" r="1.1" fill="#54449c"/>
<circle cx="147.7" cy="507.7" r="1.1" fill="#7e6cb4"/>
<circle cx="126.5" cy="483.7" r="0.9" fill="#54449c"/>
<circle cx="122.7" cy="530.8" r="0.9" fill="#54449c"/>
<circle cx="153.5" cy="518.3" r="0.9" fill="#7e6cb4"/>
<circle cx="108.3" cy="542.3" r="0.9" fill="#7e6cb4"/>
<circle cx="137" cy="505" r="0.8" fill="#7e6cb4"/>
<circle cx="116" cy="525" r="0.8" fill="#54449c"/>
<circle cx="140" cy="490" r="0.8" fill="#7e6cb4"/>
<circle cx="80.4" cy="535.6" r="3.8" fill="#54449c"/>
<circle cx="93.5" cy="530.8" r="3.2" fill="#7e6cb4"/>
<circle cx="74.6" cy="524" r="2.4" fill="#7e6cb4"/>
<rect x="85.2" y="498.6" width="15.4" height="13.4" fill="none" stroke="#222" stroke-width="1.1"/>
<rect x="69.4" y="519.2" width="30.4" height="26" fill="none" stroke="#222" stroke-width="1.1"/>
<line x1="71" y1="513" x2="85.2" y2="498.6" stroke="#222" stroke-width="0.9" stroke-dasharray="2.2 1.4"/>
<line x1="99.8" y1="519.2" x2="100.6" y2="512" stroke="#222" stroke-width="0.9" stroke-dasharray="2.2 1.4"/>
<line x1="133.8" y1="541.2" x2="153.5" y2="541.2" stroke="#111" stroke-width="1.6"/>
<rect x="165.4" y="482.3" width="84.6" height="62.9" fill="#cbcabe"/>
<circle cx="192" cy="487" r="1.3025014618726902" fill="#6a58a8"/>
<circle cx="195" cy="485" r="1.157662780521071" fill="#54449c"/>
<circle cx="198" cy="486.5" r="1.0429006900440707" fill="#54449c"/>
<circle cx="167.7" cy="489.4" r="1.091684440392759" fill="#6a58a8"/>
<circle cx="179.2" cy="498" r="1.1042366027099995" fill="#6a58a8"/>
<circle cx="184" cy="500" r="0.9243788553635841" fill="#6a58a8"/>
<circle cx="188.8" cy="499" r="1.3995880575325357" fill="#6a58a8"/>
<circle cx="189.8" cy="502" r="1.017255100834912" fill="#54449c"/>
<circle cx="187.9" cy="509.6" r="1.117473776112571" fill="#6a58a8"/>
<circle cx="193.7" cy="508.7" r="1.3488388040542745" fill="#54449c"/>
<circle cx="194.6" cy="511.5" r="1.3221155188043705" fill="#6a58a8"/>
<circle cx="196.5" cy="514.4" r="1.1465115093658713" fill="#54449c"/>
<circle cx="201.3" cy="515.4" r="1.238344675915533" fill="#54449c"/>
<circle cx="169.6" cy="516.3" r="1.1777980584603618" fill="#6a58a8"/>
<circle cx="173.5" cy="516.8" r="1.0357258022650508" fill="#54449c"/>
<circle cx="178.3" cy="516" r="0.9321072186560955" fill="#54449c"/>
<circle cx="183" cy="517" r="1.2395907665106825" fill="#6a58a8"/>
<circle cx="187" cy="516.3" r="1.0136592625804541" fill="#54449c"/>
<circle cx="191" cy="518" r="1.347724119707063" fill="#54449c"/>
<circle cx="229.2" cy="488.5" r="0.9092586088351053" fill="#54449c"/>
<circle cx="230.2" cy="492.3" r="1.2537477836685886" fill="#54449c"/>
<circle cx="225.4" cy="498" r="1.1516819827768323" fill="#6a58a8"/>
<circle cx="240.8" cy="497.1" r="1.1183335260878264" fill="#54449c"/>
<circle cx="241.7" cy="500" r="1.062471322287803" fill="#6a58a8"/>
<circle cx="234" cy="502" r="1.3031076655135219" fill="#6a58a8"/>
<circle cx="235" cy="506.7" r="0.974519291766778" fill="#6a58a8"/>
<circle cx="238.8" cy="510.6" r="1.2492559951591553" fill="#54449c"/>
<circle cx="224.4" cy="504.8" r="1.299469745481567" fill="#54449c"/>
<circle cx="246.5" cy="522" r="1.0177582286530857" fill="#6a58a8"/>
<circle cx="248.5" cy="531.7" r="1.2999397630274767" fill="#6a58a8"/>
<circle cx="198.5" cy="541.3" r="1.1535340694616956" fill="#6a58a8"/>
<circle cx="201.3" cy="540.4" r="1.018097064197932" fill="#54449c"/>
<circle cx="227.3" cy="543.3" r="0.9072681401819067" fill="#6a58a8"/>
<circle cx="199.4" cy="527" r="0.942912895543415" fill="#54449c"/>
<circle cx="212" cy="526" r="1.322463400736805" fill="#54449c"/>
<circle cx="213.8" cy="536.5" r="1.3755114905978998" fill="#54449c"/>
<circle cx="210" cy="539.4" r="1.0997126307894032" fill="#6a58a8"/>
<circle cx="204.2" cy="520.2" r="1.1780798877669485" fill="#54449c"/>
<circle cx="207" cy="522" r="1.020067664151388" fill="#6a58a8"/>
<circle cx="219" cy="510" r="1.2371948574433813" fill="#54449c"/>
<circle cx="212" cy="503" r="1.242102606192299" fill="#54449c"/>
<circle cx="205" cy="495" r="1.0109442795822274" fill="#54449c"/>
<circle cx="172" cy="507" r="1.2204700707406555" fill="#54449c"/>
<circle cx="177" cy="526" r="1.246111137322415" fill="#6a58a8"/>
<circle cx="181.5" cy="526" r="2.8" fill="#54449c"/>
<circle cx="168.7" cy="531.2" r="2.2" fill="#7e6cb4"/>
<circle cx="186.5" cy="541.3" r="2.2" fill="#7e6cb4"/>
<circle cx="190.4" cy="525.4" r="1.3" fill="#54449c"/>
<circle cx="226.3" cy="520.8" r="1.5" fill="#7e6cb4"/>
<circle cx="229.2" cy="529.8" r="1.4" fill="#54449c"/>
<rect x="216.2" y="517" width="17.3" height="15.7" fill="none" stroke="#222" stroke-width="1.1"/>
<rect x="165.4" y="520.2" width="27.6" height="25" fill="none" stroke="#222" stroke-width="1.1"/>
<line x1="193" y1="520.2" x2="216.2" y2="517" stroke="#222" stroke-width="0.9" stroke-dasharray="2.2 1.4"/>
<line x1="193" y1="545.2" x2="216.2" y2="532.7" stroke="#222" stroke-width="0.9" stroke-dasharray="2.2 1.4"/>
<line x1="228.3" y1="541.4" x2="248.5" y2="541.4" stroke="#111" stroke-width="1.6"/>
<rect x="262.5" y="482.3" width="84.6" height="62.9" fill="#c8c8ce"/>
<g filter="url(#bl)">
<circle cx="309.6" cy="503.8" r="6" fill="#b0a8cc"/>
<circle cx="318.3" cy="528.8" r="5.5" fill="#aea6ca"/>
<circle cx="275" cy="528" r="4" fill="#b4b0cc"/>
<circle cx="296" cy="496" r="3" fill="#bcb8d0"/>
<circle cx="333" cy="511" r="3" fill="#b8b4d0"/>
<circle cx="337" cy="521" r="2.5" fill="#bab6d0"/>
<circle cx="300" cy="536" r="3" fill="#bcb8d0"/>
<circle cx="328" cy="540" r="2.5" fill="#bcb8d0"/>
<circle cx="285" cy="489" r="2.5" fill="#b4aed0"/>
<circle cx="330" cy="493" r="2.5" fill="#b4aed0"/>
<circle cx="270" cy="509" r="2" fill="#b4aed0"/>
</g>
<rect x="262.5" y="482.3" width="84.6" height="62.9" fill="none"/>
<circle cx="309.6" cy="503.8" r="3.2" fill="#6a5ab0"/>
<circle cx="318.3" cy="528.8" r="3.2" fill="#5a4aa8"/>
<circle cx="285" cy="489" r="1.3" fill="#7e6cb4"/>
<circle cx="287" cy="486" r="1.0" fill="#7e6cb4"/>
<circle cx="325" cy="488" r="0.9" fill="#7e6cb4"/>
<circle cx="330" cy="494" r="1.2" fill="#8a80b8"/>
<circle cx="333" cy="492" r="1" fill="#54449c"/>
<circle cx="335" cy="510" r="1.2" fill="#9088c0"/>
<circle cx="340" cy="512" r="1.2" fill="#9088c0"/>
<circle cx="296" cy="507" r="0.9" fill="#7e6cb4"/>
<circle cx="297" cy="514" r="1.0" fill="#54449c"/>
<circle cx="316" cy="524" r="0.9" fill="#54449c"/>
<circle cx="313" cy="532" r="0.9" fill="#54449c"/>
<circle cx="345" cy="500" r="1.1" fill="#7e6cb4"/>
<circle cx="290" cy="542" r="1.1" fill="#54449c"/>
<circle cx="270" cy="509" r="1.1" fill="#7a70b0"/>
<circle cx="284" cy="541" r="1.4" fill="#6a5ab0"/>
<circle cx="275" cy="526" r="1.6" fill="#9088c0"/>
<circle cx="316" cy="530" r="1.2" fill="#3a2a80"/>
<rect x="262.5" y="503.5" width="16.7" height="14.8" fill="none" stroke="#222" stroke-width="1.1"/>
<rect x="262.5" y="520.2" width="26.9" height="25" fill="none" stroke="#222" stroke-width="1.1"/>
<line x1="279.2" y1="503.5" x2="289.4" y2="520.2" stroke="#222" stroke-width="0.9" stroke-dasharray="2.2 1.4"/>
<line x1="325" y1="541.2" x2="344.2" y2="541.2" stroke="#111" stroke-width="1.6"/>
</svg></body></html>
